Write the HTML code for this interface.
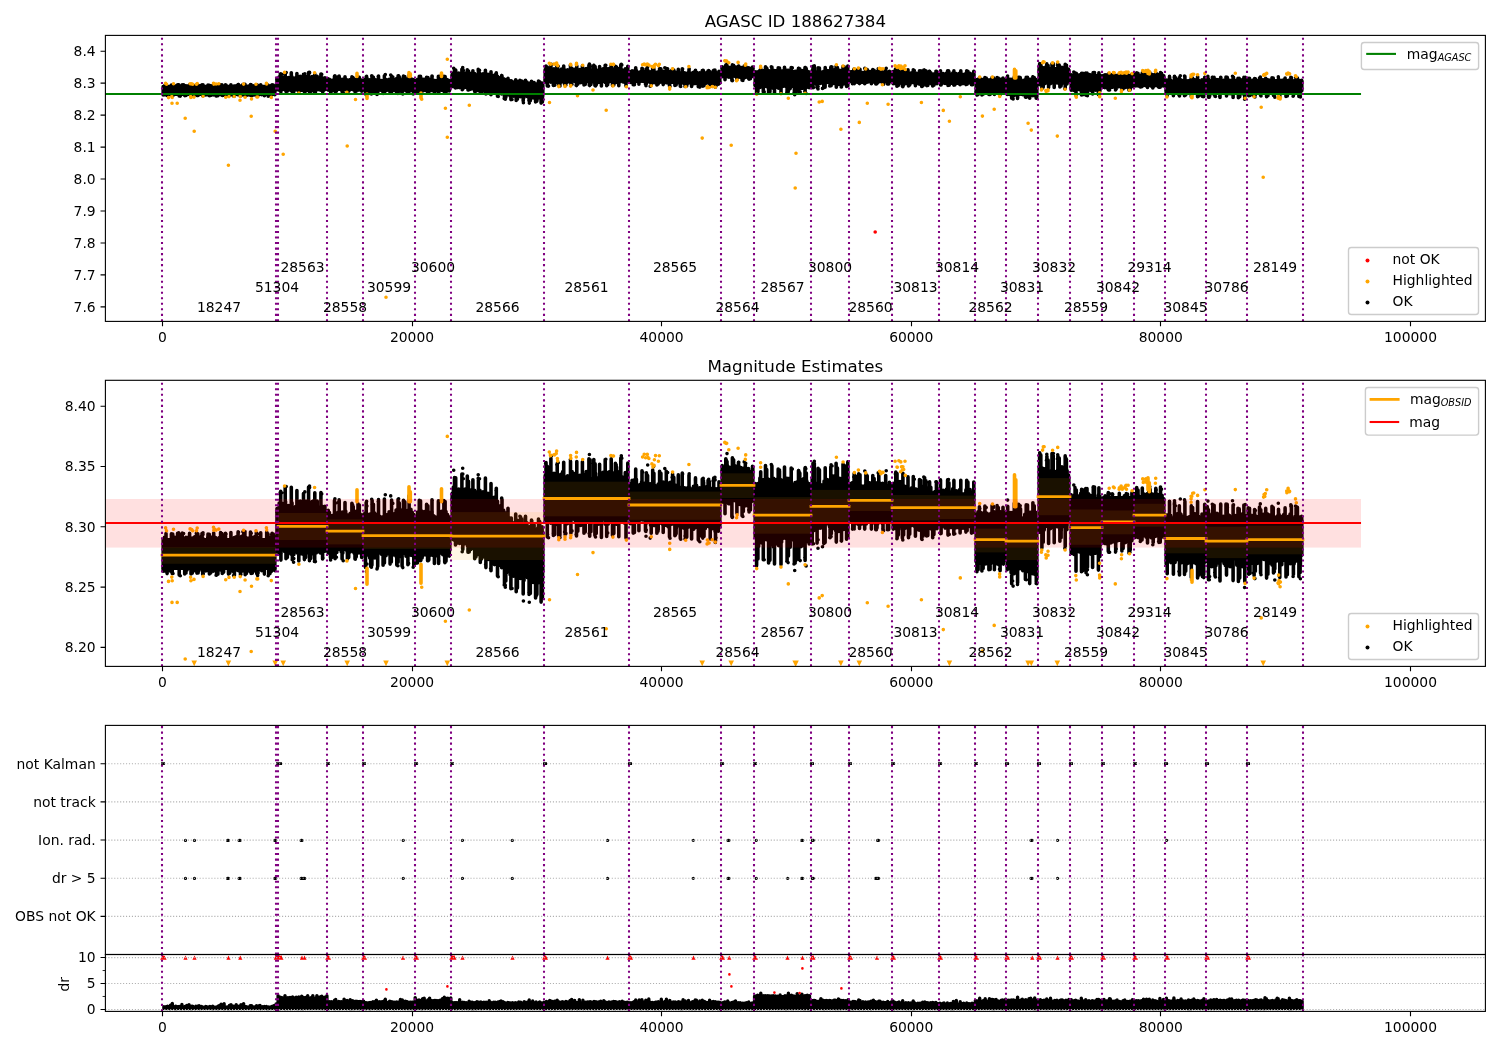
<!DOCTYPE html>
<html><head><meta charset="utf-8"><title>AGASC ID 188627384</title><style>html,body{margin:0;padding:0;background:#fff;overflow:hidden}svg{display:block;will-change:transform}</style></head><body>
<svg width="1500" height="1050" viewBox="0 0 1500 1050" font-family="'DejaVu Sans', 'Liberation Sans', sans-serif">
<defs>
<clipPath id="c0"><rect x="105.4" y="35.4" width="1380" height="286"/></clipPath>
<clipPath id="c1"><rect x="105.4" y="380.3" width="1380" height="286.1"/></clipPath>
<clipPath id="c2"><rect x="105.4" y="725.4" width="1380" height="229.1"/></clipPath>
<clipPath id="c3"><rect x="105.4" y="954.5" width="1380" height="56.9"/></clipPath>
</defs>
<rect width="1500" height="1050" fill="#fff"/>
<g clip-path="url(#c0)">
<path d="M163.2 86.6L274.8 86.6L274.8 94.1L163.2 94.1zM277 79.2L277 79.2L277 89.4L277 89.4zM279.2 79.2L325.8 79.2L325.8 89.1L279.2 89.1zM328.2 80.8L361.8 80.8L361.8 89.1L328.2 89.1zM364.2 81.8L413.8 80.5L413.8 89.4L364.2 89.4zM416.2 81.3L449.8 81.3L449.8 89.4L416.2 89.4zM452.2 75.8L475 76.3L490 76.5L505 80.5L515 82.6L542.8 84.7L542.8 94.6L515 93.6L505 92.8L490 90.4L475 88.3L452.2 85.8zM545.2 71.5L627.8 71.5L627.8 80.1L545.2 80.1zM630.2 72.8L719.8 74.7L719.8 82.4L630.2 80.4zM722.2 68.3L752.8 68.6L752.8 75.6L722.2 75.6zM755.2 73.1L809.8 73.1L809.8 84.9L755.2 84.9zM812.2 72.8L847.8 72.8L847.8 81.7L812.2 81.7zM850.2 73.4L890.8 73.4L890.8 81.4L850.2 81.4zM893.2 72.9L937.8 74.6L937.8 82.2L893.2 82.2zM940.2 74.9L973.8 74.9L973.8 82.2L940.2 82.2zM976.2 80.5L1004.8 80.5L1004.8 92L976.2 92zM1007.2 81.3L1036.8 81.3L1036.8 93.6L1007.2 93.6zM1039.2 70.2L1068.8 70.2L1068.8 81.4L1039.2 81.4zM1071.2 75.7L1100.8 75.7L1100.8 87.8L1071.2 87.8zM1103.2 75.5L1132.8 75.5L1132.8 86.2L1103.2 86.2zM1135.2 75.7L1163.8 75.7L1163.8 85.1L1135.2 85.1zM1166.2 81.8L1204.8 81.8L1204.8 90.4L1166.2 90.4zM1207.2 81.6L1245.8 81.6L1245.8 90.7L1207.2 90.7zM1248.2 81.6L1301.8 81.6L1301.8 90.7L1248.2 90.7z" fill="#000" stroke="#000" stroke-width="3.6" stroke-linejoin="round"/><path d="M164.5 86.6V85.9M165.8 86.6V86M171.7 86.6V86.1M174.9 86.6V85.9M176.9 86.6V86M178.4 86.6V85.7M179.6 86.6V85.8M185.9 86.6V85.9M187.4 86.6V86M190 86.6V85.9M193.2 86.6V86.1M194.7 86.6V85.8M198.1 86.6V86M200 86.6V85.9M201.4 86.6V85.7M202.7 86.6V86.1M207.8 86.6V85.8M209.5 86.6V85.7M210.9 86.6V85.9M212.6 86.6V86M214.2 86.6V85.8M216.1 86.6V86M219.6 86.6V85.9M221.6 86.6V85.8M223.1 86.6V86.1M230.9 86.6V86.1M234.3 86.6V86M236.2 86.6V85.8M239.6 86.6V86.1M241.6 86.6V85.7M245.9 86.6V86M248.8 86.6V86.1M250.4 86.6V85.7M252.2 86.6V86M253.9 86.6V85.9M255.1 86.6V85.7M257 86.6V85.7M258.8 86.6V86.1M270.6 86.6V85.9M273.4 86.6V86.1M274.7 86.6V85.8M166 86.6V85M171.4 86.6V85M172.7 86.6V85.1M177.6 86.6V84.9M178.8 86.6V84.9M182.3 86.6V84.8M189.6 86.6V84.9M196.6 86.6V85M197.8 86.6V85M202 86.6V84.9M208 86.6V85.1M209.3 86.6V85.2M213.7 86.6V84.8M220.6 86.6V84.7M221.9 86.6V84.9M225.5 86.6V84.9M230.9 86.6V84.7M238.1 86.6V84.5M243.7 86.6V84.5M244.9 86.6V84.6M250.5 86.6V84.5M256.3 86.6V84.8M260.7 86.6V84.7M266.7 86.6V84.6M267.9 86.6V85M272.1 86.6V84.9M273.3 86.6V85.1M163.2 94.1V94.9M164.9 94.1V94.8M166.2 94.1V94.9M167.4 94.1V94.9M170.6 94.1V94.9M185.7 94.1V94.7M187.1 94.1V94.6M192.5 94.1V94.9M194 94.1V94.6M195.7 94.1V95M197.2 94.1V94.9M199 94.1V94.7M203 94.1V94.8M205.7 94.1V94.9M207.6 94.1V94.8M210.4 94.1V94.6M213.2 94.1V94.9M215.1 94.1V94.7M216.5 94.1V94.9M220.8 94.1V94.6M222.1 94.1V94.6M228.9 94.1V94.7M230.7 94.1V94.7M232.5 94.1V94.9M237.8 94.1V94.7M239 94.1V94.9M240.9 94.1V94.7M242.7 94.1V94.8M244 94.1V94.7M245.6 94.1V94.9M247.5 94.1V94.9M249.2 94.1V94.9M250.9 94.1V94.8M254.9 94.1V94.9M256.5 94.1V94.7M258.2 94.1V94.8M261.7 94.1V94.8M263.3 94.1V94.7M271.6 94.1V94.9M274.8 94.1V94.8M167.1 94.1V95.5M172.2 94.1V95.5M179.2 94.1V96M184.7 94.1V95.6M185.9 94.1V95.3M191 94.1V95.7M192.2 94.1V95.5M196.9 94.1V95.4M198.1 94.1V95.4M202.7 94.1V95.7M209.4 94.1V95.7M210.7 94.1V95.4M216.6 94.1V96M217.9 94.1V95.8M222.3 94.1V95.5M223.6 94.1V95.2M228.5 94.1V95.7M229.7 94.1V95.5M234.4 94.1V96M240.5 94.1V95.9M245.2 94.1V95.9M246.4 94.1V95.5M251.1 94.1V95.5M252.3 94.1V95.5M256.8 94.1V95.6M258 94.1V95.5M264.4 94.1V95.7M268.8 94.1V95.8M270 94.1V95.6M277 79.2V78.3M277 89.4V89.8M279.2 79.2V76.9M280.6 79.2V78.5M282.2 79.2V77M283.8 79.2V77.9M285.5 79.2V76.4M286.9 79.2V78.4M288.4 79.2V77.5M290.1 79.2V78.1M292 79.2V76.8M293.6 79.2V78M295.5 79.2V77.8M297.4 79.2V78M298.8 79.2V76.8M300.2 79.2V76.3M301.8 79.2V78.1M303.2 79.2V77.6M304.9 79.2V76.3M306.2 79.2V77.6M307.6 79.2V76.3M308.9 79.2V78.4M310.2 79.2V77.6M312.1 79.2V76.5M313.9 79.2V76.2M315.8 79.2V77.8M317.2 79.2V76.4M319 79.2V78.4M320.7 79.2V77.6M322.2 79.2V77.8M323.5 79.2V78.5M324.9 79.2V77.7M280.7 79.2V73.8M285.2 79.2V72.7M291.3 79.2V72.7M296.9 79.2V73.6M303.5 79.2V74.3M308.6 79.2V72.6M314.8 79.2V74.1M320.9 79.2V74.1M279.2 89.1V90.2M281 89.1V90.4M284.6 89.1V89.7M286.3 89.1V89.8M288 89.1V89.6M289.4 89.1V89.7M290.8 89.1V90.4M292.4 89.1V89.8M293.9 89.1V90.5M295.6 89.1V89.7M297.4 89.1V90.1M301 89.1V90.3M302.8 89.1V90.4M304.1 89.1V89.7M305.4 89.1V89.6M307.4 89.1V90.1M309.3 89.1V89.8M311.2 89.1V89.9M312.6 89.1V90.3M316.2 89.1V90.1M317.6 89.1V89.8M318.9 89.1V89.6M320.3 89.1V90.1M322 89.1V89.6M323.3 89.1V89.8M325 89.1V89.6M280.9 89.1V92M286 89.1V91.6M287.3 89.1V91.3M292.4 89.1V91.8M298.8 89.1V92.2M304.4 89.1V91.8M305.6 89.1V91.3M309.5 89.1V92.2M310.7 89.1V91.5M314.7 89.1V92.2M322.6 89.1V91.7M328.2 80.8V78.8M329.4 80.8V79.4M331.2 80.8V80.2M333.1 80.8V80.1M334.8 80.8V79.4M336.5 80.8V79.8M338 80.8V79.3M339.6 80.8V79.2M341.1 80.8V79.6M342.3 80.8V79.3M343.9 80.8V79.9M345.7 80.8V79M347.3 80.8V80M348.9 80.8V80.1M350.2 80.8V79.6M351.5 80.8V79.6M353.1 80.8V80.2M354.8 80.8V80.2M356.6 80.8V79M358.2 80.8V80.2M359.8 80.8V79.7M361.7 80.8V80.1M334.5 80.8V76.2M339.2 80.8V76.2M345 80.8V76.7M351.9 80.8V76.9M353.2 80.8V77.8M358 80.8V77.1M359.3 80.8V77.4M328.2 89.1V90.1M333.4 89.1V89.6M335.1 89.1V90.3M336.8 89.1V90M341.2 89.1V89.8M342.8 89.1V90.2M347 89.1V89.7M348.3 89.1V89.7M349.7 89.1V89.9M353 89.1V89.8M354.3 89.1V90.2M357 89.1V90M358.9 89.1V90.1M360.4 89.1V89.6M361.6 89.1V90M330.5 89.1V91.4M331.8 89.1V91.3M335.1 89.1V91.6M342.1 89.1V91.7M347.4 89.1V91.7M348.7 89.1V91.3M355 89.1V91.7M356.2 89.1V91.2M361.7 89.1V91.3M361.8 89.1V90.7M364.2 81.8V79.7M365.7 81.8V79.4M367.1 81.7V80.7M369.1 81.7V79.8M370.8 81.6V79.7M372.8 81.6V80M374.7 81.5V79.5M376.5 81.5V80M378.3 81.4V79.7M379.8 81.4V80.4M381.5 81.4V80.6M383.4 81.3V80.4M384.6 81.3V80.5M386.6 81.2V79.9M387.9 81.2V80.6M389.1 81.2V79.2M390.8 81.1V79.1M392.6 81.1V80.4M394.3 81V79.7M396.1 81V78.7M398 80.9V80.2M399.9 80.9V78.4M401.9 80.8V80M403.3 80.8V80M404.5 80.8V78.5M406.3 80.7V78.9M408.2 80.7V78.8M409.6 80.6V79.9M410.9 80.6V78.5M412.3 80.6V79.3M413.8 80.5V79.9M366.2 81.8V76.7M372.1 81.6V76.1M373.4 81.6V77.2M378.5 81.4V76.2M384.4 81.3V75.8M391.6 81.1V76.1M398.1 80.9V75.9M399.3 80.9V76.9M403.5 80.8V76.1M404.8 80.8V76.5M409.1 80.7V75M364.2 89.4V90.1M365.5 89.4V90.2M367 89.4V90.7M368.3 89.4V90.4M369.7 89.4V91.4M371.4 89.4V90M373.4 89.4V90M374.9 89.4V91.4M376.8 89.4V91M378.3 89.4V90.1M380 89.4V90M381.4 89.4V90.4M382.6 89.4V90.5M384.4 89.4V90.9M386 89.4V90.8M387.6 89.4V90M389.3 89.4V90.4M391.1 89.4V91.2M392.6 89.4V90.7M394.4 89.4V90.5M395.8 89.4V90.9M397.7 89.4V91M399.5 89.4V91.1M401.2 89.4V90.8M402.8 89.4V90.3M404.5 89.4V89.9M406 89.4V91M407.8 89.4V90.7M409.2 89.4V90.4M410.8 89.4V90.7M412.3 89.4V90.8M365.5 89.4V93.9M370.7 89.4V93.7M371.9 89.4V93.4M377.7 89.4V93.7M383.1 89.4V93.4M384.4 89.4V92.7M390.1 89.4V93M391.3 89.4V92.5M396.8 89.4V93.3M398.1 89.4V92.5M402.1 89.4V93.6M407.9 89.4V93.2M413.8 89.4V93.5M413.8 89.4V92.6M416.2 81.3V80.5M417.6 81.3V79.2M419.1 81.3V80.5M421 81.3V79.2M422.3 81.3V79M424 81.3V79.2M425.7 81.3V79M427.6 81.3V79.1M428.9 81.3V79.4M430.6 81.3V79.3M432.1 81.3V79M433.8 81.3V80.2M435.1 81.3V80.5M436.7 81.3V80.6M438.3 81.3V80.5M439.9 81.3V79.8M441.5 81.3V79.1M442.7 81.3V79.1M444.3 81.3V79.7M446 81.3V79.1M447.5 81.3V79.9M449.5 81.3V80.6M419.3 81.3V76.2M420.5 81.3V76.3M426.6 81.3V77.2M427.9 81.3V77.6M432 81.3V76M438.4 81.3V76.3M443.9 81.3V76.2M445.1 81.3V76.5M419 89.4V90.9M420.7 89.4V90.6M422.5 89.4V90.9M424.2 89.4V90.5M425.9 89.4V90.6M427.6 89.4V90.6M428.9 89.4V90.6M430.5 89.4V90.7M431.8 89.4V90M433 89.4V90.7M435 89.4V90.6M436.5 89.4V90.8M438.3 89.4V90.5M439.7 89.4V90.1M441.2 89.4V90.1M442.8 89.4V90.6M447.7 89.4V90.8M449.3 89.4V90.9M416.2 89.4V92.8M417.4 89.4V92.8M420.9 89.4V92M422.1 89.4V91.4M427.6 89.4V92.1M428.8 89.4V91.9M434.4 89.4V92.9M438.6 89.4V92.9M444.7 89.4V92.6M446 89.4V92.3M452.2 75.8V74.3M453.4 75.8V72.7M455.2 75.8V73.1M456.7 75.9V73.7M458.7 75.9V73.1M460.3 75.9V74.5M461.9 76V73.1M463.4 76V73.6M465.1 76.1V73.2M466.9 76.1V74.7M468.1 76.1V74.8M469.7 76.2V74M471.5 76.2V73.3M472.7 76.2V73.5M474.6 76.3V73.5M476.2 76.3V74.9M478.1 76.3V73.7M479.9 76.4V73.5M481.4 76.4V75.5M483 76.4V73.9M484.4 76.4V74M486.3 76.5V75.3M488 76.5V74.3M489.6 76.5V75.4M491 76.8V74.5M492.8 77.3V75.7M494.1 77.6V75.4M495.9 78.1V77.1M497.5 78.5V76.4M499.5 79V77.7M501 79.5V78.1M502.4 79.8V79.1M503.7 80.2V78.8M505.2 80.6V79.5M506.7 80.9V79.9M510.1 81.6V80.8M511.3 81.9V80.8M514.9 82.6V82M517.7 82.8V81.5M519.6 83V82.2M521.2 83.1V82.5M523.1 83.2V82.5M525 83.4V82.2M526.9 83.5V82.1M529.6 83.7V83.2M532.6 83.9V82.6M534.1 84V82.6M537.7 84.3V83.5M539 84.4V82.9M540.4 84.5V83.5M542.1 84.6V83.1M454.5 75.8V70.1M455.7 75.8V70.1M461.9 76V69.2M467.3 76.1V69.7M468.5 76.1V71.1M472.9 76.2V70.7M478.4 76.3V70.8M485.4 76.5V70.2M491 76.8V71.7M496.3 78.2V72.9M502 79.7V75.9M508 81.2V78.2M515.7 82.7V79.8M520.5 83V80.5M521.8 83V81.1M525.5 83.4V80.3M531.5 83.8V81.4M538.5 84.3V81.1M539.7 84.3V81.8M452.2 85.8V86.4M453.4 85.9V86.6M454.9 86.1V86.8M456.8 86.3V86.9M458 86.4V87.4M459.6 86.6V87.6M462.9 87V87.6M464.2 87.1V87.7M467.5 87.5V88.3M470.9 87.8V89.1M472.8 88.1V88.8M474.5 88.3V89.1M478.2 88.8V90.5M479.8 89V90.1M481.5 89.2V90.4M482.7 89.4V91.3M484.1 89.6V90.3M485.3 89.8V90.6M487.2 90V90.5M488.5 90.2V91.8M489.8 90.4V90.9M491.5 90.7V92.1M493.1 90.9V92.6M494.4 91.1V93.2M496.2 91.4V92M497.5 91.6V93.1M499.1 91.9V92.9M500.4 92.1V93.4M501.7 92.3V94M503.6 92.6V93.4M505.2 92.8V94.9M506.6 92.9V95.3M508.5 93.1V94.6M510.1 93.2V95.9M511.7 93.3V95M513.6 93.5V96.3M515.1 93.6V95M516.6 93.7V95.6M518.6 93.7V96.7M520.5 93.8V96.8M522.4 93.9V94.8M524 93.9V97.4M525.9 94V95.5M527.5 94.1V96.7M528.9 94.1V96.5M530.2 94.2V96.2M531.8 94.2V95.1M533.1 94.3V97.9M534.9 94.3V97.9M536.6 94.4V97.6M538.6 94.5V98M539.8 94.5V97.3M541.2 94.6V97.5M542.6 94.6V97.1M455.5 86.2V87.9M462.8 87V89.1M468 87.5V89.9M469.2 87.5V89.8M474.7 88.3V91.6M475.9 88.3V91.2M480.3 89V92.6M481.5 89V91.7M485.9 89.8V93.8M491 90.6V94.8M497.5 91.6V96.2M504.5 92.7V98.2M505.8 92.7V97.5M510.9 93.3V99.6M516.2 93.6V100.4M517.4 93.6V99.3M523.2 93.9V101M529.1 94.1V101.1M530.3 94.1V100.8M535.6 94.4V102M536.9 94.4V101.1M541.1 94.6V103.1M542.4 94.6V102.1M545.2 71.5V69.5M546.9 71.5V68.8M548.8 71.5V69.7M550.4 71.5V69.4M552.4 71.5V70M554 71.5V68.9M555.3 71.5V70.1M557.3 71.5V68.9M558.9 71.5V70.6M560.8 71.5V69.2M562.7 71.5V68.5M564.6 71.5V69.9M565.9 71.5V70.2M567.6 71.5V69.7M568.9 71.5V70.4M570.6 71.5V69.4M572.1 71.5V68.5M573.8 71.5V70.7M575.3 71.5V69M576.8 71.5V69.2M578 71.5V70.1M579.8 71.5V69.5M581.6 71.5V70.4M583.2 71.5V69.6M584.6 71.5V69.3M586.2 71.5V68.5M587.9 71.5V69.9M589.2 71.5V70.5M591 71.5V70.6M592.3 71.5V70.4M593.9 71.5V68.9M595.6 71.5V69M596.8 71.5V70.8M598.6 71.5V70.1M600.4 71.5V70M601.7 71.5V70.2M603 71.5V68.7M604.7 71.5V70M606.3 71.5V69.9M607.5 71.5V68.8M609.2 71.5V68.6M610.7 71.5V69.4M612.1 71.5V70.7M614.1 71.5V68.9M615.5 71.5V68.8M617.4 71.5V70.1M619 71.5V68.6M620.6 71.5V68.6M622 71.5V69.9M623.8 71.5V70.3M625.3 71.5V68.8M626.8 71.5V69M546 71.5V66.1M547.3 71.5V67.1M550.9 71.5V65.1M557.2 71.5V66.4M563.7 71.5V66M570.5 71.5V65.8M576.8 71.5V65.9M582.4 71.5V65.9M588.9 71.5V65.2M590.1 71.5V65.4M593.8 71.5V65.3M595.1 71.5V66.5M599.6 71.5V66.6M605.2 71.5V65.3M611.2 71.5V65.2M615.4 71.5V66.3M616.6 71.5V67.4M620.8 71.5V64.9M627.8 71.5V66.3M627.8 71.5V67.5M545.2 80.1V81.9M546.6 80.1V80.8M548.1 80.1V81.6M549.4 80.1V81.4M550.8 80.1V82.2M552.5 80.1V81.2M553.9 80.1V81.8M555.4 80.1V82.7M556.9 80.1V81.3M558.8 80.1V81M560.5 80.1V81.4M562.3 80.1V81.9M564.1 80.1V81.1M565.9 80.1V82M567.4 80.1V82.3M569.3 80.1V80.9M570.7 80.1V81.5M572.1 80.1V80.8M573.5 80.1V81.1M575.3 80.1V81.7M576.6 80.1V81.4M578.2 80.1V81.5M579.5 80.1V80.8M580.7 80.1V82.8M582.5 80.1V80.9M584.3 80.1V82.8M585.9 80.1V80.9M587.5 80.1V81.6M588.9 80.1V81.9M590.1 80.1V82.7M591.8 80.1V82M593.7 80.1V82.1M595.1 80.1V81.2M596.5 80.1V80.8M598.3 80.1V82.5M599.7 80.1V81.1M601.4 80.1V82.5M603.4 80.1V81.1M605.2 80.1V82.5M607 80.1V81.4M608.3 80.1V82.5M609.8 80.1V81.5M611.4 80.1V81.5M613.3 80.1V81.2M614.5 80.1V81.9M616.2 80.1V82.4M618 80.1V82.6M619.9 80.1V81.7M621.5 80.1V81M623 80.1V81.9M624.3 80.1V82.2M625.6 80.1V81.6M627.6 80.1V80.9M547.3 80.1V85.9M553.4 80.1V85.5M554.7 80.1V85.2M558.7 80.1V85.5M559.9 80.1V85.4M565.1 80.1V85.2M570.9 80.1V84.8M576.5 80.1V85.6M577.8 80.1V84.3M584 80.1V84.9M585.2 80.1V84.5M589.7 80.1V85.6M590.9 80.1V84.4M594.9 80.1V85.4M596.2 80.1V84.9M601.4 80.1V86M606.7 80.1V85.7M612.5 80.1V85.5M613.8 80.1V84.9M618.8 80.1V85.8M626 80.1V86.1M630.2 72.8V71.9M632.1 72.9V70.8M633.6 72.9V71.3M634.9 72.9V70.6M636.4 73V70.6M638.1 73V72.3M639.6 73V72M641.5 73.1V71.3M642.7 73.1V72.2M644.2 73.1V71.6M645.9 73.2V71.8M647.3 73.2V72.6M649 73.2V72M650.2 73.3V71.8M652.2 73.3V72.6M653.5 73.3V71.4M654.9 73.3V72.3M656.5 73.4V72.3M658.2 73.4V71.8M660.2 73.5V71M661.4 73.5V71.9M663.2 73.5V71.3M665 73.6V71.8M666.7 73.6V72.4M668.2 73.6V71.6M670.1 73.7V71.4M671.8 73.7V72.6M673.6 73.7V71.9M675.2 73.8V72.1M676.7 73.8V72.3M678.2 73.8V73.2M679.7 73.8V72.8M681.7 73.9V72.5M683.2 73.9V73M684.6 73.9V72.8M685.9 74V73.5M687.8 74V72.7M689.3 74V72.6M690.8 74.1V73.3M692 74.1V73.1M693.5 74.1V72.4M695.1 74.2V72.1M696.6 74.2V72.2M698.3 74.2V73.6M699.6 74.2V72.8M701.6 74.3V73.2M703.4 74.3V73.2M705.3 74.4V73.8M706.9 74.4V72.5M708.3 74.4V73.6M709.5 74.4V73.7M710.9 74.5V72.9M712.3 74.5V73.4M713.7 74.5V73.2M715.6 74.6V73.1M716.9 74.6V73.1M718.9 74.6V73.3M635.7 73V67.8M642 73.1V68.3M646.4 73.2V68.9M647.6 73.2V69.6M652.7 73.3V68.1M653.9 73.3V69M659.6 73.4V68.5M660.9 73.4V68.9M666.3 73.6V68.5M672.6 73.7V69.2M673.8 73.7V70.1M678.3 73.8V69.4M682.2 73.9V69.1M689 74V69.4M695.5 74.2V70.2M702.3 74.3V70.5M703.6 74.3V71.3M708.1 74.4V70.8M709.4 74.4V71.2M713.7 74.5V70.3M719 74.6V71.2M719.8 74.6V72M630.2 80.4V82.4M631.4 80.4V81.2M633.3 80.4V82M634.5 80.5V81.7M635.9 80.5V81.6M637.2 80.5V81M639.2 80.6V81.5M641.1 80.6V81.3M642.6 80.7V81.3M644.2 80.7V81.4M645.9 80.7V81.4M647.7 80.8V82.1M649 80.8V81.8M650.6 80.8V82.8M652.1 80.9V81.7M654.1 80.9V82.8M655.9 81V81.9M657.2 81V81.9M658.4 81V81.6M660.1 81.1V82.2M661.7 81.1V82.2M662.9 81.1V82.7M664.6 81.2V82.5M666.3 81.2V82.8M668.3 81.3V83.2M670 81.3V82.4M671.5 81.3V82.5M673.5 81.4V82.5M675 81.4V82.6M676.3 81.4V83.6M677.5 81.5V83M679.4 81.5V82.4M681.1 81.6V82.7M682.5 81.6V82.4M683.8 81.6V83.5M685.6 81.7V83.7M686.9 81.7V83.3M688.3 81.7V83.3M690 81.8V82.8M691.9 81.8V82.3M693.7 81.8V83.8M695.4 81.9V83.4M697.4 81.9V82.8M699.1 82V83.7M700.6 82V83.7M702.1 82V83.4M703.8 82.1V83.7M705.2 82.1V83.7M706.9 82.1V83M708.5 82.2V83.1M710.5 82.2V83.5M712.2 82.3V83.7M713.8 82.3V83.2M715.1 82.3V84.5M716.8 82.4V83.8M718.4 82.4V84.3M719.8 82.4V83.2M633.2 80.4V84.8M634.4 80.4V84.7M638.9 80.6V84.2M645.5 80.7V84.3M651.2 80.9V84.9M656.9 81V84.9M658.2 81V84M663.2 81.1V84.6M669.5 81.3V85.9M674.9 81.4V85.5M676.1 81.4V85M680.3 81.5V86.2M685.4 81.7V86.2M686.7 81.7V85.9M691.6 81.8V86.4M698.3 81.9V86.7M699.5 81.9V85.7M702.8 82.1V86.2M704 82.1V85.7M710.2 82.2V86.4M715.5 82.3V86.9M722.2 68.3V66.9M723.7 68.3V67.5M725.5 68.4V67.5M727.3 68.4V66.8M728.9 68.4V67.3M730.9 68.4V67.4M734.3 68.4V67.3M735.6 68.4V67.1M736.8 68.4V67.4M738.2 68.5V67.1M739.8 68.5V67.3M741.4 68.5V67.5M743.2 68.5V68M744.5 68.5V67.5M745.8 68.5V67.5M748.5 68.5V67.7M725.8 68.4V65.1M727 68.4V65.9M732.4 68.4V64.9M733.6 68.4V65.4M738.5 68.5V66.1M745.3 68.5V66.5M752.5 68.6V67.1M752.8 68.6V67.5M722.2 75.6V76.7M723.8 75.6V76.5M725.6 75.6V76.4M727.4 75.6V76.6M728.6 75.6V77.1M729.9 75.6V77.1M731.7 75.6V77.1M733.3 75.6V76.1M734.9 75.6V76.3M736.6 75.6V76.3M738.3 75.6V76.7M739.8 75.6V77.3M741.1 75.6V76.4M743.1 75.6V76.7M745 75.6V77.6M746.5 75.6V76.3M747.8 75.6V77.6M749.1 75.6V77M750.7 75.6V76.3M752.3 75.6V76.4M725 75.6V79.7M731.9 75.6V80.5M736.9 75.6V79.3M742.1 75.6V80.2M743.3 75.6V79.1M749.1 75.6V79.2M750.4 75.6V78.7M755.2 73.1V71.7M756.5 73.1V72M757.9 73.1V71.7M759.9 73.1V70.2M761.7 73.1V71.4M763.3 73.1V70.7M765.2 73.1V70.8M766.9 73.1V72M768.6 73.1V70.6M770.5 73.1V72.2M772.2 73.1V71.7M773.6 73.1V70.3M775.3 73.1V70.8M776.6 73.1V70.6M778.6 73.1V70.4M780.4 73.1V70.6M782.2 73.1V71.1M783.8 73.1V70.6M785.6 73.1V70.5M787 73.1V70.3M788.6 73.1V70.3M789.9 73.1V70.3M791.8 73.1V71.9M793.6 73.1V71.9M795 73.1V71.4M796.4 73.1V71.4M798.3 73.1V70.9M800.1 73.1V71.6M801.9 73.1V70.7M803.7 73.1V70.4M805.5 73.1V71.5M806.8 73.1V71M808.7 73.1V71.7M760.7 73.1V68.6M765.5 73.1V66.9M766.7 73.1V68M771.9 73.1V67M778.2 73.1V67.9M779.5 73.1V68.4M784.5 73.1V67.3M791.2 73.1V67.6M798.5 73.1V68.2M799.8 73.1V68.9M805 73.1V67.6M806.3 73.1V68.9M755.2 84.9V85.8M756.7 84.9V86.1M758.6 84.9V88.3M759.9 84.9V87.4M761.6 84.9V85.8M763.1 84.9V87.9M764.8 84.9V86.5M766.6 84.9V86.6M768.3 84.9V87M770.3 84.9V87.6M772.1 84.9V87.7M773.6 84.9V88.6M775.4 84.9V87.8M776.8 84.9V86.2M778.5 84.9V88.2M780.3 84.9V86.7M781.6 84.9V87.2M783.5 84.9V86.2M785.3 84.9V86.2M786.7 84.9V85.9M788.2 84.9V86.8M790.2 84.9V88.6M791.5 84.9V86.6M793.5 84.9V86.3M794.9 84.9V87M796.2 84.9V86.5M797.7 84.9V86.8M799.7 84.9V86.5M801.1 84.9V88.4M802.6 84.9V88.2M804.3 84.9V88M805.8 84.9V86.2M807.6 84.9V87.1M809.2 84.9V87.7M756.6 84.9V93.2M757.9 84.9V91.7M763.3 84.9V91.9M768.6 84.9V92.7M769.9 84.9V92M774.5 84.9V93M781 84.9V93.2M787.1 84.9V92.3M788.4 84.9V90.9M794.4 84.9V92.9M795.6 84.9V92.2M798.8 84.9V91.8M805.1 84.9V92.1M812.2 72.8V70.5M813.7 72.8V71.3M815.3 72.8V71.6M817.2 72.8V71.6M819 72.8V70.1M820.7 72.8V72M822.5 72.8V72M824.1 72.8V71M825.3 72.8V70.5M827.1 72.8V70.6M828.6 72.8V70.8M830.3 72.8V71.5M832.2 72.8V69.6M834 72.8V69.7M835.5 72.8V69.6M836.8 72.8V70.9M838.1 72.8V71M839.8 72.8V70.3M841.4 72.8V71.3M842.7 72.8V71.1M844.2 72.8V71.6M846 72.8V70.8M847.5 72.8V71.6M813 72.8V66.3M814.3 72.8V66.3M818.1 72.8V67.7M819.4 72.8V68M825.2 72.8V67.5M830.8 72.8V67.3M836.1 72.8V66.3M837.4 72.8V67.6M843 72.8V66.6M844.2 72.8V66.9M847.8 72.8V66M812.2 81.7V83M813.9 81.7V84.2M815.5 81.7V83.6M816.9 81.7V82.8M818.8 81.7V83.1M820.1 81.7V83.5M821.4 81.7V82.7M822.9 81.7V83.5M824.6 81.7V83.8M826.2 81.7V82.4M828 81.7V82.4M829.5 81.7V83.1M831.3 81.7V83.8M832.7 81.7V83.7M834.4 81.7V83.3M835.7 81.7V84.2M837.4 81.7V82.4M838.8 81.7V84.4M840.2 81.7V83.1M842 81.7V84M843.7 81.7V83.9M845 81.7V82.5M846.9 81.7V84M812.2 81.7V87.7M817.1 81.7V87.5M823.8 81.7V87.6M825.1 81.7V87.3M830.1 81.7V86M831.3 81.7V85M836.3 81.7V87.2M841.5 81.7V86.9M846.6 81.7V86.4M847.8 81.7V86M850.2 73.4V71.7M852 73.4V71.5M853.9 73.4V71.8M855.1 73.4V71.8M857 73.4V72.2M858.9 73.4V72.6M860.9 73.4V72.2M862.6 73.4V72.5M864.1 73.4V72.4M865.5 73.4V72.8M867.1 73.4V71.4M868.8 73.4V71.4M870.6 73.4V71.6M872.6 73.4V71.7M874 73.4V72.5M875.6 73.4V72.9M877 73.4V71.5M878.9 73.4V72.4M880.7 73.4V71.7M882.6 73.4V71.7M884.2 73.4V72.7M886.1 73.4V72.4M887.8 73.4V72.3M889.4 73.4V71.4M890.8 73.4V72.1M854.1 73.4V69.4M855.4 73.4V69.7M858.7 73.4V69.1M860 73.4V69.4M865.9 73.4V69.2M867.2 73.4V69.6M872.8 73.4V69.6M874.1 73.4V70.4M878.8 73.4V69.1M885.7 73.4V69.6M853.5 81.4V82M855.2 81.4V82.2M857.8 81.4V82.5M859.1 81.4V82.6M860.6 81.4V82.3M861.9 81.4V82.4M863.3 81.4V82M866.3 81.4V82.4M867.8 81.4V82M872.4 81.4V82M874.2 81.4V82.1M877.8 81.4V82.5M882.3 81.4V82.3M886.5 81.4V82.1M889.3 81.4V82.1M852.8 81.4V83.6M854.1 81.4V83.4M859.5 81.4V83.6M864.7 81.4V83.8M871.4 81.4V83.8M875.8 81.4V83.9M877 81.4V83.4M883 81.4V84M887.5 81.4V83.9M888.7 81.4V83.9M893.2 72.9V71.6M895.2 72.9V71.7M897.2 73V71.6M898.5 73.1V71.4M899.9 73.1V71.2M901.5 73.2V72.4M903.4 73.3V72.4M904.9 73.3V72.4M908.2 73.5V72.8M911.7 73.6V72.8M913.3 73.7V72.4M915.1 73.7V73.1M916.5 73.8V73.2M918.4 73.9V73.2M919.7 73.9V72.8M921.4 74V72.3M922.6 74V73.3M924 74.1V72.9M925.5 74.1V73.2M927.4 74.2V72.9M929.3 74.3V72.6M930.8 74.4V72.7M934.2 74.5V74M935.4 74.5V73.8M936.9 74.6V73M895.8 73V68.7M897 73V69M902.9 73.3V69M908 73.5V69.9M913.3 73.7V69.8M919.5 73.9V70.7M920.8 73.9V70.8M924.6 74.1V70.2M925.9 74.1V70.9M929.6 74.3V71.2M936.4 74.6V71.3M893.2 82.2V83.8M895.1 82.2V83.6M896.8 82.2V83.7M898.7 82.2V82.9M900.6 82.2V83.1M902 82.2V83.8M903.6 82.2V83.9M905.5 82.2V83.5M908.5 82.2V83.7M910 82.2V82.7M911.2 82.2V82.9M914.3 82.2V83M916.1 82.2V84.1M917.3 82.2V82.8M919.2 82.2V84.1M920.5 82.2V83.1M922.2 82.2V83.1M923.7 82.2V83.3M925.1 82.2V82.7M926.4 82.2V82.9M927.6 82.2V83.6M929.4 82.2V83M931.2 82.2V83.7M932.7 82.2V83.4M934.1 82.2V84M935.7 82.2V82.7M937 82.2V83.7M897.1 82.2V86.3M898.3 82.2V85.4M902.4 82.2V86.2M903.6 82.2V85.3M908.5 82.2V86M909.7 82.2V85.1M915.4 82.2V85.7M921.7 82.2V86.4M923 82.2V85.7M926.6 82.2V85.6M927.8 82.2V85.5M932.7 82.2V86M933.9 82.2V85.2M940.2 74.9V73.5M941.6 74.9V74M943.2 74.9V73.5M945 74.9V74M946.5 74.9V73.1M948.5 74.9V73.6M949.8 74.9V73.8M951.5 74.9V74.1M952.7 74.9V73.1M954.6 74.9V74.3M956.2 74.9V73.6M957.6 74.9V74.4M959.4 74.9V73.4M961 74.9V74.4M962.5 74.9V74.4M964.5 74.9V74.4M965.9 74.9V73.4M967.2 74.9V74.4M968.5 74.9V74.3M970.1 74.9V73.3M971.4 74.9V74.3M973.2 74.9V73.9M940.5 74.9V70.7M947.6 74.9V70.7M948.9 74.9V71.5M953.9 74.9V70.9M960.8 74.9V70.8M966.7 74.9V70.8M967.9 74.9V71.3M973.8 74.9V71.3M973.8 74.9V71.5M940.2 82.2V82.9M941.5 82.2V82.8M943.4 82.2V83M945.1 82.2V83.5M946.9 82.2V82.8M948.9 82.2V83.4M950.9 82.2V83.3M952.7 82.2V83.4M954.1 82.2V83.3M955.6 82.2V83.5M956.9 82.2V83.1M958.3 82.2V83.4M959.8 82.2V83.5M961.7 82.2V83.5M963 82.2V83.6M964.8 82.2V83.3M968.4 82.2V83.1M970 82.2V82.9M971.8 82.2V83.4M973.7 82.2V82.8M941.1 82.2V84.9M948 82.2V85.4M953.8 82.2V85.1M960.1 82.2V84.8M965.9 82.2V84.6M967.1 82.2V84.2M971.5 82.2V84.8M972.7 82.2V84.7M976.2 80.5V79.8M978 80.5V79.2M979.3 80.5V79.9M980.8 80.5V79.4M982.1 80.5V79.6M983.7 80.5V79.4M985.1 80.5V79.1M987.1 80.5V79.6M988.9 80.5V80M990.8 80.5V79.6M992.6 80.5V79.2M994.1 80.5V79.2M997.1 80.5V79.2M999 80.5V79.1M1000.6 80.5V79.2M1002.3 80.5V80M1004 80.5V79.3M979.4 80.5V77.8M984.9 80.5V77.6M992.1 80.5V77.5M997.1 80.5V77.6M998.3 80.5V78M1003 80.5V78M976.2 92V92.5M977.8 92V92.8M979.8 92V92.8M981.7 92V92.8M983.1 92V92.9M985.7 92V93M987.6 92V92.7M989.1 92V92.7M990.6 92V93M994 92V92.9M995.2 92V93.2M997 92V92.7M998.7 92V93.2M1000.2 92V92.7M1001.6 92V92.9M1003.4 92V93.1M976.9 92V94.8M978.1 92V94.6M981.9 92V94.9M983.1 92V94.2M988.9 92V94.5M990.1 92V94.5M994.4 92V94.5M1000.1 92V94.8M1007.2 81.3V79.7M1009.1 81.3V79.4M1010.8 81.3V79.4M1012 81.3V79.4M1013.6 81.3V80.5M1015.4 81.3V79.5M1016.9 81.3V80.7M1018.8 81.3V79.7M1020.5 81.3V79.3M1021.7 81.3V80.8M1023 81.3V80.8M1024.8 81.3V79.9M1026.1 81.3V80.6M1027.4 81.3V79.9M1029.1 81.3V79.3M1030.6 81.3V79.3M1032.2 81.3V80.2M1033.6 81.3V80.5M1035.6 81.3V79.3M1007.7 81.3V77.7M1014.3 81.3V76.9M1015.6 81.3V77.6M1019.2 81.3V77.4M1020.5 81.3V78.4M1026.2 81.3V77.4M1027.5 81.3V77.4M1032.9 81.3V76.8M1034.2 81.3V77.6M1007.2 93.6V94.5M1009.1 93.6V94.2M1011.1 93.6V95.3M1012.4 93.6V95.3M1014.1 93.6V95.6M1015.7 93.6V94.8M1017.7 93.6V94.2M1019.5 93.6V94.2M1020.9 93.6V94.3M1022.8 93.6V94.8M1024.6 93.6V94.5M1026.4 93.6V95.2M1027.7 93.6V94.9M1029.4 93.6V94.4M1031.2 93.6V94.5M1032.7 93.6V95.6M1034.6 93.6V95.7M1036.2 93.6V95M1011.7 93.6V98.3M1017.6 93.6V98M1025.4 93.6V97.1M1029.7 93.6V98.2M1036.3 93.6V97.9M1036.8 93.6V97.1M1039.2 70.2V67.5M1040.8 70.2V69.3M1042.7 70.2V67.6M1044.4 70.2V67.8M1045.8 70.2V68.4M1047.7 70.2V67.3M1049.6 70.2V69.1M1051.4 70.2V68.2M1052.9 70.2V69.1M1054.2 70.2V68.4M1055.8 70.2V68.9M1057.3 70.2V68.2M1059.1 70.2V68.1M1060.4 70.2V67.5M1061.9 70.2V67.3M1063.9 70.2V69.2M1065.6 70.2V67.3M1067.1 70.2V68.2M1068.5 70.2V69.4M1039.6 70.2V64M1040.8 70.2V64.1M1046.9 70.2V64.5M1048.1 70.2V65.5M1052 70.2V63.8M1053.2 70.2V64.3M1057.9 70.2V64.4M1059.2 70.2V65M1065.2 70.2V64.4M1066.4 70.2V65.7M1039.2 81.4V84.6M1041.2 81.4V84.7M1042.9 81.4V83.8M1044.2 81.4V84M1045.9 81.4V83.1M1047.8 81.4V82.8M1049.1 81.4V82.6M1050.4 81.4V83.7M1052.3 81.4V82.6M1053.9 81.4V83.6M1055.5 81.4V83.2M1057.1 81.4V82.2M1058.4 81.4V83.3M1059.8 81.4V84.1M1061.2 81.4V84.3M1062.6 81.4V82.4M1064.1 81.4V83.2M1065.6 81.4V84.1M1067 81.4V83.9M1041.9 81.4V88.7M1043.2 81.4V87.2M1048.6 81.4V87.6M1054.2 81.4V87.4M1059.9 81.4V87M1061.1 81.4V86.1M1065.2 81.4V88.4M1071.2 75.7V74.7M1073.2 75.7V75M1074.6 75.7V74.7M1076 75.7V75M1077.7 75.7V74.9M1080.7 75.7V74.3M1084.2 75.7V74.9M1085.6 75.7V74.7M1087.2 75.7V74.5M1088.6 75.7V74.4M1090.5 75.7V74.9M1091.8 75.7V74.9M1093.1 75.7V74.7M1094.8 75.7V74.8M1098.6 75.7V74.5M1099.9 75.7V75.1M1075.1 75.7V73M1076.3 75.7V73.4M1081.6 75.7V73.2M1082.8 75.7V73.4M1085.7 75.7V73M1087 75.7V73M1093.3 75.7V72.6M1094.5 75.7V72.6M1098.9 75.7V72.8M1071.2 87.8V90.2M1072.5 87.8V89.9M1074 87.8V90.5M1075.7 87.8V90.5M1077.3 87.8V89.2M1079.3 87.8V89.8M1080.8 87.8V89.3M1082.3 87.8V90.4M1084.2 87.8V89.8M1085.9 87.8V89.1M1087.5 87.8V89.4M1089 87.8V89.4M1090.8 87.8V90.4M1092.1 87.8V89.1M1094 87.8V90.2M1095.7 87.8V90.2M1097.4 87.8V89.2M1098.7 87.8V89.4M1099.9 87.8V91M1076 87.8V94.9M1081.5 87.8V95M1082.8 87.8V94.8M1086.2 87.8V95.1M1087.5 87.8V93.9M1092.6 87.8V93.9M1098.4 87.8V94.6M1105.1 75.5V74.9M1124.3 75.5V75M1108.4 75.5V74.3M1112.3 75.5V74.5M1119.3 75.5V74.3M1126.3 75.5V74.3M1127.5 75.5V74.5M1131.9 75.5V74.2M1103.2 86.2V87.1M1104.6 86.2V87.6M1106.2 86.2V87.6M1107.7 86.2V87.5M1108.9 86.2V86.8M1110.8 86.2V87.4M1112.6 86.2V87.2M1114.2 86.2V86.8M1115.5 86.2V87.4M1117.3 86.2V86.9M1119 86.2V86.7M1120.7 86.2V86.8M1122.3 86.2V87M1123.9 86.2V86.7M1125.5 86.2V87.4M1126.8 86.2V87M1128.5 86.2V87.3M1130.2 86.2V87.6M1131.9 86.2V86.8M1108.3 86.2V89.7M1115.7 86.2V89.7M1121.9 86.2V89.5M1123.1 86.2V88.9M1129 86.2V89.8M1130.2 86.2V89.3M1135.2 75.7V74.4M1136.5 75.7V74.6M1138.1 75.7V74.4M1139.7 75.7V75.2M1141.6 75.7V75.1M1143.4 75.7V74.4M1144.8 75.7V74.6M1146.3 75.7V75.1M1147.7 75.7V74.2M1149.2 75.7V74.8M1152.6 75.7V74.5M1154.5 75.7V75M1155.9 75.7V75M1157.7 75.7V74.6M1159.2 75.7V74.8M1160.5 75.7V74.3M1162.1 75.7V74.8M1136.7 75.7V72.8M1138 75.7V73.4M1142.3 75.7V72.9M1148.8 75.7V72.6M1150.1 75.7V73.3M1155.8 75.7V72.9M1160.5 75.7V72.6M1135.2 85.1V86M1136.9 85.1V85.8M1138.2 85.1V86M1139.7 85.1V86M1141.1 85.1V85.8M1142.8 85.1V85.7M1146.1 85.1V85.9M1147.4 85.1V85.8M1151.1 85.1V86.1M1154.8 85.1V85.8M1156.2 85.1V85.6M1157.8 85.1V85.7M1159.6 85.1V86M1162.1 85.1V85.6M1163.4 85.1V85.9M1140.7 85.1V86.9M1142 85.1V86.6M1147.5 85.1V87.4M1153.2 85.1V87.3M1159 85.1V87.3M1160.2 85.1V87.2M1166.2 81.8V80M1167.9 81.8V80M1169.1 81.8V80.4M1170.6 81.8V80.1M1172.1 81.8V81M1173.8 81.8V80.7M1175.6 81.8V80.7M1177.3 81.8V79.7M1178.6 81.8V79.9M1179.8 81.8V79.5M1181 81.8V79.9M1182.5 81.8V80.9M1184.1 81.8V80.3M1185.6 81.8V81M1187.2 81.8V80.7M1189.2 81.8V80.5M1190.7 81.8V80.8M1192.7 81.8V80.7M1194.4 81.8V79.7M1195.9 81.8V79.8M1197.4 81.8V81.1M1198.6 81.8V80.4M1200.5 81.8V80.9M1202 81.8V79.8M1203.5 81.8V81M1169.5 81.8V76.4M1174.5 81.8V76.6M1179.3 81.8V77.6M1184.9 81.8V76.4M1191.3 81.8V77.6M1192.6 81.8V78.1M1197.6 81.8V76.5M1204.7 81.8V77.2M1204.8 81.8V77.3M1166.2 90.4V93M1167.5 90.4V91.6M1169.2 90.4V91.5M1170.8 90.4V92.6M1172.1 90.4V92.5M1173.4 90.4V92.1M1175.1 90.4V92.6M1176.3 90.4V91.5M1178.3 90.4V91.9M1179.8 90.4V91.9M1181.6 90.4V92.7M1183.3 90.4V92M1185 90.4V92.2M1186.3 90.4V93.2M1188.3 90.4V92.8M1190.3 90.4V92.1M1192.1 90.4V91.6M1193.9 90.4V92.6M1195.9 90.4V92.9M1197.8 90.4V91.7M1199.6 90.4V92.1M1201.1 90.4V91.9M1202.9 90.4V92.9M1204.8 90.4V92.5M1167.2 90.4V95.6M1173.4 90.4V95.7M1179.5 90.4V95.9M1184.5 90.4V95.8M1185.7 90.4V94.9M1191.3 90.4V96.6M1197.6 90.4V96.7M1198.9 90.4V96M1202.5 90.4V96.4M1203.7 90.4V95.9M1207.2 81.6V80.6M1208.5 81.6V80.1M1210.3 81.6V80.7M1212.1 81.6V79.7M1213.4 81.6V80.9M1215 81.6V80.6M1216.9 81.6V79.5M1218.5 81.6V79.9M1220.2 81.6V80.8M1222.2 81.6V80.8M1223.4 81.6V80.4M1224.7 81.6V80.4M1226.2 81.6V79.6M1227.7 81.6V79.8M1229.5 81.6V80.2M1230.9 81.6V80.6M1232.5 81.6V80.5M1234.2 81.6V80.3M1235.7 81.6V80.2M1237.7 81.6V80.8M1240.4 81.6V81M1242 81.6V79.8M1243.7 81.6V79.6M1245.6 81.6V80.2M1207.2 81.6V77.8M1208.5 81.6V78.7M1212.8 81.6V77.4M1214.1 81.6V77.4M1220.7 81.6V77.2M1226 81.6V77.1M1227.2 81.6V77.2M1233.1 81.6V77.4M1238 81.6V78.2M1239.2 81.6V78.4M1243.9 81.6V77.4M1207.2 90.7V92.4M1208.7 90.7V93.4M1210 90.7V92.8M1211.8 90.7V93.7M1213.1 90.7V92.1M1214.6 90.7V93.7M1216 90.7V93.5M1217.5 90.7V92.8M1219.4 90.7V91.6M1220.9 90.7V91.8M1222.2 90.7V92.2M1224 90.7V92.9M1225.3 90.7V93.4M1226.9 90.7V91.8M1228.7 90.7V93.5M1230.1 90.7V93.8M1231.9 90.7V92M1233.1 90.7V93.6M1235 90.7V91.6M1236.8 90.7V93.3M1238.5 90.7V93.5M1240.5 90.7V92.2M1242.4 90.7V93.7M1243.8 90.7V93.1M1245.6 90.7V93.5M1208.5 90.7V97.2M1215 90.7V96.2M1220 90.7V97.5M1226.5 90.7V96M1233.1 90.7V97.4M1238.4 90.7V97.7M1239.7 90.7V96.8M1244.8 90.7V97.7M1248.2 81.6V80.6M1250.1 81.6V79.9M1251.6 81.6V81M1253.3 81.6V80.1M1255.2 81.6V80.3M1256.7 81.6V80.5M1258.1 81.6V80.6M1259.7 81.6V79.9M1261.6 81.6V79.9M1263.2 81.6V79.8M1264.5 81.6V79.9M1266.2 81.6V80M1267.7 81.6V79.8M1269 81.6V80M1270.8 81.6V80.7M1272.7 81.6V80.9M1274.5 81.6V80.5M1276 81.6V80.9M1277.8 81.6V80.2M1279.1 81.6V79.8M1280.5 81.6V80.7M1282 81.6V80.4M1283.9 81.6V79.9M1285.6 81.6V80.7M1286.9 81.6V81.1M1288.5 81.6V80.4M1290.1 81.6V79.8M1291.6 81.6V80.7M1293.2 81.6V80.9M1295.1 81.6V80.3M1296.8 81.6V80.6M1298.2 81.6V80.7M1299.7 81.6V80.6M1301.7 81.6V80.4M1248.2 81.6V78.2M1249.5 81.6V78.3M1254.6 81.6V78.6M1259.5 81.6V78M1260.8 81.6V78.7M1265.7 81.6V78.3M1272 81.6V77.7M1273.2 81.6V78.1M1278.5 81.6V78.5M1285.1 81.6V78.2M1291.4 81.6V77.6M1296.1 81.6V77.8M1297.4 81.6V78M1248.2 90.7V92.2M1250 90.7V92.7M1251.4 90.7V92.4M1253 90.7V92.9M1254.4 90.7V92M1255.9 90.7V91.5M1257.3 90.7V92.9M1259 90.7V91.7M1260.8 90.7V91.5M1262.6 90.7V91.6M1263.9 90.7V91.8M1265.5 90.7V91.9M1267.4 90.7V93.3M1268.8 90.7V92.9M1270.6 90.7V92.5M1272 90.7V93.3M1273.9 90.7V91.3M1275.4 90.7V92M1276.8 90.7V92.2M1278.7 90.7V91.3M1280.5 90.7V92M1281.8 90.7V93.2M1283.2 90.7V91.7M1284.5 90.7V92.1M1285.8 90.7V91.7M1287.2 90.7V92.5M1288.7 90.7V91.9M1290.3 90.7V92.9M1292.1 90.7V92M1294.1 90.7V93M1295.7 90.7V92.3M1297.2 90.7V91.6M1299.1 90.7V92.6M1300.4 90.7V93.3M1248.7 90.7V95.7M1250 90.7V95.5M1254.1 90.7V96M1255.3 90.7V95M1260.6 90.7V95.5M1266.6 90.7V96.7M1267.9 90.7V95.5M1273.5 90.7V95.4M1274.8 90.7V94.4M1279.8 90.7V96.6M1286 90.7V96.4M1287.3 90.7V95.9M1293.4 90.7V95.8M1298.9 90.7V96.4M1300.1 90.7V95.1M172.2 85.2h0.01M171.6 85.3h0.01M178.6 84.8h0.01M178.5 85.1h0.01M183.6 84.9h0.01M197.5 85.1h0.01M196.3 84.9h0.01M203 85.2h0.01M203 84.8h0.01M209.3 85.2h0.01M213.6 84.9h0.01M226 85.1h0.01M238.5 84.6h0.01M243.6 84.6h0.01M245 84.4h0.01M242.9 84.5h0.01M251.2 84.9h0.01M257.3 85h0.01M256.5 84.8h0.01M271.6 85.2h0.01M173 95.5h0.01M180.3 96.1h0.01M186 95.4h0.01M203.3 95.6h0.01M203 95.5h0.01M216.1 96h0.01M222.4 95.4h0.01M233.6 96.1h0.01M240.9 95.7h0.01M251.7 95.2h0.01M257.6 95.6h0.01M257.7 95.5h0.01M257.6 96.1h0.01M268.2 96.2h0.01M281.7 74.2h0.01M280.2 74.1h0.01M286.2 72.5h0.01M304.8 73.9h0.01M309.5 72.3h0.01M309.6 72.8h0.01M314.7 75h0.01M321.7 74.4h0.01M293.8 91.6h0.01M292.2 91.9h0.01M293.6 92.5h0.01M315.4 92.4h0.01M314.4 92.3h0.01M323 91.4h0.01M334.9 75.8h0.01M335.8 76.9h0.01M339.1 76h0.01M338.8 76.4h0.01M352.6 77.3h0.01M359 77.5h0.01M330.6 92h0.01M336.4 91.2h0.01M343.2 92.2h0.01M347.7 91.3h0.01M355.3 91.8h0.01M366.6 76.4h0.01M366.9 77.7h0.01M371.7 75.9h0.01M371.9 77.2h0.01M378.2 76.5h0.01M378.5 76h0.01M385.3 74.6h0.01M392.8 77h0.01M390.7 75h0.01M398.6 75.7h0.01M403.3 76.5h0.01M366.9 93h0.01M366.4 95h0.01M371.4 93.9h0.01M377.3 94.1h0.01M377 94.4h0.01M396.9 93.3h0.01M397.9 93.5h0.01M402 93.2h0.01M402 93.3h0.01M402.8 94h0.01M408.6 92.9h0.01M413.8 92.7h0.01M413.2 93.9h0.01M432.2 76.2h0.01M439.7 76.3h0.01M416.4 92.2h0.01M420.5 92.2h0.01M420.5 91.5h0.01M428.4 91.7h0.01M428.2 92.2h0.01M438.9 92.2h0.01M438.7 92.8h0.01M444.9 92.7h0.01M453.7 68.2h0.01M462.8 69.2h0.01M463.3 70.4h0.01M462.7 67.6h0.01M478.2 70.3h0.01M479.5 70.4h0.01M478.2 69.4h0.01M496 73.6h0.01M501.7 75.5h0.01M501.6 75.6h0.01M520.6 80.9h0.01M519.9 80.4h0.01M525.2 80.8h0.01M531.9 81.7h0.01M455.5 87.8h0.01M456.2 87.7h0.01M462.5 88.8h0.01M462.2 89.8h0.01M468.5 89.9h0.01M485.9 94h0.01M485.6 93.1h0.01M490.6 94.2h0.01M498.2 96.4h0.01M505.3 98.7h0.01M504.2 98.6h0.01M505.3 99.2h0.01M512 99.5h0.01M511 99.2h0.01M523.4 102.8h0.01M528.9 100.6h0.01M530.3 99.7h0.01M529.3 103.1h0.01M536.4 101.4h0.01M545.6 66.3h0.01M551.3 64.4h0.01M556.8 66.7h0.01M558.2 66.2h0.01M570.3 65.4h0.01M589.4 64h0.01M593.9 65.4h0.01M593.6 66.3h0.01M605.8 65.3h0.01M605.1 65.8h0.01M616.3 67.2h0.01M616.2 66.8h0.01M621.5 64.8h0.01M621.8 65h0.01M621.3 64.3h0.01M627.8 66.9h0.01M548.5 86.1h0.01M547.6 85.2h0.01M553.2 84.9h0.01M553.7 85.3h0.01M560 86h0.01M559.3 85.7h0.01M564.6 84.5h0.01M565.9 84.9h0.01M571.4 84.1h0.01M572 84.3h0.01M576.1 85.2h0.01M589.2 84.9h0.01M589.8 84.6h0.01M595.5 85.9h0.01M596.1 84.6h0.01M607.7 84.8h0.01M642.7 68.7h0.01M647 69.4h0.01M647.7 66.8h0.01M653.6 67.2h0.01M667.6 68.8h0.01M666.2 68.7h0.01M664.8 67.7h0.01M672.1 70.1h0.01M682.6 69.1h0.01M682.3 68.9h0.01M689.2 69.1h0.01M695.3 70.8h0.01M703.5 71h0.01M703.2 70.3h0.01M708.7 70.6h0.01M715.1 70.7h0.01M713.1 71h0.01M714.9 70h0.01M646.3 84h0.01M645.9 84.4h0.01M646 85.7h0.01M650.2 86.2h0.01M658 84.3h0.01M670 86.2h0.01M675.8 84.8h0.01M675.5 85.3h0.01M680.7 86.5h0.01M685 85.6h0.01M685 86.4h0.01M699.8 87.1h0.01M703 85.4h0.01M715.3 87.3h0.01M716 86.1h0.01M725.8 65.5h0.01M726.3 65.4h0.01M727 63.8h0.01M738.8 66.1h0.01M745.7 66.3h0.01M744.2 66h0.01M752.8 67.3h0.01M732.3 80.7h0.01M732.5 80.5h0.01M736.9 79.5h0.01M742.9 80.4h0.01M748.7 78.7h0.01M771.3 66.7h0.01M778.4 68.1h0.01M779.5 68.1h0.01M792.3 67.9h0.01M798.7 68.2h0.01M799.2 68.7h0.01M805.8 67.8h0.01M805.3 67.5h0.01M756.6 93.5h0.01M764.2 91.9h0.01M769.6 92.1h0.01M788.1 92.6h0.01M786.8 92.3h0.01M794 93h0.01M795.2 92.8h0.01M794.7 94.7h0.01M800.2 92.1h0.01M804.8 91.2h0.01M806.1 93.5h0.01M814.3 65.8h0.01M818 68.1h0.01M831.1 66.7h0.01M832 67h0.01M813.5 87.6h0.01M817.9 86.7h0.01M818.1 86.6h0.01M818 88.9h0.01M824.5 87.5h0.01M822.5 88.4h0.01M831.1 85.8h0.01M829.7 86h0.01M841.2 86.9h0.01M846.9 86.1h0.01M853.7 69.9h0.01M854.1 69.1h0.01M858.6 69.6h0.01M865.9 70h0.01M864.8 68.4h0.01M878.9 68.9h0.01M878.2 68.9h0.01M886.2 68.3h0.01M854.2 83.7h0.01M852.5 83.8h0.01M876.4 83.9h0.01M882.8 83.7h0.01M883.6 84.2h0.01M888.2 83.4h0.01M895.4 69.2h0.01M914.3 70.6h0.01M924.7 70.2h0.01M923.8 70h0.01M929.2 71.3h0.01M935.9 71.3h0.01M896.9 86.3h0.01M902.8 86.7h0.01M908.3 85.6h0.01M915.4 85.1h0.01M922.1 86.5h0.01M926.4 85h0.01M948.5 70.7h0.01M940.9 84.4h0.01M940.6 85h0.01M949.2 85.2h0.01M954.8 85h0.01M966.1 84.2h0.01M979.8 78.3h0.01M986.2 78h0.01M993.4 78.1h0.01M993.4 77.7h0.01M997 78h0.01M976.9 95.1h0.01M989.2 94.3h0.01M999.5 94.4h0.01M1007.3 77.9h0.01M1007.6 76.1h0.01M1015.6 76.6h0.01M1020.2 77.6h0.01M1018.6 77.2h0.01M1026.9 77.8h0.01M1026.4 77.8h0.01M1032.8 76.9h0.01M1012 97.5h0.01M1012.6 97.5h0.01M1013.1 98.9h0.01M1017.5 98.5h0.01M1026.3 97.2h0.01M1036.2 98.2h0.01M1036.8 98.2h0.01M1039.7 63.5h0.01M1046.8 63.9h0.01M1046.4 65.6h0.01M1053.4 63.7h0.01M1052.8 65h0.01M1057.4 65.2h0.01M1057.7 64.1h0.01M1066.5 65.3h0.01M1066.1 65.1h0.01M1064.8 88.8h0.01M1075 72.8h0.01M1073.8 72.1h0.01M1093.1 72.7h0.01M1081.8 94.3h0.01M1087.4 94.6h0.01M1086 95.3h0.01M1087.4 95.8h0.01M1092.7 92.7h0.01M1108 74.4h0.01M1109.3 74.4h0.01M1108.3 74.1h0.01M1112.7 74.6h0.01M1132.8 74.3h0.01M1109.6 89.9h0.01M1108.6 89.9h0.01M1115.5 89.9h0.01M1116.2 89h0.01M1121.9 88.9h0.01M1121.9 88.9h0.01M1128.9 90.1h0.01M1130 89.9h0.01M1148.8 72.4h0.01M1149.8 72.6h0.01M1156.2 73.4h0.01M1161.5 73.2h0.01M1140.9 86.7h0.01M1140.3 87h0.01M1153 87.2h0.01M1152.8 87.9h0.01M1158.6 87.1h0.01M1169.7 77.4h0.01M1174.2 77.2h0.01M1175.4 77.6h0.01M1174.5 76.3h0.01M1180.3 75.8h0.01M1184.5 76h0.01M1191.3 77.8h0.01M1204.8 77.7h0.01M1204.8 77.2h0.01M1179.3 95.2h0.01M1178.9 95h0.01M1185.7 94.9h0.01M1185.6 94.7h0.01M1191.3 96.1h0.01M1203.8 96.6h0.01M1207.4 78h0.01M1207.9 76.3h0.01M1212.3 77.2h0.01M1220.9 77.6h0.01M1227.4 78h0.01M1233.5 77.4h0.01M1232.5 76.3h0.01M1245.2 77.3h0.01M1209.6 96.4h0.01M1209.3 97.2h0.01M1215.4 96.5h0.01M1214.7 95.3h0.01M1219.6 96.6h0.01M1233.1 96.6h0.01M1244.6 99.3h0.01M1255.4 78.9h0.01M1260.3 77.1h0.01M1272.5 78.3h0.01M1278.3 76.9h0.01M1285.1 78.1h0.01M1290.8 77.4h0.01M1290.9 77.7h0.01M1295.6 77.6h0.01M1253.5 95.4h0.01M1254.9 96.9h0.01M1261 95.9h0.01M1267.9 95.7h0.01M1274.3 94.9h0.01M1274.3 95h0.01M1274.8 97.2h0.01M1279.3 96.3h0.01M1293.3 94.8h0.01M1293.1 96.3h0.01M1300.2 95.2h0.01M1300.4 96.9h0.01" stroke="#000" stroke-width="3.6" stroke-linecap="round" fill="none"/><path d="M1014.5 77.9V69.4M1015.8 77.9V70.7M409 76.5V72.6M410.3 76.5V73.9M357 76.5V73.4M441.5 76.5V73.1M1148 73.4V70.2M1149.3 73.9V71.5M367 94.1V98.4M421 93.1V98.1M1192 94.7V97.8M165.6 83.4h0.01M166.5 84.2h0.01M190.1 83.7h0.01M197.2 83.5h0.01M196.5 84.2h0.01M213.5 83.3h0.01M213.8 84.1h0.01M243.6 84.1h0.01M256 84.2h0.01M266.4 83.4h0.01M266.6 84h0.01M172.2 97.5h0.01M171.8 96.5h0.01M190.9 97.4h0.01M190.6 96.5h0.01M203.1 96.3h0.01M229 96.6h0.01M234.2 96.5h0.01M240.2 96.4h0.01M245.1 97.3h0.01M251.5 98.9h0.01M284.6 72.4h0.01M314.6 72.7h0.01M298.9 93.1h0.01M346.9 92.2h0.01M550.5 64.3h0.01M557.4 65.1h0.01M557.7 65.7h0.01M570.6 64.3h0.01M570.8 65h0.01M576.5 63.4h0.01M576.3 64.7h0.01M582.7 65.3h0.01M558.8 86.6h0.01M558.8 86h0.01M565 86.5h0.01M565 85.8h0.01M570.6 86.1h0.01M570.9 85.5h0.01M612.9 85.9h0.01M626.4 86.7h0.01M653 67.3h0.01M672.6 68.7h0.01M688.9 66.6h0.01M651.3 85.8h0.01M669.7 89.1h0.01M669.7 87.5h0.01M685.7 86.7h0.01M738.1 62.4h0.01M745.7 64.1h0.01M745.3 65.3h0.01M736.6 80.7h0.01M737.2 80h0.01M760.6 66.2h0.01M760.6 67.4h0.01M756.7 94.2h0.01M781 93.8h0.01M805.1 93.2h0.01M836.4 64.7h0.01M843.1 66h0.01M854.4 68.8h0.01M858.4 68.1h0.01M865.7 68.9h0.01M882.4 84.7h0.01M979.7 77h0.01M992.5 77.1h0.01M999.7 96.4h0.01M999.6 95.6h0.01M1052.6 62.9h0.01M1057.7 62.1h0.01M1041.4 89.9h0.01M1041.8 89.3h0.01M1065.1 89.3h0.01M1076.3 97.3h0.01M1075.8 96.1h0.01M1126.1 72.1h0.01M1126.5 73.2h0.01M1132.1 73.6h0.01M1121.4 91.6h0.01M1121.6 90.6h0.01M1129.5 90.3h0.01M1155.7 70.3h0.01M1155.4 71.6h0.01M1191.1 75.7h0.01M1191.1 76.7h0.01M1197.6 74.8h0.01M1204.9 73.4h0.01M1166.9 96.9h0.01M1191.4 97.2h0.01M1245.1 98.2h0.01M1295.5 75.8h0.01M1296.3 76.8h0.01M1254.1 96.7h0.01M1280.1 99h0.01M1280.4 97.8h0.01M905.3 69.5h0.01M905 65.8h0.01M901.5 67.2h0.01M900.8 66h0.01M897 67.3h0.01M897.3 67.4h0.01M895.1 65.8h0.01M902.9 67.2h0.01M900.6 68.6h0.01M898.9 65.7h0.01M903.7 68h0.01M902.3 68.1h0.01M883 68.7h0.01M881.9 68.7h0.01M880.9 69.1h0.01M879.5 68.4h0.01M651.9 66.5h0.01M654.4 65.4h0.01M655.5 64.3h0.01M645.6 64.9h0.01M659.3 64.3h0.01M644.2 64h0.01M642.6 64.7h0.01M654.1 66.9h0.01M648.9 65.1h0.01M648 64.8h0.01M658.4 65.8h0.01M647.3 64h0.01M556.2 63.8h0.01M556.6 63.1h0.01M553.9 64.1h0.01M554.4 64.1h0.01M550.4 64.1h0.01M549.3 63.3h0.01M610.9 64.3h0.01M613.1 64.4h0.01M613.5 64.4h0.01M1042.6 62.8h0.01M1043.3 61.9h0.01M1044.1 62h0.01M724.8 60.8h0.01M726.3 61.1h0.01M728.8 62.7h0.01M725 60.9h0.01M726.7 61h0.01M1144.8 71.2h0.01M1142.7 70.5h0.01M1147.5 70.5h0.01M1143.3 71.4h0.01M1146.8 71.4h0.01M1145.9 70.5h0.01M1122.3 73.2h0.01M1121.1 72.4h0.01M1113.4 72.6h0.01M1124.1 72.8h0.01M1119.1 73.2h0.01M1109.2 72.9h0.01M1114.2 72.8h0.01M1125.5 72.4h0.01M1128.1 72.1h0.01M1119.4 72.8h0.01M1264.1 74.6h0.01M1265.3 74.4h0.01M1266.7 73.4h0.01M1264.8 75.1h0.01M1263.6 75.3h0.01M1286.9 74.2h0.01M1286.7 73.7h0.01M1288.1 73h0.01M1289.6 73.8h0.01M1289.5 73.9h0.01M1192.7 74.3h0.01M1191.8 75.1h0.01M1191.1 75h0.01M1193.7 74.2h0.01M715.3 87.2h0.01M712.3 86.6h0.01M707.4 86.7h0.01M707.1 87.7h0.01M707.7 86.7h0.01M709.1 87.5h0.01M216.1 84h0.01M191.7 83.9h0.01M173.5 83.8h0.01M192.7 84.2h0.01M218.8 83.8h0.01M214.4 83.8h0.01M225.7 97.2h0.01M257.7 97h0.01M256.9 97h0.01M271.3 97.4h0.01M168.5 97.6h0.01M194 97.1h0.01M1099.7 96.7h0.01M1099.7 96.2h0.01M1099.6 95.9h0.01M1099.6 92.8h0.01M1048 90.7h0.01M1046.2 91.4h0.01M1048 89.7h0.01M1045.8 90.6h0.01M1278 98.1h0.01M1278.5 97.9h0.01M1278.6 98.3h0.01M1279 97.4h0.01M1278.6 96h0.01" stroke="#ffa500" stroke-width="3.6" stroke-linecap="round" fill="none"/>
<path d="M172 103.2h0.01M177.2 103.2h0.01M185.2 118.2h0.01M194.2 131.2h0.01M228.4 165.2h0.01M251.2 116.2h0.01M275.2 131.2h0.01M283.2 154.2h0.01M347.2 146h0.01M386 297.2h0.01M445.4 108.2h0.01M447.3 59.2h0.01M447.3 137.2h0.01M469.3 105.2h0.01M549.5 102.5h0.01M606.2 110.2h0.01M577.5 95.8h0.01M593 90h0.01M421.7 99.2h0.01M355.5 99.5h0.01M240 100.3h0.01M702.2 138.1h0.01M731.2 145.2h0.01M788.3 98.3h0.01M796 153.2h0.01M795.2 188h0.01M819.2 102h0.01M822.2 101.4h0.01M840.9 129.3h0.01M859.3 122.4h0.01M867.3 103.3h0.01M888.1 104.2h0.01M921.4 102.5h0.01M943.3 110.4h0.01M949.4 121.2h0.01M960.3 96.7h0.01M982.4 116.1h0.01M994.2 109.3h0.01M1028.1 123.3h0.01M1031.3 130.1h0.01M1057.3 136.1h0.01M1115.3 98.3h0.01M1235.3 73.3h0.01M1261.2 107.3h0.01M1263.2 177.2h0.01" stroke="#ffa500" stroke-width="3.6" stroke-linecap="round" fill="none"/>
<path d="M875.2 232h0.01" stroke="#ff0000" stroke-width="3.6" stroke-linecap="round" fill="none"/>
<path d="M105.4 94H1360" stroke="#008000" stroke-width="2.083" stroke-linecap="square" fill="none"/>
<path d="M162 321.4V35.4M276 321.4V35.4M278 321.4V35.4M327 321.4V35.4M363 321.4V35.4M415 321.4V35.4M451 321.4V35.4M544 321.4V35.4M629 321.4V35.4M721 321.4V35.4M754 321.4V35.4M811 321.4V35.4M849 321.4V35.4M892 321.4V35.4M939 321.4V35.4M975 321.4V35.4M1006 321.4V35.4M1038 321.4V35.4M1070 321.4V35.4M1102 321.4V35.4M1134 321.4V35.4M1165 321.4V35.4M1206 321.4V35.4M1247 321.4V35.4M1303 321.4V35.4" stroke="#800080" stroke-width="2.083" stroke-dasharray="2.083 3.438" fill="none"/>
</g>
<text x="219" y="311.8" font-size="13.889" text-anchor="middle">18247</text>
<text x="277" y="292.1" font-size="13.889" text-anchor="middle">51304</text>
<text x="302.5" y="272.4" font-size="13.889" text-anchor="middle">28563</text>
<text x="345" y="311.8" font-size="13.889" text-anchor="middle">28558</text>
<text x="389" y="292.1" font-size="13.889" text-anchor="middle">30599</text>
<text x="433" y="272.4" font-size="13.889" text-anchor="middle">30600</text>
<text x="497.5" y="311.8" font-size="13.889" text-anchor="middle">28566</text>
<text x="586.5" y="292.1" font-size="13.889" text-anchor="middle">28561</text>
<text x="675" y="272.4" font-size="13.889" text-anchor="middle">28565</text>
<text x="737.5" y="311.8" font-size="13.889" text-anchor="middle">28564</text>
<text x="782.5" y="292.1" font-size="13.889" text-anchor="middle">28567</text>
<text x="830" y="272.4" font-size="13.889" text-anchor="middle">30800</text>
<text x="870.5" y="311.8" font-size="13.889" text-anchor="middle">28560</text>
<text x="915.5" y="292.1" font-size="13.889" text-anchor="middle">30813</text>
<text x="957" y="272.4" font-size="13.889" text-anchor="middle">30814</text>
<text x="990.5" y="311.8" font-size="13.889" text-anchor="middle">28562</text>
<text x="1022" y="292.1" font-size="13.889" text-anchor="middle">30831</text>
<text x="1054" y="272.4" font-size="13.889" text-anchor="middle">30832</text>
<text x="1086" y="311.8" font-size="13.889" text-anchor="middle">28559</text>
<text x="1118" y="292.1" font-size="13.889" text-anchor="middle">30842</text>
<text x="1149.5" y="272.4" font-size="13.889" text-anchor="middle">29314</text>
<text x="1185.5" y="311.8" font-size="13.889" text-anchor="middle">30845</text>
<text x="1226.5" y="292.1" font-size="13.889" text-anchor="middle">30786</text>
<text x="1275" y="272.4" font-size="13.889" text-anchor="middle">28149</text>
<rect x="105.4" y="35.4" width="1380" height="286" fill="none" stroke="#000" stroke-width="1.111"/>
<path d="M162.50 321.40v4.86M412.50 321.40v4.86M661.50 321.40v4.86M911.50 321.40v4.86M1160.50 321.40v4.86M1410.50 321.40v4.86" stroke="#000" stroke-width="1.111" fill="none"/><text x="162.4" y="342.1" font-size="13.889" text-anchor="middle">0</text><text x="412" y="342.1" font-size="13.889" text-anchor="middle">20000</text><text x="661.6" y="342.1" font-size="13.889" text-anchor="middle">40000</text><text x="911.2" y="342.1" font-size="13.889" text-anchor="middle">60000</text><text x="1160.8" y="342.1" font-size="13.889" text-anchor="middle">80000</text><text x="1410.5" y="342.1" font-size="13.889" text-anchor="middle">100000</text>
<path d="M100.54 51.20h4.86M100.54 83.16h4.86M100.54 115.12h4.86M100.54 147.08h4.86M100.54 179.04h4.86M100.54 211.00h4.86M100.54 242.96h4.86M100.54 274.92h4.86M100.54 306.88h4.86" stroke="#000" stroke-width="1.111" fill="none"/><text x="95.7" y="56" font-size="13.889" text-anchor="end">8.4</text><text x="95.7" y="88" font-size="13.889" text-anchor="end">8.3</text><text x="95.7" y="119.9" font-size="13.889" text-anchor="end">8.2</text><text x="95.7" y="151.9" font-size="13.889" text-anchor="end">8.1</text><text x="95.7" y="183.8" font-size="13.889" text-anchor="end">8.0</text><text x="95.7" y="215.8" font-size="13.889" text-anchor="end">7.9</text><text x="95.7" y="247.8" font-size="13.889" text-anchor="end">7.8</text><text x="95.7" y="279.7" font-size="13.889" text-anchor="end">7.7</text><text x="95.7" y="311.7" font-size="13.889" text-anchor="end">7.6</text>
<text x="795.4" y="27" font-size="16.667" text-anchor="middle">AGASC ID 188627384</text>
<rect x="1361.4" y="42.5" width="117.2" height="27" rx="2.8" fill="#fff" fill-opacity="0.8" stroke="#cccccc" stroke-width="1.389"/>
<path d="M1366.2 53.9h29.8" stroke="#008000" stroke-width="2.083"/>
<text x="1406.8" y="58.8" font-size="13.889">mag<tspan font-size="9.722" font-style="italic" dy="1.9">AGASC</tspan></text>
<rect x="1348.5" y="247.5" width="130" height="67" rx="2.8" fill="#fff" fill-opacity="0.8" stroke="#cccccc" stroke-width="1.389"/>
<circle cx="1367.5" cy="260.5" r="2" fill="#ff0000"/>
<circle cx="1367.5" cy="281.5" r="2" fill="#ffa500"/>
<circle cx="1367.5" cy="302.5" r="2" fill="#000"/>
<text x="1392.5" y="264.3" font-size="13.889" text-anchor="start">not OK</text>
<text x="1392.5" y="285.3" font-size="13.889" text-anchor="start">Highlighted</text>
<text x="1392.5" y="306.3" font-size="13.889" text-anchor="start">OK</text>
<g clip-path="url(#c1)">
<path d="M163.2 539.8L274.8 539.8L274.8 568.2L163.2 568.2zM277 511.8L277 511.8L277 550.2L277 550.2zM279.2 511.8L325.8 511.8L325.8 549.2L279.2 549.2zM328.2 517.8L361.8 517.8L361.8 549.2L328.2 549.2zM364.2 521.7L413.8 516.9L413.8 550.2L364.2 550.2zM416.2 519.8L449.8 519.8L449.8 550.2L416.2 550.2zM452.2 498.9L475 500.8L490 501.8L505 516.8L515 524.8L542.8 532.5L542.8 570L515 566.2L505 563.2L490 554.2L475 546.2L452.2 536.7zM545.2 482.8L627.8 482.8L627.8 515.2L545.2 515.2zM630.2 487.9L719.8 494.7L719.8 524.1L630.2 516.3zM722.2 470.8L752.8 471.8L752.8 498.2L722.2 498.2zM755.2 488.8L809.8 488.8L809.8 533.2L755.2 533.2zM812.2 487.8L847.8 487.8L847.8 521.2L812.2 521.2zM850.2 489.8L890.8 489.8L890.8 520.2L850.2 520.2zM893.2 488L937.8 494.6L937.8 523.2L893.2 523.2zM940.2 495.8L973.8 495.8L973.8 523.2L940.2 523.2zM976.2 516.8L1004.8 516.8L1004.8 560.2L976.2 560.2zM1007.2 519.8L1036.8 519.8L1036.8 566.2L1007.2 566.2zM1039.2 477.8L1068.8 477.8L1068.8 520.2L1039.2 520.2zM1071.2 498.8L1100.8 498.8L1100.8 544.2L1071.2 544.2zM1103.2 497.8L1132.8 497.8L1132.8 538.2L1103.2 538.2zM1135.2 498.8L1163.8 498.8L1163.8 534.2L1135.2 534.2zM1166.2 521.8L1204.8 521.8L1204.8 554.2L1166.2 554.2zM1207.2 520.8L1245.8 520.8L1245.8 555.2L1207.2 555.2zM1248.2 520.8L1301.8 520.8L1301.8 555.2L1248.2 555.2z" fill="#000" stroke="#000" stroke-width="3.6" stroke-linejoin="round"/><path d="M164.5 539.8V537.2M165.8 539.8V537.5M171.7 539.8V537.8M174.9 539.8V537.2M176.9 539.8V537.4M178.4 539.8V536.3M179.6 539.8V536.6M185.9 539.8V537.2M187.4 539.8V537.5M190 539.8V537.1M193.2 539.8V537.7M194.7 539.8V536.8M198.1 539.8V537.5M200 539.8V537M201.4 539.8V536.3M202.7 539.8V537.8M207.8 539.8V536.9M209.5 539.8V536.5M210.9 539.8V537.1M212.6 539.8V537.4M214.2 539.8V536.6M216.1 539.8V537.7M219.6 539.8V537.2M221.6 539.8V536.7M223.1 539.8V537.9M230.9 539.8V537.9M234.3 539.8V537.5M236.2 539.8V536.7M239.6 539.8V538M241.6 539.8V536.3M245.9 539.8V537.4M248.8 539.8V538M250.4 539.8V536.3M252.2 539.8V537.6M253.9 539.8V537.1M255.1 539.8V536.5M257 539.8V536.6M258.8 539.8V537.9M270.6 539.8V537.3M273.4 539.8V538M274.7 539.8V536.6M166 539.8V533.6M171.4 539.8V533.9M172.7 539.8V534M177.6 539.8V533.2M178.8 539.8V533.2M182.3 539.8V533.1M189.6 539.8V533.2M196.6 539.8V533.7M197.8 539.8V533.8M202 539.8V533.5M208 539.8V534M209.3 539.8V534.5M213.7 539.8V533.1M220.6 539.8V532.6M221.9 539.8V533.5M225.5 539.8V533.4M230.9 539.8V532.5M238.1 539.8V531.9M243.7 539.8V531.9M244.9 539.8V532.1M250.5 539.8V532M256.3 539.8V532.8M260.7 539.8V532.7M266.7 539.8V532.1M267.9 539.8V533.8M272.1 539.8V533.4M273.3 539.8V534.1M163.2 568.2V571.2M164.9 568.2V570.9M166.2 568.2V571M167.4 568.2V571M170.6 568.2V571.2M185.7 568.2V570.3M187.1 568.2V570.1M192.5 568.2V570.9M194 568.2V570.1M195.7 568.2V571.3M197.2 568.2V570.9M199 568.2V570.5M203 568.2V570.7M205.7 568.2V571M207.6 568.2V570.5M210.4 568.2V570M213.2 568.2V571.3M215.1 568.2V570.2M216.5 568.2V571.3M220.8 568.2V570.1M222.1 568.2V570.1M228.9 568.2V570.2M230.7 568.2V570.5M232.5 568.2V571.1M237.8 568.2V570.5M239 568.2V570.9M240.9 568.2V570.4M242.7 568.2V570.9M244 568.2V570.2M245.6 568.2V570.9M247.5 568.2V570.9M249.2 568.2V571.1M250.9 568.2V570.6M254.9 568.2V570.9M256.5 568.2V570.4M258.2 568.2V570.6M261.7 568.2V570.7M263.3 568.2V570.2M271.6 568.2V571.3M274.8 568.2V570.6M167.1 568.2V573.6M172.2 568.2V573.5M179.2 568.2V575.1M184.7 568.2V573.9M185.9 568.2V572.7M191 568.2V574M192.2 568.2V573.2M196.9 568.2V573.1M198.1 568.2V572.9M202.7 568.2V574.3M209.4 568.2V574M210.7 568.2V572.9M216.6 568.2V575.1M217.9 568.2V574.3M222.3 568.2V573.4M223.6 568.2V572.3M228.5 568.2V574.1M229.7 568.2V573.2M234.4 568.2V575.2M240.5 568.2V574.9M245.2 568.2V574.7M246.4 568.2V573.4M251.1 568.2V573.4M252.3 568.2V573.2M256.8 568.2V573.8M258 568.2V573.3M264.4 568.2V574.1M268.8 568.2V574.5M270 568.2V573.6M277 511.8V508.5M277 550.2V552M279.2 511.8V503.1M280.6 511.8V509.1M282.2 511.8V503.4M283.8 511.8V507M285.5 511.8V501.2M286.9 511.8V509M288.4 511.8V505.6M290.1 511.8V507.6M292 511.8V502.8M293.6 511.8V507.5M295.5 511.8V506.6M297.4 511.8V507.3M298.8 511.8V502.6M300.2 511.8V501M301.8 511.8V507.7M303.2 511.8V505.7M304.9 511.8V501M306.2 511.8V505.9M307.6 511.8V500.8M308.9 511.8V508.8M310.2 511.8V505.9M312.1 511.8V501.6M313.9 511.8V500.6M315.8 511.8V506.4M317.2 511.8V501.1M319 511.8V509M320.7 511.8V506M322.2 511.8V506.4M323.5 511.8V509.3M324.9 511.8V506.2M280.7 511.8V491.4M285.2 511.8V487.3M291.3 511.8V487.3M296.9 511.8V490.5M303.5 511.8V493.5M308.6 511.8V487.1M314.8 511.8V492.7M320.9 511.8V492.6M279.2 549.2V553.2M281 549.2V554M284.6 549.2V551.6M286.3 549.2V552M288 549.2V551.2M289.4 549.2V551.4M290.8 549.2V554.1M292.4 549.2V551.8M293.9 549.2V554.6M295.6 549.2V551.4M297.4 549.2V553.1M301 549.2V553.8M302.8 549.2V554.2M304.1 549.2V551.6M305.4 549.2V551.2M307.4 549.2V552.8M309.3 549.2V552M311.2 549.2V552.3M312.6 549.2V553.7M316.2 549.2V553M317.6 549.2V551.9M318.9 549.2V551.3M320.3 549.2V552.9M322 549.2V551.3M323.3 549.2V551.8M325 549.2V551.2M280.9 549.2V560.1M286 549.2V558.8M287.3 549.2V557.4M292.4 549.2V559.5M298.8 549.2V560.9M304.4 549.2V559.6M305.6 549.2V557.4M309.5 549.2V560.8M310.7 549.2V558.4M314.7 549.2V561M322.6 549.2V558.9M328.2 517.8V510.3M329.4 517.8V512.5M331.2 517.8V515.8M333.1 517.8V515.3M334.8 517.8V512.5M336.5 517.8V514.1M338 517.8V512.3M339.6 517.8V511.8M341.1 517.8V513.2M342.3 517.8V512.1M343.9 517.8V514.5M345.7 517.8V511.1M347.3 517.8V514.9M348.9 517.8V515.3M350.2 517.8V513.3M351.5 517.8V513.2M353.1 517.8V515.7M354.8 517.8V515.5M356.6 517.8V511.1M358.2 517.8V515.7M359.8 517.8V513.6M361.7 517.8V515.1M334.5 517.8V500.4M339.2 517.8V500.6M345 517.8V502.5M351.9 517.8V503.3M353.2 517.8V506.5M358 517.8V503.8M359.3 517.8V505.1M328.2 549.2V552.9M333.4 549.2V551.1M335.1 549.2V553.6M336.8 549.2V552.5M341.2 549.2V551.7M342.8 549.2V553.3M347 549.2V551.4M348.3 549.2V551.5M349.7 549.2V552.2M353 549.2V551.9M354.3 549.2V553.5M357 549.2V552.4M358.9 549.2V552.9M360.4 549.2V551.1M361.6 549.2V552.5M330.5 549.2V558M331.8 549.2V557.5M335.1 549.2V558.8M342.1 549.2V558.9M347.4 549.2V558.9M348.7 549.2V557.6M355 549.2V558.9M356.2 549.2V557.1M361.7 549.2V557.4M361.8 549.2V555.4M364.2 521.7V513.7M365.7 521.5V512.6M367.1 521.4V517.4M369.1 521.2V514.2M370.8 521V513.7M372.8 520.9V515M374.7 520.7V513.1M376.5 520.5V514.9M378.3 520.3V513.7M379.8 520.2V516.4M381.5 520V517.2M383.4 519.8V516.5M384.6 519.7V516.7M386.6 519.5V514.7M387.9 519.4V517M389.1 519.3V511.8M390.8 519.1V511.6M392.6 519V516.2M394.3 518.8V513.8M396.1 518.6V510.1M398 518.4V515.7M399.9 518.2V509M401.9 518.1V515M403.3 517.9V514.9M404.5 517.8V509.1M406.3 517.6V510.5M408.2 517.5V510.4M409.6 517.3V514.3M410.9 517.2V509.2M412.3 517.1V512.4M413.8 516.9V514.6M366.2 521.5V502.5M372.1 520.9V500.2M373.4 520.9V504.2M378.5 520.3V500.6M384.4 519.7V499M391.6 519.1V500.1M398.1 518.4V499.3M399.3 518.4V503M403.5 517.9V500.3M404.8 517.9V501.8M409.1 517.4V495.8M364.2 550.2V553M365.5 550.2V553.5M367 550.2V555.2M368.3 550.2V554M369.7 550.2V558M371.4 550.2V552.6M373.4 550.2V552.6M374.9 550.2V558M376.8 550.2V556.4M378.3 550.2V553.1M380 550.2V552.6M381.4 550.2V554.3M382.6 550.2V554.3M384.4 550.2V556.1M386 550.2V555.7M387.6 550.2V552.8M389.3 550.2V554.3M391.1 550.2V557.3M392.6 550.2V555.3M394.4 550.2V554.4M395.8 550.2V556.1M397.7 550.2V556.4M399.5 550.2V556.8M401.2 550.2V555.6M402.8 550.2V553.7M404.5 550.2V552.4M406 550.2V556.3M407.8 550.2V555.4M409.2 550.2V554.2M410.8 550.2V555.3M412.3 550.2V555.6M365.5 550.2V567.4M370.7 550.2V566.4M371.9 550.2V565.3M377.7 550.2V566.6M383.1 550.2V565.3M384.4 550.2V562.9M390.1 550.2V564.1M391.3 550.2V562M396.8 550.2V565.1M398.1 550.2V562.2M402.1 550.2V566.2M407.9 550.2V564.7M413.8 550.2V566M413.8 550.2V562.6M416.2 519.8V516.7M417.6 519.8V512M419.1 519.8V516.6M421 519.8V511.9M422.3 519.8V511.2M424 519.8V512M425.7 519.8V511.1M427.6 519.8V511.5M428.9 519.8V512.6M430.6 519.8V512.2M432.1 519.8V511.2M433.8 519.8V515.8M435.1 519.8V516.7M436.7 519.8V517.3M438.3 519.8V516.6M439.9 519.8V514M441.5 519.8V511.4M442.7 519.8V511.5M444.3 519.8V513.6M446 519.8V511.5M447.5 519.8V514.6M449.5 519.8V517.1M419.3 519.8V500.4M420.5 519.8V500.8M426.6 519.8V504.3M427.9 519.8V505.7M432 519.8V499.7M438.4 519.8V500.9M443.9 519.8V500.5M445.1 519.8V501.6M419 550.2V556.1M420.7 550.2V554.8M422.5 550.2V556.1M424.2 550.2V554.6M425.9 550.2V555M427.6 550.2V554.9M428.9 550.2V554.9M430.5 550.2V555.3M431.8 550.2V552.5M433 550.2V555.4M435 550.2V554.8M436.5 550.2V555.6M438.3 550.2V554.4M439.7 550.2V553.1M441.2 550.2V553.2M442.8 550.2V554.7M447.7 550.2V555.6M449.3 550.2V556.1M416.2 550.2V563.1M417.4 550.2V563M420.9 550.2V560.2M422.1 550.2V558M427.6 550.2V560.7M428.8 550.2V559.9M434.4 550.2V563.4M438.6 550.2V563.5M444.7 550.2V562.3M446 550.2V561.2M452.2 498.9V493.4M453.4 499V487.1M455.2 499.2V488.7M456.7 499.3V490.9M458.7 499.4V489M460.3 499.6V494M461.9 499.7V488.8M463.4 499.8V490.8M465.1 500V489M466.9 500.1V494.9M468.1 500.2V495.2M469.7 500.4V492.3M471.5 500.5V489.8M472.7 500.6V490.4M474.6 500.8V490.3M476.2 500.9V495.8M478.1 501V491.1M479.9 501.1V490.3M481.4 501.2V497.9M483 501.3V491.7M484.4 501.4V492.2M486.3 501.6V497M488 501.7V493.2M489.6 501.8V497.5M491 502.8V493.9M492.8 504.6V498.6M494.1 505.9V497.4M495.9 507.7V503.9M497.5 509.3V501.3M499.5 511.3V506.1M501 512.8V507.7M502.4 514.2V511.5M503.7 515.5V510.4M505.2 517V512.8M506.7 518.2V514.4M510.1 520.8V518M511.3 521.9V518M514.9 524.7V522.2M517.7 525.5V520.5M519.6 526.1V523M521.2 526.5V524.3M523.1 527V524.1M525 527.6V523.3M526.9 528.1V522.9M529.6 528.8V526.9M532.6 529.6V524.7M534.1 530.1V524.8M537.7 531.1V528.1M539 531.4V525.9M540.4 531.8V528M542.1 532.3V526.7M454.5 499.1V477.6M455.7 499.1V477.7M461.9 499.7V474M467.3 500.2V476M468.5 500.2V481.4M472.9 500.6V479.7M478.4 501V480.1M485.4 501.5V478M491 502.8V483.5M496.3 508.1V488.2M502 513.8V499.4M508 519.2V508.2M515.7 525V514.1M520.5 526.3V516.7M521.8 526.3V519.1M525.5 527.7V516.2M531.5 529.3V520.1M538.5 531.3V519.1M539.7 531.3V521.5M452.2 536.7V539M453.4 537.2V539.8M454.9 537.8V540.7M456.8 538.6V540.8M458 539.1V542.6M459.6 539.8V543.4M462.9 541.1V543.4M464.2 541.7V544.1M467.5 543.1V546M470.9 544.5V549.4M472.8 545.3V548.1M474.5 546V549.2M478.2 547.9V554.4M479.8 548.8V553.1M481.5 549.6V554.2M482.7 550.3V557.3M484.1 551V553.7M485.3 551.7V554.9M487.2 552.7V554.6M488.5 553.4V559.4M489.8 554.1V556M491.5 555.1V560.7M493.1 556.1V562.6M494.4 556.8V564.6M496.2 557.9V560.2M497.5 558.7V564.1M499.1 559.6V563.7M500.4 560.4V565.5M501.7 561.2V567.7M503.6 562.3V565.6M505.2 563.3V571.3M506.6 563.7V572.7M508.5 564.3V570M510.1 564.7V574.8M511.7 565.2V571.6M513.6 565.8V576.2M515.1 566.2V571.6M516.6 566.4V573.8M518.6 566.7V577.9M520.5 567V578.4M522.4 567.2V570.8M524 567.4V580.6M525.9 567.7V573.4M527.5 567.9V577.8M528.9 568.1V577M530.2 568.3V576.1M531.8 568.5V571.9M533.1 568.7V582.5M534.9 569V582.5M536.6 569.2V581.4M538.6 569.4V582.7M539.8 569.6V580.1M541.2 569.8V580.8M542.6 570V579.5M455.5 538.1V544.9M462.8 541.1V549.4M468 543.3V552.2M469.2 543.3V551.9M474.7 546.1V558.7M475.9 546.1V557M480.3 549V562.4M481.5 549V559.1M485.9 552V567.1M491 554.8V570.7M497.5 558.7V575.9M504.5 562.9V583.7M505.8 562.9V581M510.9 565V588.8M516.2 566.4V591.8M517.4 566.4V587.9M523.2 567.3V594M529.1 568.1V594.5M530.3 568.1V593.5M535.6 569V597.9M536.9 569V594.4M541.1 569.8V602.1M542.4 569.8V598.3M545.2 482.8V475.4M546.9 482.8V472.6M548.8 482.8V476M550.4 482.8V474.8M552.4 482.8V477.3M554 482.8V473.2M555.3 482.8V477.5M557.3 482.8V473.1M558.9 482.8V479.3M560.8 482.8V474.3M562.7 482.8V471.6M564.6 482.8V476.6M565.9 482.8V477.8M567.6 482.8V475.9M568.9 482.8V478.7M570.6 482.8V475M572.1 482.8V471.6M573.8 482.8V479.9M575.3 482.8V473.4M576.8 482.8V474.3M578 482.8V477.6M579.8 482.8V475.2M581.6 482.8V478.6M583.2 482.8V475.5M584.6 482.8V474.6M586.2 482.8V471.6M587.9 482.8V476.7M589.2 482.8V478.9M591 482.8V479.4M592.3 482.8V478.8M593.9 482.8V473.1M595.6 482.8V473.2M596.8 482.8V480.2M598.6 482.8V477.5M600.4 482.8V477.2M601.7 482.8V478M603 482.8V472.4M604.7 482.8V477.2M606.3 482.8V476.9M607.5 482.8V472.5M609.2 482.8V471.9M610.7 482.8V474.9M612.1 482.8V479.9M614.1 482.8V472.8M615.5 482.8V472.4M617.4 482.8V477.6M619 482.8V471.9M620.6 482.8V472M622 482.8V476.9M623.8 482.8V478.4M625.3 482.8V472.6M626.8 482.8V473.4M546 482.8V462.6M547.3 482.8V466.2M550.9 482.8V458.6M557.2 482.8V463.5M563.7 482.8V462.2M570.5 482.8V461.2M576.8 482.8V461.6M582.4 482.8V461.7M588.9 482.8V458.9M590.1 482.8V459.7M593.8 482.8V459.5M595.1 482.8V463.8M599.6 482.8V464.2M605.2 482.8V459.6M611.2 482.8V458.9M615.4 482.8V463.3M616.6 482.8V467.1M620.8 482.8V458M627.8 482.8V463.1M627.8 482.8V467.8M545.2 515.2V521.9M546.6 515.2V518M548.1 515.2V520.8M549.4 515.2V520M550.8 515.2V523.2M552.5 515.2V519.4M553.9 515.2V521.6M555.4 515.2V525M556.9 515.2V519.9M558.8 515.2V518.6M560.5 515.2V520.2M562.3 515.2V521.9M564.1 515.2V518.9M565.9 515.2V522.3M567.4 515.2V523.7M569.3 515.2V518.4M570.7 515.2V520.4M572.1 515.2V518M573.5 515.2V519.1M575.3 515.2V521.1M576.6 515.2V520.1M578.2 515.2V520.4M579.5 515.2V518.1M580.7 515.2V525.5M582.5 515.2V518.2M584.3 515.2V525.4M585.9 515.2V518.4M587.5 515.2V521M588.9 515.2V521.9M590.1 515.2V524.9M591.8 515.2V522.6M593.7 515.2V522.8M595.1 515.2V519.5M596.5 515.2V517.7M598.3 515.2V524.3M599.7 515.2V519M601.4 515.2V524.3M603.4 515.2V518.9M605.2 515.2V524.2M607 515.2V520.1M608.3 515.2V524.1M609.8 515.2V520.5M611.4 515.2V520.5M613.3 515.2V519.4M614.5 515.2V522.1M616.2 515.2V524.1M618 515.2V524.8M619.9 515.2V521.5M621.5 515.2V518.8M623 515.2V522.2M624.3 515.2V523M625.6 515.2V521.1M627.6 515.2V518.2M547.3 515.2V537M553.4 515.2V535.5M554.7 515.2V534.6M558.7 515.2V535.6M559.9 515.2V535.2M565.1 515.2V534.6M570.9 515.2V533.2M576.5 515.2V535.9M577.8 515.2V531.2M584 515.2V533.2M585.2 515.2V531.9M589.7 515.2V536.2M590.9 515.2V531.7M594.9 515.2V535.4M596.2 515.2V533.5M601.4 515.2V537.5M606.7 515.2V536.4M612.5 515.2V535.6M613.8 515.2V533.4M618.8 515.2V536.8M626 515.2V538M630.2 487.9V484.1M632.1 488V480.3M633.6 488.1V482.1M634.9 488.2V479.3M636.4 488.4V479.3M638.1 488.5V485.7M639.6 488.6V484.7M641.5 488.7V482M642.7 488.8V485.3M644.2 489V483.2M645.9 489.1V484M647.3 489.2V487M649 489.3V484.7M650.2 489.4V483.8M652.2 489.6V487.1M653.5 489.7V482.6M654.9 489.8V485.7M656.5 489.9V485.9M658.2 490V484.1M660.2 490.2V480.9M661.4 490.3V484.2M663.2 490.4V482.1M665 490.5V484M666.7 490.7V486.1M668.2 490.8V483.2M670.1 490.9V482.4M671.8 491.1V487M673.6 491.2V484.2M675.2 491.3V485M676.7 491.4V485.8M678.2 491.5V489.2M679.7 491.7V487.6M681.7 491.8V486.7M683.2 491.9V488.4M684.6 492V487.9M685.9 492.1V490.2M687.8 492.3V487.5M689.3 492.4V486.9M690.8 492.5V489.6M692 492.6V488.9M693.5 492.7V486.3M695.1 492.8V485.1M696.6 492.9V485.4M698.3 493.1V490.8M699.6 493.2V487.8M701.6 493.3V489.4M703.4 493.5V489.1M705.3 493.6V491.5M706.9 493.7V486.6M708.3 493.8V490.6M709.5 493.9V491.3M710.9 494V488.2M712.3 494.1V490.1M713.7 494.2V489.1M715.6 494.4V489M716.9 494.5V488.7M718.9 494.6V489.6M635.7 488.3V469M642 488.8V470.8M646.4 489.1V472.9M647.6 489.1V475.6M652.7 489.6V470M653.9 489.6V473.3M659.6 490.1V471.3M660.9 490.1V473.2M666.3 490.6V471.3M672.6 491.1V474.1M673.8 491.1V477.4M678.3 491.5V474.9M682.2 491.8V473.7M689 492.4V474.9M695.5 492.9V477.9M702.3 493.4V479.1M703.6 493.4V482.1M708.1 493.8V480.2M709.4 493.8V481.6M713.7 494.2V478.1M719 494.7V481.7M719.8 494.7V484.6M630.2 516.3V523.8M631.4 516.4V519.5M633.3 516.6V522.4M634.5 516.7V521.4M635.9 516.8V521.1M637.2 516.9V518.7M639.2 517.1V520.7M641.1 517.2V519.7M642.6 517.4V519.9M644.2 517.5V520.3M645.9 517.7V520.3M647.7 517.8V522.6M649 517.9V521.8M650.6 518.1V525.4M652.1 518.2V521.3M654.1 518.4V525.6M655.9 518.5V522M657.2 518.7V522M658.4 518.8V520.8M660.1 518.9V523.2M661.7 519V523.1M662.9 519.1V525.2M664.6 519.3V524.5M666.3 519.4V525.5M668.3 519.6V526.9M670 519.8V524.1M671.5 519.9V524.3M673.5 520.1V524.3M675 520.2V524.6M676.3 520.3V528.4M677.5 520.4V526.1M679.4 520.6V524M681.1 520.7V524.9M682.5 520.9V523.9M683.8 521V528.2M685.6 521.1V528.7M686.9 521.2V527.5M688.3 521.4V527.3M690 521.5V525.4M691.9 521.7V523.5M693.7 521.8V529.2M695.4 522V527.6M697.4 522.1V525.5M699.1 522.3V529M700.6 522.4V528.9M702.1 522.6V527.8M703.8 522.7V529M705.2 522.8V528.8M706.9 523V526.3M708.5 523.1V526.7M710.5 523.3V528.3M712.2 523.4V528.8M713.8 523.6V526.9M715.1 523.7V531.7M716.8 523.8V529.2M718.4 524V531.3M719.8 524.1V527.1M633.2 516.6V533.1M634.4 516.6V532.6M638.9 517.1V530.8M645.5 517.6V531M651.2 518.1V533.3M656.9 518.6V533.2M658.2 518.6V529.9M663.2 519.2V532.4M669.5 519.7V537M674.9 520.2V535.8M676.1 520.2V533.8M680.3 520.7V538.4M685.4 521.1V538.2M686.7 521.1V537.2M691.6 521.6V539M698.3 522.2V540.1M699.5 522.2V536.3M702.8 522.6V538.1M704 522.6V536.4M710.2 523.3V538.9M715.5 523.7V541M722.2 470.8V465.6M723.7 470.9V467.5M725.5 470.9V467.6M727.3 471V465M728.9 471V467.1M730.9 471.1V467.4M734.3 471.2V466.9M735.6 471.2V466.1M736.8 471.3V467.5M738.2 471.3V466.4M739.8 471.4V467.1M741.4 471.4V467.9M743.2 471.5V469.5M744.5 471.5V467.8M745.8 471.6V467.8M748.5 471.6V468.6M725.8 470.9V458.7M727 470.9V461.6M732.4 471.1V457.8M733.6 471.1V459.8M738.5 471.3V462.3M745.3 471.5V463.8M752.5 471.8V466.4M752.8 471.8V467.7M722.2 498.2V502.3M723.8 498.2V501.7M725.6 498.2V501.3M727.4 498.2V502.1M728.6 498.2V503.8M729.9 498.2V503.8M731.7 498.2V504.1M733.3 498.2V500.3M734.9 498.2V500.7M736.6 498.2V501M738.3 498.2V502.4M739.8 498.2V504.5M741.1 498.2V501.2M743.1 498.2V502.3M745 498.2V505.9M746.5 498.2V501.1M747.8 498.2V505.9M749.1 498.2V503.4M750.7 498.2V500.9M752.3 498.2V501.2M725 498.2V513.7M731.9 498.2V516.8M736.9 498.2V512.2M742.1 498.2V515.7M743.3 498.2V511.5M749.1 498.2V511.9M750.4 498.2V509.9M755.2 488.8V483.5M756.5 488.8V484.7M757.9 488.8V483.6M759.9 488.8V478M761.7 488.8V482.4M763.3 488.8V479.9M765.2 488.8V480.1M766.9 488.8V484.7M768.6 488.8V479.3M770.5 488.8V485.6M772.2 488.8V483.5M773.6 488.8V478.3M775.3 488.8V480.1M776.6 488.8V479.4M778.6 488.8V478.8M780.4 488.8V479.4M782.2 488.8V481.4M783.8 488.8V479.5M785.6 488.8V479.1M787 488.8V478.3M788.6 488.8V478.5M789.9 488.8V478.3M791.8 488.8V484.3M793.6 488.8V484.5M795 488.8V482.6M796.4 488.8V482.3M798.3 488.8V480.6M800.1 488.8V483.1M801.9 488.8V479.7M803.7 488.8V478.5M805.5 488.8V483M806.8 488.8V480.9M808.7 488.8V483.5M760.7 488.8V471.7M765.5 488.8V465.5M766.7 488.8V469.6M771.9 488.8V465.7M778.2 488.8V469.1M779.5 488.8V471M784.5 488.8V467.1M791.2 488.8V468.1M798.5 488.8V470.5M799.8 488.8V473M805 488.8V468.1M806.3 488.8V473M755.2 533.2V536.8M756.7 533.2V537.9M758.6 533.2V546.4M759.9 533.2V543M761.6 533.2V536.9M763.1 533.2V544.8M764.8 533.2V539.5M766.6 533.2V539.7M768.3 533.2V541.1M770.3 533.2V543.7M772.1 533.2V544M773.6 533.2V547.2M775.4 533.2V544.1M776.8 533.2V538.2M778.5 533.2V545.6M780.3 533.2V540.3M781.6 533.2V542.2M783.5 533.2V538.2M785.3 533.2V538.3M786.7 533.2V537M788.2 533.2V540.7M790.2 533.2V547.2M791.5 533.2V539.9M793.5 533.2V538.6M794.9 533.2V541.3M796.2 533.2V539.3M797.7 533.2V540.7M799.7 533.2V539.4M801.1 533.2V546.6M802.6 533.2V545.8M804.3 533.2V545.1M805.8 533.2V538.1M807.6 533.2V541.7M809.2 533.2V543.9M756.6 533.2V564.7M757.9 533.2V559.1M763.3 533.2V559.7M768.6 533.2V563M769.9 533.2V560.3M774.5 533.2V564M781 533.2V564.6M787.1 533.2V561.2M788.4 533.2V556.1M794.4 533.2V563.6M795.6 533.2V561M798.8 533.2V559.5M805.1 533.2V560.5M812.2 487.8V479.2M813.7 487.8V482M815.3 487.8V483M817.2 487.8V483.1M819 487.8V477.5M820.7 487.8V484.8M822.5 487.8V484.8M824.1 487.8V481.1M825.3 487.8V479.1M827.1 487.8V479.6M828.6 487.8V480.3M830.3 487.8V483M832.2 487.8V475.7M834 487.8V476M835.5 487.8V475.8M836.8 487.8V480.6M838.1 487.8V480.8M839.8 487.8V478.4M841.4 487.8V481.9M842.7 487.8V481.3M844.2 487.8V483.3M846 487.8V480.2M847.5 487.8V483.2M813 487.8V463.2M814.3 487.8V463.3M818.1 487.8V468.3M819.4 487.8V469.7M825.2 487.8V467.7M830.8 487.8V466.8M836.1 487.8V463.2M837.4 487.8V468M843 487.8V464.3M844.2 487.8V465.3M847.8 487.8V461.9M812.2 521.2V526.1M813.9 521.2V530.6M815.5 521.2V528.6M816.9 521.2V525.5M818.8 521.2V526.6M820.1 521.2V528.3M821.4 521.2V525.1M822.9 521.2V528.2M824.6 521.2V529.2M826.2 521.2V524M828 521.2V523.9M829.5 521.2V526.7M831.3 521.2V529.2M832.7 521.2V528.7M834.4 521.2V527.3M835.7 521.2V530.8M837.4 521.2V524M838.8 521.2V531.4M840.2 521.2V526.7M842 521.2V530.1M843.7 521.2V529.5M845 521.2V524.3M846.9 521.2V530M812.2 521.2V543.9M817.1 521.2V543.1M823.8 521.2V543.6M825.1 521.2V542.6M830.1 521.2V537.7M831.3 521.2V533.7M836.3 521.2V542.1M841.5 521.2V541.1M846.6 521.2V539.2M847.8 521.2V537.4M850.2 489.8V483.7M852 489.8V482.7M853.9 489.8V483.8M855.1 489.8V484M857 489.8V485.5M858.9 489.8V487M860.9 489.8V485.5M862.6 489.8V486.6M864.1 489.8V486M865.5 489.8V487.5M867.1 489.8V482.3M868.8 489.8V482.6M870.6 489.8V483.1M872.6 489.8V483.6M874 489.8V486.6M875.6 489.8V488M877 489.8V482.8M878.9 489.8V486.1M880.7 489.8V483.5M882.6 489.8V483.4M884.2 489.8V487.5M886.1 489.8V486.2M887.8 489.8V485.9M889.4 489.8V482.4M890.8 489.8V484.9M854.1 489.8V474.9M855.4 489.8V476.1M858.7 489.8V473.8M860 489.8V474.8M865.9 489.8V474.2M867.2 489.8V475.8M872.8 489.8V475.6M874.1 489.8V478.5M878.8 489.8V473.7M885.7 489.8V475.5M853.5 520.2V522.5M855.2 520.2V523.2M857.8 520.2V524.2M859.1 520.2V524.6M860.6 520.2V523.7M861.9 520.2V524M863.3 520.2V522.5M866.3 520.2V524M867.8 520.2V522.5M872.4 520.2V522.5M874.2 520.2V522.9M877.8 520.2V524.1M882.3 520.2V523.7M886.5 520.2V522.7M889.3 520.2V522.8M852.8 520.2V528.4M854.1 520.2V527.5M859.5 520.2V528.4M864.7 520.2V529.1M871.4 520.2V529.1M875.8 520.2V529.7M877 520.2V527.9M883 520.2V529.9M887.5 520.2V529.7M888.7 520.2V529.6M893.2 488V483.3M895.2 488.3V483.7M897.2 488.6V483.3M898.5 488.8V482.3M899.9 489V481.6M901.5 489.2V486.3M903.4 489.5V486M904.9 489.7V486.2M908.2 490.2V487.7M911.7 490.7V487.7M913.3 491V486.3M915.1 491.2V488.9M916.5 491.4V489.2M918.4 491.7V489.4M919.7 491.9V487.6M921.4 492.2V486M922.6 492.4V489.6M924 492.6V488M925.5 492.8V489.2M927.4 493.1V488.2M929.3 493.4V487M930.8 493.6V487.3M934.2 494.1V492.1M935.4 494.3V491.4M936.9 494.5V488.3M895.8 488.4V472.1M897 488.4V473.5M902.9 489.4V473.2M908 490.2V476.9M913.3 491V476.5M919.5 491.9V479.6M920.8 491.9V480.3M924.6 492.7V477.8M925.9 492.7V480.7M929.6 493.4V481.9M936.4 494.4V481.9M893.2 523.2V529.1M895.1 523.2V528.4M896.8 523.2V528.7M898.7 523.2V525.9M900.6 523.2V526.5M902 523.2V529.4M903.6 523.2V529.6M905.5 523.2V528.1M908.5 523.2V528.9M910 523.2V525.2M911.2 523.2V525.8M914.3 523.2V526.3M916.1 523.2V530.3M917.3 523.2V525.4M919.2 523.2V530.2M920.5 523.2V526.7M922.2 523.2V526.6M923.7 523.2V527.5M925.1 523.2V525.1M926.4 523.2V525.7M927.6 523.2V528.3M929.4 523.2V526.3M931.2 523.2V528.9M932.7 523.2V527.6M934.1 523.2V530M935.7 523.2V525.1M937 523.2V528.7M897.1 523.2V538.6M898.3 523.2V535.1M902.4 523.2V538.2M903.6 523.2V534.9M908.5 523.2V537.7M909.7 523.2V534.2M915.4 523.2V536.3M921.7 523.2V539.1M923 523.2V536.3M926.6 523.2V535.9M927.8 523.2V535.6M932.7 523.2V537.7M933.9 523.2V534.4M940.2 495.8V490.5M941.6 495.8V492.4M943.2 495.8V490.2M945 495.8V492.1M946.5 495.8V489M948.5 495.8V490.7M949.8 495.8V491.6M951.5 495.8V492.6M952.7 495.8V488.7M954.6 495.8V493.5M956.2 495.8V490.7M957.6 495.8V493.8M959.4 495.8V489.9M961 495.8V493.7M962.5 495.8V493.7M964.5 495.8V493.9M965.9 495.8V489.9M967.2 495.8V493.6M968.5 495.8V493.3M970.1 495.8V489.5M971.4 495.8V493.2M973.2 495.8V491.8M940.5 495.8V479.9M947.6 495.8V479.9M948.9 495.8V482.7M953.9 495.8V480.4M960.8 495.8V480.2M966.7 495.8V480.3M967.9 495.8V482M973.8 495.8V482.1M973.8 495.8V482.8M940.2 523.2V526M941.5 523.2V525.4M943.4 523.2V526.1M945.1 523.2V528.1M946.9 523.2V525.4M948.9 523.2V527.8M950.9 523.2V527.5M952.7 523.2V527.8M954.1 523.2V527.2M955.6 523.2V527.9M956.9 523.2V526.7M958.3 523.2V527.8M959.8 523.2V527.9M961.7 523.2V528.1M963 523.2V528.3M964.8 523.2V527.2M968.4 523.2V526.7M970 523.2V525.8M971.8 523.2V527.7M973.7 523.2V525.3M941.1 523.2V533.4M948 523.2V535.1M953.8 523.2V534.2M960.1 523.2V533M965.9 523.2V532.1M967.1 523.2V530.8M971.5 523.2V533.1M972.7 523.2V532.6M976.2 516.8V514M978 516.8V511.7M979.3 516.8V514.3M980.8 516.8V512.5M982.1 516.8V513.3M983.7 516.8V512.8M985.1 516.8V511.6M987.1 516.8V513.2M988.9 516.8V514.8M990.8 516.8V513.3M992.6 516.8V512M994.1 516.8V511.7M997.1 516.8V511.8M999 516.8V511.6M1000.6 516.8V511.7M1002.3 516.8V515M1004 516.8V512.2M979.4 516.8V506.7M984.9 516.8V506M992.1 516.8V505.5M997.1 516.8V505.6M998.3 516.8V507.5M1003 516.8V507.2M976.2 560.2V562M977.8 560.2V563M979.8 560.2V563.2M981.7 560.2V563.1M983.1 560.2V563.6M985.7 560.2V564M987.6 560.2V562.9M989.1 560.2V562.9M990.6 560.2V564M994 560.2V563.5M995.2 560.2V564.6M997 560.2V562.7M998.7 560.2V564.8M1000.2 560.2V563M1001.6 560.2V563.4M1003.4 560.2V564.1M976.9 560.2V570.9M978.1 560.2V569.8M981.9 560.2V571M983.1 560.2V568.4M988.9 560.2V569.7M990.1 560.2V569.5M994.4 560.2V569.7M1000.1 560.2V570.8M1007.2 519.8V513.8M1009.1 519.8V512.5M1010.8 519.8V512.6M1012 519.8V512.6M1013.6 519.8V517M1015.4 519.8V513M1016.9 519.8V517.5M1018.8 519.8V513.6M1020.5 519.8V512.3M1021.7 519.8V517.8M1023 519.8V518M1024.8 519.8V514.4M1026.1 519.8V517.1M1027.4 519.8V514.5M1029.1 519.8V512.3M1030.6 519.8V512.3M1032.2 519.8V515.8M1033.6 519.8V516.7M1035.6 519.8V512.2M1007.7 519.8V506.3M1014.3 519.8V503.2M1015.6 519.8V505.9M1019.2 519.8V505M1020.5 519.8V508.7M1026.2 519.8V504.9M1027.5 519.8V505.1M1032.9 519.8V502.8M1034.2 519.8V505.7M1007.2 566.2V569.7M1009.1 566.2V568.5M1011.1 566.2V572.8M1012.4 566.2V572.8M1014.1 566.2V573.7M1015.7 566.2V570.7M1017.7 566.2V568.5M1019.5 566.2V568.6M1020.9 566.2V568.7M1022.8 566.2V570.8M1024.6 566.2V569.6M1026.4 566.2V572.1M1027.7 566.2V571.1M1029.4 566.2V569.4M1031.2 566.2V569.8M1032.7 566.2V573.8M1034.6 566.2V574.3M1036.2 566.2V571.6M1011.7 566.2V583.7M1017.6 566.2V582.9M1025.4 566.2V579.5M1029.7 566.2V583.6M1036.3 566.2V582.2M1036.8 566.2V579.2M1039.2 477.8V467.8M1040.8 477.8V474.4M1042.7 477.8V468.3M1044.4 477.8V468.8M1045.8 477.8V471.2M1047.7 477.8V466.9M1049.6 477.8V473.9M1051.4 477.8V470.5M1052.9 477.8V473.8M1054.2 477.8V471.2M1055.8 477.8V473M1057.3 477.8V470.5M1059.1 477.8V470.1M1060.4 477.8V467.5M1061.9 477.8V466.9M1063.9 477.8V474.1M1065.6 477.8V466.8M1067.1 477.8V470.5M1068.5 477.8V475M1039.6 477.8V454.6M1040.8 477.8V454.9M1046.9 477.8V456.2M1048.1 477.8V460M1052 477.8V453.6M1053.2 477.8V455.5M1057.9 477.8V455.9M1059.2 477.8V458.1M1065.2 477.8V455.9M1066.4 477.8V461M1039.2 520.2V532.3M1041.2 520.2V532.7M1042.9 520.2V529.4M1044.2 520.2V530.1M1045.9 520.2V526.5M1047.8 520.2V525.5M1049.1 520.2V524.6M1050.4 520.2V528.8M1052.3 520.2V524.6M1053.9 520.2V528.6M1055.5 520.2V527M1057.1 520.2V523.1M1058.4 520.2V527.1M1059.8 520.2V530.4M1061.2 520.2V531.1M1062.6 520.2V523.9M1064.1 520.2V526.8M1065.6 520.2V530.5M1067 520.2V529.6M1041.9 520.2V547.8M1043.2 520.2V542.2M1048.6 520.2V543.4M1054.2 520.2V542.7M1059.9 520.2V541.3M1061.1 520.2V537.8M1065.2 520.2V546.4M1071.2 498.8V494.7M1073.2 498.8V496.2M1074.6 498.8V494.8M1076 498.8V495.9M1077.7 498.8V495.8M1080.7 498.8V493.4M1084.2 498.8V495.5M1085.6 498.8V494.8M1087.2 498.8V494.2M1088.6 498.8V493.7M1090.5 498.8V495.6M1091.8 498.8V495.6M1093.1 498.8V494.7M1094.8 498.8V495.2M1098.6 498.8V494.2M1099.9 498.8V496.2M1075.1 498.8V488.5M1076.3 498.8V490.1M1081.6 498.8V489.2M1082.8 498.8V489.9M1085.7 498.8V488.5M1087 498.8V488.5M1093.3 498.8V486.9M1094.5 498.8V487M1098.9 498.8V487.8M1071.2 544.2V553.5M1072.5 544.2V552.2M1074 544.2V554.5M1075.7 544.2V554.7M1077.3 544.2V549.4M1079.3 544.2V552M1080.8 544.2V549.8M1082.3 544.2V553.9M1084.2 544.2V551.7M1085.9 544.2V549.1M1087.5 544.2V550.5M1089 544.2V550.5M1090.8 544.2V554.2M1092.1 544.2V549.3M1094 544.2V553.4M1095.7 544.2V553.2M1097.4 544.2V549.7M1098.7 544.2V550.5M1099.9 544.2V556.4M1076 544.2V571.2M1081.5 544.2V571.7M1082.8 544.2V570.8M1086.2 544.2V571.8M1087.5 544.2V567.2M1092.6 544.2V567.5M1098.4 544.2V570.1M1105.1 497.8V495.7M1124.3 497.8V495.9M1108.4 497.8V493.3M1112.3 497.8V493.9M1119.3 497.8V493.3M1126.3 497.8V493.5M1127.5 497.8V494M1131.9 497.8V492.9M1103.2 538.2V541.6M1104.6 538.2V543.5M1106.2 538.2V543.7M1107.7 538.2V543.2M1108.9 538.2V540.7M1110.8 538.2V542.9M1112.6 538.2V542M1114.2 538.2V540.6M1115.5 538.2V542.8M1117.3 538.2V540.9M1119 538.2V540.3M1120.7 538.2V540.4M1122.3 538.2V541.1M1123.9 538.2V540.3M1125.5 538.2V542.6M1126.8 538.2V541.1M1128.5 538.2V542.3M1130.2 538.2V543.4M1131.9 538.2V540.7M1108.3 538.2V551.5M1115.7 538.2V551.5M1121.9 538.2V550.9M1123.1 538.2V548.4M1129 538.2V551.9M1130.2 538.2V550M1135.2 498.8V493.6M1136.5 498.8V494.3M1138.1 498.8V493.9M1139.7 498.8V496.6M1141.6 498.8V496.2M1143.4 498.8V493.7M1144.8 498.8V494.3M1146.3 498.8V496.5M1147.7 498.8V493.2M1149.2 498.8V495.2M1152.6 498.8V494.1M1154.5 498.8V495.9M1155.9 498.8V495.9M1157.7 498.8V494.5M1159.2 498.8V495.1M1160.5 498.8V493.3M1162.1 498.8V495.2M1136.7 498.8V487.6M1138 498.8V490.1M1142.3 498.8V488.1M1148.8 498.8V486.8M1150.1 498.8V489.4M1155.8 498.8V488.3M1160.5 498.8V487M1135.2 534.2V537.5M1136.9 534.2V536.8M1138.2 534.2V537.6M1139.7 534.2V537.4M1141.1 534.2V536.9M1142.8 534.2V536.3M1146.1 534.2V537.3M1147.4 534.2V536.8M1151.1 534.2V537.8M1154.8 534.2V536.6M1156.2 534.2V536M1157.8 534.2V536.3M1159.6 534.2V537.4M1162.1 534.2V536.1M1163.4 534.2V537.3M1140.7 534.2V540.9M1142 534.2V539.9M1147.5 534.2V542.9M1153.2 534.2V542.4M1159 534.2V542.5M1160.2 534.2V542.2M1166.2 521.8V515M1167.9 521.8V514.9M1169.1 521.8V516.5M1170.6 521.8V515.3M1172.1 521.8V518.8M1173.8 521.8V517.6M1175.6 521.8V517.5M1177.3 521.8V513.8M1178.6 521.8V514.3M1179.8 521.8V512.8M1181 521.8V514.4M1182.5 521.8V518.4M1184.1 521.8V516M1185.6 521.8V518.8M1187.2 521.8V517.5M1189.2 521.8V516.9M1190.7 521.8V518M1192.7 521.8V517.3M1194.4 521.8V513.6M1195.9 521.8V514.1M1197.4 521.8V518.9M1198.6 521.8V516.4M1200.5 521.8V518.2M1202 521.8V514.1M1203.5 521.8V518.6M1169.5 521.8V501.2M1174.5 521.8V502M1179.3 521.8V505.7M1184.9 521.8V501.4M1191.3 521.8V505.9M1192.6 521.8V507.5M1197.6 521.8V501.6M1204.7 521.8V504.2M1204.8 521.8V504.7M1166.2 554.2V563.9M1167.5 554.2V558.8M1169.2 554.2V558.2M1170.8 554.2V562.6M1172.1 554.2V562.1M1173.4 554.2V560.6M1175.1 554.2V562.4M1176.3 554.2V558.2M1178.3 554.2V559.9M1179.8 554.2V559.7M1181.6 554.2V562.8M1183.3 554.2V560M1185 554.2V560.9M1186.3 554.2V564.6M1188.3 554.2V563.1M1190.3 554.2V560.5M1192.1 554.2V558.6M1193.9 554.2V562.6M1195.9 554.2V563.6M1197.8 554.2V558.8M1199.6 554.2V560.6M1201.1 554.2V559.7M1202.9 554.2V563.7M1204.8 554.2V562.2M1167.2 554.2V573.8M1173.4 554.2V574.3M1179.5 554.2V575M1184.5 554.2V574.4M1185.7 554.2V571.2M1191.3 554.2V577.4M1197.6 554.2V577.9M1198.9 554.2V575.3M1202.5 554.2V576.8M1203.7 554.2V574.8M1207.2 520.8V517.2M1208.5 520.8V515.4M1210.3 520.8V517.6M1212.1 520.8V513.8M1213.4 520.8V518.3M1215 520.8V517.1M1216.9 520.8V513.2M1218.5 520.8V514.4M1220.2 520.8V518.1M1222.2 520.8V518.1M1223.4 520.8V516.4M1224.7 520.8V516.2M1226.2 520.8V513.4M1227.7 520.8V514M1229.5 520.8V515.6M1230.9 520.8V517.3M1232.5 520.8V516.7M1234.2 520.8V516.1M1235.7 520.8V515.5M1237.7 520.8V517.9M1240.4 520.8V518.8M1242 520.8V514.1M1243.7 520.8V513.4M1245.6 520.8V515.6M1207.2 520.8V506.6M1208.5 520.8V509.9M1212.8 520.8V505.1M1214.1 520.8V505.2M1220.7 520.8V504.1M1226 520.8V504M1227.2 520.8V504.4M1233.1 520.8V505.1M1238 520.8V508.3M1239.2 520.8V508.9M1243.9 520.8V505.1M1207.2 555.2V561.5M1208.7 555.2V565.5M1210 555.2V563.2M1211.8 555.2V566.7M1213.1 555.2V560.5M1214.6 555.2V566.7M1216 555.2V565.8M1217.5 555.2V563.1M1219.4 555.2V558.5M1220.9 555.2V559.4M1222.2 555.2V560.8M1224 555.2V563.4M1225.3 555.2V565.5M1226.9 555.2V559.3M1228.7 555.2V565.7M1230.1 555.2V566.8M1231.9 555.2V560.1M1233.1 555.2V566.1M1235 555.2V558.8M1236.8 555.2V565.2M1238.5 555.2V565.8M1240.5 555.2V561M1242.4 555.2V566.6M1243.8 555.2V564.4M1245.6 555.2V565.9M1208.5 555.2V579.7M1215 555.2V576.1M1220 555.2V580.9M1226.5 555.2V575.1M1233.1 555.2V580.6M1238.4 555.2V581.5M1239.7 555.2V578.1M1244.8 555.2V581.5M1248.2 520.8V517.3M1250.1 520.8V514.6M1251.6 520.8V518.7M1253.3 520.8V515.4M1255.2 520.8V515.8M1256.7 520.8V516.6M1258.1 520.8V517M1259.7 520.8V514.5M1261.6 520.8V514.4M1263.2 520.8V514.2M1264.5 520.8V514.5M1266.2 520.8V514.7M1267.7 520.8V514.1M1269 520.8V514.8M1270.8 520.8V517.3M1272.7 520.8V518.2M1274.5 520.8V516.8M1276 520.8V518.3M1277.8 520.8V515.5M1279.1 520.8V514.2M1280.5 520.8V517.3M1282 520.8V516.3M1283.9 520.8V514.3M1285.6 520.8V517.4M1286.9 520.8V518.9M1288.5 520.8V516.2M1290.1 520.8V514.1M1291.6 520.8V517.5M1293.2 520.8V518.4M1295.1 520.8V516.2M1296.8 520.8V517.1M1298.2 520.8V517.6M1299.7 520.8V517M1301.7 520.8V516.3M1248.2 520.8V507.9M1249.5 520.8V508.3M1254.6 520.8V509.6M1259.5 520.8V507.1M1260.8 520.8V509.8M1265.7 520.8V508.4M1272 520.8V506.3M1273.2 520.8V507.6M1278.5 520.8V509.2M1285.1 520.8V508.1M1291.4 520.8V505.8M1296.1 520.8V506.4M1297.4 520.8V507.3M1248.2 555.2V561.1M1250 555.2V562.9M1251.4 555.2V561.8M1253 555.2V563.4M1254.4 555.2V560M1255.9 555.2V558.3M1257.3 555.2V563.4M1259 555.2V558.9M1260.8 555.2V558.4M1262.6 555.2V558.7M1263.9 555.2V559.5M1265.5 555.2V559.7M1267.4 555.2V565.1M1268.8 555.2V563.5M1270.6 555.2V562M1272 555.2V565.1M1273.9 555.2V557.6M1275.4 555.2V560.1M1276.8 555.2V561M1278.7 555.2V557.7M1280.5 555.2V560M1281.8 555.2V564.7M1283.2 555.2V559.2M1284.5 555.2V560.5M1285.8 555.2V558.9M1287.2 555.2V562.2M1288.7 555.2V560M1290.3 555.2V563.7M1292.1 555.2V560.3M1294.1 555.2V563.9M1295.7 555.2V561.3M1297.2 555.2V558.6M1299.1 555.2V562.4M1300.4 555.2V565M1248.7 555.2V574.2M1250 555.2V573.4M1254.1 555.2V575.4M1255.3 555.2V571.3M1260.6 555.2V573.3M1266.6 555.2V578.1M1267.9 555.2V573.5M1273.5 555.2V573M1274.8 555.2V569M1279.8 555.2V577.4M1286 555.2V576.9M1287.3 555.2V574.8M1293.4 555.2V574.5M1298.9 555.2V576.7M1300.1 555.2V572M172.2 534.6h0.01M171.6 534.8h0.01M178.6 532.9h0.01M178.5 534.1h0.01M183.6 533.5h0.01M197.5 534h0.01M196.3 533.4h0.01M203 534.5h0.01M203 532.9h0.01M209.3 534.4h0.01M213.6 533.6h0.01M226 534h0.01M238.5 532.3h0.01M243.6 532.1h0.01M245 531.5h0.01M242.9 531.7h0.01M251.2 533.2h0.01M257.3 533.9h0.01M256.5 533.1h0.01M271.6 534.6h0.01M173 573.5h0.01M180.3 575.7h0.01M186 573h0.01M203.3 573.7h0.01M203 573.5h0.01M216.1 575.2h0.01M222.4 572.9h0.01M233.6 575.6h0.01M240.9 574.3h0.01M251.7 572.3h0.01M257.6 573.8h0.01M257.7 573.4h0.01M257.6 575.5h0.01M268.2 575.8h0.01M281.7 492.8h0.01M280.2 492.6h0.01M286.2 486.5h0.01M304.8 491.9h0.01M309.5 486h0.01M309.6 487.6h0.01M314.7 496.1h0.01M321.7 493.9h0.01M293.8 558.6h0.01M292.2 559.7h0.01M293.6 562.2h0.01M315.4 561.6h0.01M314.4 561.5h0.01M323 558.1h0.01M334.9 498.9h0.01M335.8 503h0.01M339.1 499.9h0.01M338.8 501.5h0.01M352.6 504.7h0.01M359 505.5h0.01M330.6 560h0.01M336.4 557.3h0.01M343.2 560.8h0.01M347.7 557.6h0.01M355.3 559.3h0.01M366.6 501.4h0.01M366.9 506.1h0.01M371.7 499.2h0.01M371.9 504.3h0.01M378.2 501.6h0.01M378.5 499.6h0.01M385.3 494.7h0.01M392.8 503.4h0.01M390.7 495.9h0.01M398.6 498.8h0.01M403.3 501.5h0.01M366.9 564.1h0.01M366.4 571.5h0.01M371.4 567.2h0.01M377.3 568.1h0.01M377 569h0.01M396.9 564.9h0.01M397.9 565.7h0.01M402 564.8h0.01M402 565h0.01M402.8 567.6h0.01M408.6 563.4h0.01M413.8 562.9h0.01M413.2 567.3h0.01M432.2 500.4h0.01M439.7 501h0.01M416.4 560.9h0.01M420.5 560.8h0.01M420.5 558.2h0.01M428.4 558.9h0.01M428.2 560.8h0.01M438.9 561.1h0.01M438.7 563.1h0.01M444.9 562.7h0.01M453.7 470.3h0.01M462.8 474.1h0.01M463.3 478.7h0.01M462.7 468.2h0.01M478.2 478.4h0.01M479.5 478.7h0.01M478.2 474.8h0.01M496 490.6h0.01M501.7 498h0.01M501.6 498.4h0.01M520.6 518.2h0.01M519.9 516.2h0.01M525.2 517.8h0.01M531.9 521.1h0.01M455.5 544.1h0.01M456.2 543.8h0.01M462.5 548.1h0.01M462.2 551.8h0.01M468.5 552.2h0.01M485.9 567.6h0.01M485.6 564.4h0.01M490.6 568.6h0.01M498.2 576.8h0.01M505.3 585.3h0.01M504.2 585h0.01M505.3 587.3h0.01M512 588.4h0.01M511 587.3h0.01M523.4 601h0.01M528.9 592.6h0.01M530.3 589.3h0.01M529.3 602.2h0.01M536.4 595.5h0.01M545.6 463.4h0.01M551.3 456.1h0.01M556.8 464.8h0.01M558.2 462.7h0.01M570.3 459.8h0.01M589.4 454.5h0.01M593.9 459.7h0.01M593.6 463.3h0.01M605.8 459.2h0.01M605.1 461.2h0.01M616.3 466.7h0.01M616.2 464.9h0.01M621.5 457.5h0.01M621.8 458.3h0.01M621.3 455.7h0.01M627.8 465.5h0.01M548.5 537.8h0.01M547.6 534.5h0.01M553.2 533.2h0.01M553.7 534.9h0.01M560 537.4h0.01M559.3 536.5h0.01M564.6 531.9h0.01M565.9 533.4h0.01M571.4 530.2h0.01M572 530.9h0.01M576.1 534.5h0.01M589.2 533.5h0.01M589.8 532.1h0.01M595.5 537h0.01M596.1 532.4h0.01M607.7 532.9h0.01M642.7 472.2h0.01M647 474.9h0.01M647.7 465h0.01M653.6 466.6h0.01M667.6 472.6h0.01M666.2 472.2h0.01M664.8 468.6h0.01M672.1 477.4h0.01M682.6 473.9h0.01M682.3 473h0.01M689.2 473.8h0.01M695.3 480h0.01M703.5 480.8h0.01M703.2 478.4h0.01M708.7 479.3h0.01M715.1 479.9h0.01M713.1 480.8h0.01M714.9 477.2h0.01M646.3 530.1h0.01M645.9 531.5h0.01M646 536.3h0.01M650.2 538.1h0.01M658 531.2h0.01M670 538.3h0.01M675.8 532.8h0.01M675.5 534.9h0.01M680.7 539.2h0.01M685 535.9h0.01M685 539h0.01M699.8 541.7h0.01M703 535.2h0.01M715.3 542.4h0.01M716 537.8h0.01M725.8 460.3h0.01M726.3 460h0.01M727 453.6h0.01M738.8 462.3h0.01M745.7 463.2h0.01M744.2 461.9h0.01M752.8 466.9h0.01M732.3 517.5h0.01M732.5 516.9h0.01M736.9 513.1h0.01M742.9 516.5h0.01M748.7 510.1h0.01M771.3 464.6h0.01M778.4 470.1h0.01M779.5 470h0.01M792.3 469.1h0.01M798.7 470.5h0.01M799.2 472.1h0.01M805.8 468.8h0.01M805.3 467.6h0.01M756.6 565.7h0.01M764.2 559.8h0.01M769.6 560.5h0.01M788.1 562.6h0.01M786.8 561.2h0.01M794 564h0.01M795.2 563.1h0.01M794.7 570.5h0.01M800.2 560.6h0.01M804.8 557.3h0.01M806.1 565.9h0.01M814.3 461.3h0.01M818 470.1h0.01M831.1 464.7h0.01M832 466h0.01M813.5 543.7h0.01M817.9 540h0.01M818.1 539.8h0.01M818 548.3h0.01M824.5 543.1h0.01M822.5 546.7h0.01M831.1 536.6h0.01M829.7 537.6h0.01M841.2 540.7h0.01M846.9 537.8h0.01M853.7 477h0.01M854.1 473.9h0.01M858.6 475.8h0.01M865.9 477h0.01M864.8 471.1h0.01M878.9 472.9h0.01M878.2 472.9h0.01M886.2 470.8h0.01M854.2 528.9h0.01M852.5 529.1h0.01M876.4 529.7h0.01M882.8 528.7h0.01M883.6 530.6h0.01M888.2 527.9h0.01M895.4 474.1h0.01M914.3 479.3h0.01M924.7 477.9h0.01M923.8 477.1h0.01M929.2 482.2h0.01M935.9 481.9h0.01M896.9 538.8h0.01M902.8 540h0.01M908.3 536.1h0.01M915.4 534.3h0.01M922.1 539.5h0.01M926.4 533.9h0.01M948.5 479.6h0.01M940.9 531.6h0.01M940.6 533.7h0.01M949.2 534.4h0.01M954.8 533.7h0.01M966.1 530.6h0.01M979.8 508.5h0.01M986.2 507.5h0.01M993.4 507.6h0.01M993.4 506.2h0.01M997 507.2h0.01M976.9 571.8h0.01M989.2 568.7h0.01M999.5 569.3h0.01M1007.3 506.8h0.01M1007.6 500.1h0.01M1015.6 502.2h0.01M1020.2 505.7h0.01M1018.6 504.4h0.01M1026.9 506.5h0.01M1026.4 506.7h0.01M1032.8 503.1h0.01M1012 580.9h0.01M1012.6 581h0.01M1013.1 586.1h0.01M1017.5 584.5h0.01M1026.3 579.8h0.01M1036.2 583.4h0.01M1036.8 583.7h0.01M1039.7 452.7h0.01M1046.8 454.3h0.01M1046.4 460.5h0.01M1053.4 453.5h0.01M1052.8 458.4h0.01M1057.4 458.9h0.01M1057.7 454.8h0.01M1066.5 459.6h0.01M1066.1 458.5h0.01M1064.8 548.3h0.01M1075 487.5h0.01M1073.8 485.1h0.01M1093.1 487.4h0.01M1081.8 568.8h0.01M1087.4 569.8h0.01M1086 572.7h0.01M1087.4 574.7h0.01M1092.7 562.9h0.01M1108 493.8h0.01M1109.3 493.6h0.01M1108.3 492.6h0.01M1112.7 494.4h0.01M1132.8 493.4h0.01M1109.6 552.2h0.01M1108.6 552.3h0.01M1115.5 552.1h0.01M1116.2 548.9h0.01M1121.9 548.4h0.01M1121.9 548.6h0.01M1128.9 552.9h0.01M1130 552.1h0.01M1148.8 486.1h0.01M1149.8 486.8h0.01M1156.2 489.9h0.01M1161.5 489.3h0.01M1140.9 540.2h0.01M1140.3 541.4h0.01M1153 542.1h0.01M1152.8 544.8h0.01M1158.6 541.6h0.01M1169.7 505.1h0.01M1174.2 504.1h0.01M1175.4 505.8h0.01M1174.5 500.7h0.01M1180.3 499h0.01M1184.5 499.7h0.01M1191.3 506.7h0.01M1204.8 506.4h0.01M1204.8 504.5h0.01M1179.3 572.4h0.01M1178.9 571.5h0.01M1185.7 571.1h0.01M1185.6 570.5h0.01M1191.3 575.5h0.01M1203.8 577.6h0.01M1207.4 507.4h0.01M1207.9 501.1h0.01M1212.3 504.2h0.01M1220.9 506h0.01M1227.4 507.2h0.01M1233.5 504.9h0.01M1232.5 500.8h0.01M1245.2 504.6h0.01M1209.6 576.6h0.01M1209.3 579.8h0.01M1215.4 577h0.01M1214.7 572.6h0.01M1219.6 577.7h0.01M1233.1 577.7h0.01M1244.6 587.5h0.01M1255.4 510.6h0.01M1260.3 503.9h0.01M1272.5 508.4h0.01M1278.3 503.2h0.01M1285.1 507.9h0.01M1290.8 504.9h0.01M1290.9 506.4h0.01M1295.6 506h0.01M1253.5 573h0.01M1254.9 578.6h0.01M1261 574.7h0.01M1267.9 574.3h0.01M1274.3 571.2h0.01M1274.3 571.7h0.01M1274.8 580h0.01M1279.3 576.2h0.01M1293.3 570.9h0.01M1293.1 576.4h0.01M1300.2 572.4h0.01M1300.4 578.7h0.01" stroke="#000" stroke-width="3.6" stroke-linecap="round" fill="none"/><path d="M1014.5 506.8V474.8M1015.8 506.8V479.8M409 501.8V486.8M410.3 501.8V491.8M357 501.8V489.8M441.5 501.8V488.8M1148 489.8V477.8M1149.3 491.8V482.8M367 568.2V584.2M421 564.2V583.2M1192 570.2V582.2M165.6 527.9h0.01M166.5 530.8h0.01M190.1 528.9h0.01M197.2 528h0.01M196.5 530.8h0.01M213.5 527.3h0.01M213.8 530.2h0.01M243.6 530.3h0.01M256 530.8h0.01M266.4 527.8h0.01M266.6 530h0.01M172.2 580.7h0.01M171.8 577.1h0.01M190.9 580.7h0.01M190.6 577.3h0.01M203.1 576.4h0.01M229 577.4h0.01M234.2 577.2h0.01M240.2 576.6h0.01M245.1 580h0.01M251.5 586.2h0.01M284.6 486h0.01M314.6 487.5h0.01M298.9 564.3h0.01M346.9 560.9h0.01M550.5 455.8h0.01M557.4 458.6h0.01M557.7 461.1h0.01M570.6 455.6h0.01M570.8 458.4h0.01M576.5 452.4h0.01M576.3 457h0.01M582.7 459.5h0.01M558.8 539.7h0.01M558.8 537.7h0.01M565 539.2h0.01M565 536.9h0.01M570.6 537.8h0.01M570.9 535.5h0.01M612.9 537.1h0.01M626.4 540.1h0.01M653 467h0.01M672.6 472.1h0.01M688.9 464.5h0.01M651.3 536.8h0.01M669.7 549.4h0.01M669.7 543.2h0.01M685.7 540.2h0.01M738.1 448.3h0.01M745.7 454.9h0.01M745.3 459.4h0.01M736.6 517.7h0.01M737.2 514.9h0.01M760.6 462.8h0.01M760.6 467.3h0.01M756.7 568.6h0.01M781 567.1h0.01M805.1 564.8h0.01M836.4 457.3h0.01M843.1 462h0.01M854.4 472.6h0.01M858.4 470.1h0.01M865.7 472.9h0.01M882.4 532.5h0.01M979.7 503.5h0.01M992.5 504h0.01M999.7 576.9h0.01M999.6 573.9h0.01M1052.6 450.2h0.01M1057.7 447.4h0.01M1041.4 552.3h0.01M1041.8 550.1h0.01M1065.1 550h0.01M1076.3 580h0.01M1075.8 575.6h0.01M1126.1 485.2h0.01M1126.5 489.3h0.01M1132.1 490.8h0.01M1121.4 558.7h0.01M1121.6 554.8h0.01M1129.5 553.8h0.01M1155.7 478.3h0.01M1155.4 483.3h0.01M1191.1 498.7h0.01M1191.1 502.3h0.01M1197.6 495.4h0.01M1204.9 489.8h0.01M1166.9 578.6h0.01M1191.4 579.7h0.01M1245.1 583.4h0.01M1295.5 498.9h0.01M1296.3 502.7h0.01M1254.1 578.1h0.01M1280.1 586.7h0.01M1280.4 582.1h0.01M905.3 475.4h0.01M905 461.2h0.01M901.5 466.7h0.01M900.8 461.9h0.01M897 467.1h0.01M897.3 467.3h0.01M895.1 461.2h0.01M902.9 466.7h0.01M900.6 471.8h0.01M898.9 460.7h0.01M903.7 469.5h0.01M902.3 470h0.01M883 472.4h0.01M881.9 472.4h0.01M880.9 473.7h0.01M879.5 471.2h0.01M651.9 463.9h0.01M654.4 459.7h0.01M655.5 455.6h0.01M645.6 457.8h0.01M659.3 455.8h0.01M644.2 454.3h0.01M642.6 457h0.01M654.1 465.4h0.01M648.9 458.5h0.01M648 457.5h0.01M658.4 461.3h0.01M647.3 454.4h0.01M556.2 453.6h0.01M556.6 451.1h0.01M553.9 454.8h0.01M554.4 454.9h0.01M550.4 455.1h0.01M549.3 452h0.01M610.9 455.6h0.01M613.1 456.1h0.01M613.5 456h0.01M1042.6 450.1h0.01M1043.3 446.7h0.01M1044.1 446.8h0.01M724.8 442.4h0.01M726.3 443.5h0.01M728.8 449.8h0.01M725 442.7h0.01M726.7 443.2h0.01M1144.8 481.8h0.01M1142.7 478.9h0.01M1147.5 479.1h0.01M1143.3 482.4h0.01M1146.8 482.4h0.01M1145.9 478.9h0.01M1122.3 489.3h0.01M1121.1 486.1h0.01M1113.4 487h0.01M1124.1 487.8h0.01M1119.1 489.3h0.01M1109.2 488.2h0.01M1114.2 487.8h0.01M1125.5 486.1h0.01M1128.1 485.2h0.01M1119.4 487.7h0.01M1264.1 494.5h0.01M1265.3 493.6h0.01M1266.7 489.8h0.01M1264.8 496.4h0.01M1263.6 497.1h0.01M1286.9 492.8h0.01M1286.7 491.1h0.01M1288.1 488.4h0.01M1289.6 491.4h0.01M1289.5 491.8h0.01M1192.7 493.2h0.01M1191.8 496.3h0.01M1191.1 496.2h0.01M1193.7 493h0.01M715.3 542.1h0.01M712.3 539.7h0.01M707.4 540h0.01M707.1 543.9h0.01M707.7 540.3h0.01M709.1 543h0.01M216.1 530.1h0.01M191.7 529.5h0.01M173.5 529.3h0.01M192.7 530.8h0.01M218.8 529.1h0.01M214.4 529.1h0.01M225.7 579.7h0.01M257.7 578.9h0.01M256.9 578.9h0.01M271.3 580.6h0.01M168.5 581.4h0.01M194 579.4h0.01M1099.7 578h0.01M1099.7 576.1h0.01M1099.6 575h0.01M1099.6 563.3h0.01M1048 555.3h0.01M1046.2 558h0.01M1048 551.3h0.01M1045.8 554.9h0.01M1278 583h0.01M1278.5 582.6h0.01M1278.6 583.8h0.01M1279 580.5h0.01M1278.6 575.1h0.01" stroke="#ffa500" stroke-width="3.6" stroke-linecap="round" fill="none"/>
<path d="M172 602.4h0.01M177.2 602.4h0.01M185.2 659h0.01M251.2 651.5h0.01M445.4 621.3h0.01M447.3 436.4h0.01M469.3 610h0.01M549.5 599.8h0.01M606.2 628.8h0.01M577.5 574.5h0.01M593 552.6h0.01M421.7 587.3h0.01M355.5 588.5h0.01M240 591.5h0.01M788.3 583.9h0.01M819.2 597.9h0.01M822.2 595.6h0.01M867.3 602.8h0.01M888.1 606.2h0.01M921.4 599.8h0.01M943.3 629.6h0.01M960.3 577.9h0.01M982.4 651.1h0.01M994.2 625.4h0.01M1115.3 583.9h0.01M1235.3 489.6h0.01M1261.2 617.9h0.01" stroke="#ffa500" stroke-width="3.6" stroke-linecap="round" fill="none"/>
<path d="M194.2 666.2l-2.8 -5.8h5.6zM228.4 666.2l-2.8 -5.8h5.6zM275.2 666.2l-2.8 -5.8h5.6zM283.2 666.2l-2.8 -5.8h5.6zM347.2 666.2l-2.8 -5.8h5.6zM386 666.2l-2.8 -5.8h5.6zM447.3 666.2l-2.8 -5.8h5.6zM702.2 666.2l-2.8 -5.8h5.6zM731.2 666.2l-2.8 -5.8h5.6zM796 666.2l-2.8 -5.8h5.6zM795.2 666.2l-2.8 -5.8h5.6zM840.9 666.2l-2.8 -5.8h5.6zM859.3 666.2l-2.8 -5.8h5.6zM949.4 666.2l-2.8 -5.8h5.6zM1028.1 666.2l-2.8 -5.8h5.6zM1031.3 666.2l-2.8 -5.8h5.6zM1057.3 666.2l-2.8 -5.8h5.6zM1263.2 666.2l-2.8 -5.8h5.6z" fill="#ffa500"/>
<rect x="105.4" y="499.0" width="1255.6" height="48.6" fill="#ff0000" fill-opacity="0.12"/>
<rect x="162" y="547.1" width="114" height="16.7" fill="#ffa500" fill-opacity="0.1"/>
<rect x="278" y="513" width="49" height="27" fill="#ffa500" fill-opacity="0.1"/>
<rect x="327" y="519.4" width="36" height="25" fill="#ffa500" fill-opacity="0.1"/>
<rect x="363" y="524" width="52" height="25" fill="#ffa500" fill-opacity="0.1"/>
<rect x="415" y="524" width="36" height="25" fill="#ffa500" fill-opacity="0.1"/>
<rect x="451" y="512.1" width="93" height="47.9" fill="#ffa500" fill-opacity="0.1"/>
<rect x="544" y="481.7" width="85" height="34.6" fill="#ffa500" fill-opacity="0.1"/>
<rect x="629" y="491.6" width="92" height="28.2" fill="#ffa500" fill-opacity="0.1"/>
<rect x="721" y="473.3" width="33" height="24.7" fill="#ffa500" fill-opacity="0.1"/>
<rect x="754" y="497.1" width="57" height="36.6" fill="#ffa500" fill-opacity="0.1"/>
<rect x="811" y="489.9" width="38" height="32" fill="#ffa500" fill-opacity="0.1"/>
<rect x="849" y="490" width="43" height="21" fill="#ffa500" fill-opacity="0.1"/>
<rect x="892" y="495" width="47" height="25.4" fill="#ffa500" fill-opacity="0.1"/>
<rect x="939" y="495.6" width="36" height="23.4" fill="#ffa500" fill-opacity="0.1"/>
<rect x="975" y="528.6" width="31" height="23.8" fill="#ffa500" fill-opacity="0.1"/>
<rect x="1006" y="523.8" width="32" height="36.2" fill="#ffa500" fill-opacity="0.1"/>
<rect x="1038" y="478.1" width="32" height="37.1" fill="#ffa500" fill-opacity="0.1"/>
<rect x="1070" y="509.5" width="32" height="35.3" fill="#ffa500" fill-opacity="0.1"/>
<rect x="1102" y="510.5" width="32" height="23.8" fill="#ffa500" fill-opacity="0.1"/>
<rect x="1134" y="503.8" width="31" height="22.9" fill="#ffa500" fill-opacity="0.1"/>
<rect x="1165" y="523.8" width="41" height="29.5" fill="#ffa500" fill-opacity="0.1"/>
<rect x="1206" y="526.7" width="41" height="31.4" fill="#ffa500" fill-opacity="0.1"/>
<rect x="1247" y="525.7" width="56" height="28.6" fill="#ffa500" fill-opacity="0.1"/>
<path d="M162 555.2H276M278 526.4H327M327 531.2H363M363 535.6H415M415 535.6H451M451 536.2H544M544 498.5H629M629 505H721M721 485.3H754M754 515.2H811M811 506.3H849M849 500.4H892M892 507.6H939M939 507.6H975M975 539.6H1006M1006 541.1H1038M1038 496.6H1070M1070 527.6H1102M1102 521.9H1134M1134 515.2H1165M1165 538.5H1206M1206 541.1H1247M1247 539.6H1303" stroke="#ffa500" stroke-width="2.778" stroke-linecap="square" fill="none"/>
<path d="M105.4 523.0H1360" stroke="#ff0000" stroke-width="2.083" stroke-linecap="square" fill="none"/>
<path d="M162 666.4V380.3M276 666.4V380.3M278 666.4V380.3M327 666.4V380.3M363 666.4V380.3M415 666.4V380.3M451 666.4V380.3M544 666.4V380.3M629 666.4V380.3M721 666.4V380.3M754 666.4V380.3M811 666.4V380.3M849 666.4V380.3M892 666.4V380.3M939 666.4V380.3M975 666.4V380.3M1006 666.4V380.3M1038 666.4V380.3M1070 666.4V380.3M1102 666.4V380.3M1134 666.4V380.3M1165 666.4V380.3M1206 666.4V380.3M1247 666.4V380.3M1303 666.4V380.3" stroke="#800080" stroke-width="2.083" stroke-dasharray="2.083 3.438" fill="none"/>
</g>
<text x="219" y="657" font-size="13.889" text-anchor="middle">18247</text>
<text x="277" y="636.9" font-size="13.889" text-anchor="middle">51304</text>
<text x="302.5" y="616.9" font-size="13.889" text-anchor="middle">28563</text>
<text x="345" y="657" font-size="13.889" text-anchor="middle">28558</text>
<text x="389" y="636.9" font-size="13.889" text-anchor="middle">30599</text>
<text x="433" y="616.9" font-size="13.889" text-anchor="middle">30600</text>
<text x="497.5" y="657" font-size="13.889" text-anchor="middle">28566</text>
<text x="586.5" y="636.9" font-size="13.889" text-anchor="middle">28561</text>
<text x="675" y="616.9" font-size="13.889" text-anchor="middle">28565</text>
<text x="737.5" y="657" font-size="13.889" text-anchor="middle">28564</text>
<text x="782.5" y="636.9" font-size="13.889" text-anchor="middle">28567</text>
<text x="830" y="616.9" font-size="13.889" text-anchor="middle">30800</text>
<text x="870.5" y="657" font-size="13.889" text-anchor="middle">28560</text>
<text x="915.5" y="636.9" font-size="13.889" text-anchor="middle">30813</text>
<text x="957" y="616.9" font-size="13.889" text-anchor="middle">30814</text>
<text x="990.5" y="657" font-size="13.889" text-anchor="middle">28562</text>
<text x="1022" y="636.9" font-size="13.889" text-anchor="middle">30831</text>
<text x="1054" y="616.9" font-size="13.889" text-anchor="middle">30832</text>
<text x="1086" y="657" font-size="13.889" text-anchor="middle">28559</text>
<text x="1118" y="636.9" font-size="13.889" text-anchor="middle">30842</text>
<text x="1149.5" y="616.9" font-size="13.889" text-anchor="middle">29314</text>
<text x="1185.5" y="657" font-size="13.889" text-anchor="middle">30845</text>
<text x="1226.5" y="636.9" font-size="13.889" text-anchor="middle">30786</text>
<text x="1275" y="616.9" font-size="13.889" text-anchor="middle">28149</text>
<rect x="105.4" y="380.3" width="1380" height="286.1" fill="none" stroke="#000" stroke-width="1.111"/>
<path d="M162.50 666.40v4.86M412.50 666.40v4.86M661.50 666.40v4.86M911.50 666.40v4.86M1160.50 666.40v4.86M1410.50 666.40v4.86" stroke="#000" stroke-width="1.111" fill="none"/><text x="162.4" y="687.1" font-size="13.889" text-anchor="middle">0</text><text x="412" y="687.1" font-size="13.889" text-anchor="middle">20000</text><text x="661.6" y="687.1" font-size="13.889" text-anchor="middle">40000</text><text x="911.2" y="687.1" font-size="13.889" text-anchor="middle">60000</text><text x="1160.8" y="687.1" font-size="13.889" text-anchor="middle">80000</text><text x="1410.5" y="687.1" font-size="13.889" text-anchor="middle">100000</text>
<path d="M100.54 406.20h4.86M100.54 466.50h4.86M100.54 526.80h4.86M100.54 587.10h4.86M100.54 647.40h4.86" stroke="#000" stroke-width="1.111" fill="none"/><text x="95.7" y="411" font-size="13.889" text-anchor="end">8.40</text><text x="95.7" y="471.3" font-size="13.889" text-anchor="end">8.35</text><text x="95.7" y="531.6" font-size="13.889" text-anchor="end">8.30</text><text x="95.7" y="591.9" font-size="13.889" text-anchor="end">8.25</text><text x="95.7" y="652.2" font-size="13.889" text-anchor="end">8.20</text>
<text x="795.4" y="371.9" font-size="16.667" text-anchor="middle">Magnitude Estimates</text>
<rect x="1365.4" y="387.5" width="113.2" height="47.6" rx="2.8" fill="#fff" fill-opacity="0.8" stroke="#cccccc" stroke-width="1.389"/>
<path d="M1369.6 399.4h30" stroke="#ffa500" stroke-width="2.778"/>
<path d="M1369.6 422h29.6" stroke="#ff0000" stroke-width="2.083"/>
<text x="1409.9" y="403.8" font-size="13.889">mag<tspan font-size="9.722" font-style="italic" dy="1.9">OBSID</tspan></text>
<text x="1409.2" y="427" font-size="13.889" text-anchor="start">mag</text>
<rect x="1348.5" y="613.5" width="130" height="46" rx="2.8" fill="#fff" fill-opacity="0.8" stroke="#cccccc" stroke-width="1.389"/>
<circle cx="1367.5" cy="626.5" r="2" fill="#ffa500"/>
<circle cx="1367.5" cy="647.5" r="2" fill="#000"/>
<text x="1392.5" y="630.3" font-size="13.889" text-anchor="start">Highlighted</text>
<text x="1392.5" y="651.3" font-size="13.889" text-anchor="start">OK</text>
<g clip-path="url(#c2)">
<path d="M184.4 840.4a1.05 1.05 0 1 0 2.1 0a1.05 1.05 0 1 0 -2.1 0M193.4 840.4a1.05 1.05 0 1 0 2.1 0a1.05 1.05 0 1 0 -2.1 0M227.4 840.4a1.05 1.05 0 1 0 2.1 0a1.05 1.05 0 1 0 -2.1 0M226.5 840.4a1.05 1.05 0 1 0 2.1 0a1.05 1.05 0 1 0 -2.1 0M239 840.4a1.05 1.05 0 1 0 2.1 0a1.05 1.05 0 1 0 -2.1 0M238.1 840.4a1.05 1.05 0 1 0 2.1 0a1.05 1.05 0 1 0 -2.1 0M274.6 840.4a1.05 1.05 0 1 0 2.1 0a1.05 1.05 0 1 0 -2.1 0M273.8 840.4a1.05 1.05 0 1 0 2.1 0a1.05 1.05 0 1 0 -2.1 0M300.9 840.4a1.05 1.05 0 1 0 2.1 0a1.05 1.05 0 1 0 -2.1 0M300.1 840.4a1.05 1.05 0 1 0 2.1 0a1.05 1.05 0 1 0 -2.1 0M402.2 840.4a1.05 1.05 0 1 0 2.1 0a1.05 1.05 0 1 0 -2.1 0M461.4 840.4a1.05 1.05 0 1 0 2.1 0a1.05 1.05 0 1 0 -2.1 0M511.2 840.4a1.05 1.05 0 1 0 2.1 0a1.05 1.05 0 1 0 -2.1 0M606.5 840.4a1.05 1.05 0 1 0 2.1 0a1.05 1.05 0 1 0 -2.1 0M692.2 840.4a1.05 1.05 0 1 0 2.1 0a1.05 1.05 0 1 0 -2.1 0M727.9 840.4a1.05 1.05 0 1 0 2.1 0a1.05 1.05 0 1 0 -2.1 0M727 840.4a1.05 1.05 0 1 0 2.1 0a1.05 1.05 0 1 0 -2.1 0M755.2 840.4a1.05 1.05 0 1 0 2.1 0a1.05 1.05 0 1 0 -2.1 0M801.6 840.4a1.05 1.05 0 1 0 2.1 0a1.05 1.05 0 1 0 -2.1 0M800.7 840.4a1.05 1.05 0 1 0 2.1 0a1.05 1.05 0 1 0 -2.1 0M812.2 840.4a1.05 1.05 0 1 0 2.1 0a1.05 1.05 0 1 0 -2.1 0M811.3 840.4a1.05 1.05 0 1 0 2.1 0a1.05 1.05 0 1 0 -2.1 0M877.5 840.4a1.05 1.05 0 1 0 2.1 0a1.05 1.05 0 1 0 -2.1 0M876.6 840.4a1.05 1.05 0 1 0 2.1 0a1.05 1.05 0 1 0 -2.1 0M1031 840.4a1.05 1.05 0 1 0 2.1 0a1.05 1.05 0 1 0 -2.1 0M1030 840.4a1.05 1.05 0 1 0 2.1 0a1.05 1.05 0 1 0 -2.1 0M1056.5 840.4a1.05 1.05 0 1 0 2.1 0a1.05 1.05 0 1 0 -2.1 0M1165.5 840.4a1.05 1.05 0 1 0 2.1 0a1.05 1.05 0 1 0 -2.1 0" stroke="#000" stroke-width="1.15" fill="none"/>
<path d="M184.4 878.4a1.05 1.05 0 1 0 2.1 0a1.05 1.05 0 1 0 -2.1 0M193.4 878.4a1.05 1.05 0 1 0 2.1 0a1.05 1.05 0 1 0 -2.1 0M227.4 878.4a1.05 1.05 0 1 0 2.1 0a1.05 1.05 0 1 0 -2.1 0M226.5 878.4a1.05 1.05 0 1 0 2.1 0a1.05 1.05 0 1 0 -2.1 0M239 878.4a1.05 1.05 0 1 0 2.1 0a1.05 1.05 0 1 0 -2.1 0M238.1 878.4a1.05 1.05 0 1 0 2.1 0a1.05 1.05 0 1 0 -2.1 0M274.6 878.4a1.05 1.05 0 1 0 2.1 0a1.05 1.05 0 1 0 -2.1 0M273.8 878.4a1.05 1.05 0 1 0 2.1 0a1.05 1.05 0 1 0 -2.1 0M300.9 878.4a1.05 1.05 0 1 0 2.1 0a1.05 1.05 0 1 0 -2.1 0M300.1 878.4a1.05 1.05 0 1 0 2.1 0a1.05 1.05 0 1 0 -2.1 0M303.6 878.4a1.05 1.05 0 1 0 2.1 0a1.05 1.05 0 1 0 -2.1 0M302.8 878.4a1.05 1.05 0 1 0 2.1 0a1.05 1.05 0 1 0 -2.1 0M402.2 878.4a1.05 1.05 0 1 0 2.1 0a1.05 1.05 0 1 0 -2.1 0M461.4 878.4a1.05 1.05 0 1 0 2.1 0a1.05 1.05 0 1 0 -2.1 0M511.2 878.4a1.05 1.05 0 1 0 2.1 0a1.05 1.05 0 1 0 -2.1 0M606.5 878.4a1.05 1.05 0 1 0 2.1 0a1.05 1.05 0 1 0 -2.1 0M692.2 878.4a1.05 1.05 0 1 0 2.1 0a1.05 1.05 0 1 0 -2.1 0M727.9 878.4a1.05 1.05 0 1 0 2.1 0a1.05 1.05 0 1 0 -2.1 0M727 878.4a1.05 1.05 0 1 0 2.1 0a1.05 1.05 0 1 0 -2.1 0M755.2 878.4a1.05 1.05 0 1 0 2.1 0a1.05 1.05 0 1 0 -2.1 0M786.7 878.4a1.05 1.05 0 1 0 2.1 0a1.05 1.05 0 1 0 -2.1 0M801.6 878.4a1.05 1.05 0 1 0 2.1 0a1.05 1.05 0 1 0 -2.1 0M800.7 878.4a1.05 1.05 0 1 0 2.1 0a1.05 1.05 0 1 0 -2.1 0M812.2 878.4a1.05 1.05 0 1 0 2.1 0a1.05 1.05 0 1 0 -2.1 0M811.3 878.4a1.05 1.05 0 1 0 2.1 0a1.05 1.05 0 1 0 -2.1 0M875.6 878.4a1.05 1.05 0 1 0 2.1 0a1.05 1.05 0 1 0 -2.1 0M874.7 878.4a1.05 1.05 0 1 0 2.1 0a1.05 1.05 0 1 0 -2.1 0M877.5 878.4a1.05 1.05 0 1 0 2.1 0a1.05 1.05 0 1 0 -2.1 0M876.6 878.4a1.05 1.05 0 1 0 2.1 0a1.05 1.05 0 1 0 -2.1 0M1031 878.4a1.05 1.05 0 1 0 2.1 0a1.05 1.05 0 1 0 -2.1 0M1030 878.4a1.05 1.05 0 1 0 2.1 0a1.05 1.05 0 1 0 -2.1 0M1056.5 878.4a1.05 1.05 0 1 0 2.1 0a1.05 1.05 0 1 0 -2.1 0" stroke="#000" stroke-width="1.15" fill="none"/>
<path d="M161 762.2h4v2.7h-4zM276 762.2h6v2.7h-6zM326 762.2h4v2.7h-4zM362 762.2h4v2.7h-4zM414 762.2h4v2.7h-4zM450 762.2h4v2.7h-4zM543 762.2h4v2.7h-4zM628 762.2h4v2.7h-4zM720 762.2h4v2.7h-4zM753 762.2h4v2.7h-4zM810 762.2h4v2.7h-4zM848 762.2h4v2.7h-4zM891 762.2h4v2.7h-4zM938 762.2h4v2.7h-4zM974 762.2h4v2.7h-4zM1005 762.2h4v2.7h-4zM1037 762.2h4v2.7h-4zM1069 762.2h4v2.7h-4zM1101 762.2h4v2.7h-4zM1133 762.2h4v2.7h-4zM1164 762.2h4v2.7h-4zM1205 762.2h4v2.7h-4zM1246 762.2h4v2.7h-4z" fill="#000"/>
<path d="M105.4 916.4H1485.4M105.4 878.2H1485.4M105.4 840.1H1485.4M105.4 801.9H1485.4M105.4 763.7H1485.4" stroke="#b0b0b0" stroke-width="1.111" stroke-dasharray="1.111 1.833" fill="none"/>
<path d="M162 954.5V725.4M276 954.5V725.4M278 954.5V725.4M327 954.5V725.4M363 954.5V725.4M415 954.5V725.4M451 954.5V725.4M544 954.5V725.4M629 954.5V725.4M721 954.5V725.4M754 954.5V725.4M811 954.5V725.4M849 954.5V725.4M892 954.5V725.4M939 954.5V725.4M975 954.5V725.4M1006 954.5V725.4M1038 954.5V725.4M1070 954.5V725.4M1102 954.5V725.4M1134 954.5V725.4M1165 954.5V725.4M1206 954.5V725.4M1247 954.5V725.4M1303 954.5V725.4" stroke="#800080" stroke-width="2.083" stroke-dasharray="2.083 3.438" fill="none"/>
</g>
<rect x="105.4" y="725.4" width="1380" height="229.1" fill="none" stroke="#000" stroke-width="1.111"/>
<path d="M100.54 916.42h4.86M100.54 878.24h4.86M100.54 840.06h4.86M100.54 801.88h4.86M100.54 763.70h4.86" stroke="#000" stroke-width="1.111" fill="none"/><text x="95.7" y="921.2" font-size="13.889" text-anchor="end">OBS not OK</text><text x="95.7" y="883" font-size="13.889" text-anchor="end">dr &gt; 5</text><text x="95.7" y="844.9" font-size="13.889" text-anchor="end">Ion. rad.</text><text x="95.7" y="806.7" font-size="13.889" text-anchor="end">not track</text><text x="95.7" y="768.5" font-size="13.889" text-anchor="end">not Kalman</text>
<g clip-path="url(#c3)">
<path d="M163.9 1006.6V1008.6M166 1006.7V1008.6M167.6 1006.3V1008.6M169.3 1007.2V1008.6M170.5 1005.3V1008.6M172.3 1003.5V1008.6M174.4 1006.7V1008.6M175.5 1006.1V1008.6M176.3 1006.4V1008.6M177.2 1006.7V1008.6M179.2 1006.5V1008.6M180.7 1006.9V1008.6M181.9 1004.5V1008.6M183.8 1007V1008.6M185 1006.5V1008.6M186.8 1005.4V1008.6M188.2 1006V1008.6M189 1004.6V1008.6M190.4 1007.3V1008.6M191.3 1006.1V1008.6M192.5 1006.3V1008.6M194.7 1007.1V1008.6M195.8 1006.3V1008.6M197.7 1006.2V1008.6M199.1 1005.8V1008.6M200.1 1007V1008.6M201.5 1006.5V1008.6M203.7 1007.2V1008.6M205.7 1006.4V1008.6M207.7 1007V1008.6M209.9 1006.5V1008.6M211.8 1006.6V1008.6M212.7 1006.1V1008.6M213.8 1006.9V1008.6M215.3 1007.3V1008.6M216.9 1007.2V1008.6M217.9 1006.2V1008.6M219 1005.8V1008.6M221.1 1004.1V1008.6M223.2 1006.9V1008.6M224.1 1003.8V1008.6M225.3 1007V1008.6M227.2 1006.9V1008.6M228.3 1007.1V1008.6M229.4 1005.5V1008.6M231 1004.6V1008.6M232.1 1006.2V1008.6M233.5 1006.3V1008.6M234.9 1006.9V1008.6M236.2 1004.6V1008.6M237.9 1006.8V1008.6M238.9 1006.2V1008.6M241 1004.6V1008.6M241.8 1006.9V1008.6M243.6 1003.6V1008.6M244.5 1006.2V1008.6M246.6 1006.6V1008.6M248.5 1007.3V1008.6M250.2 1005.8V1008.6M251.6 1005.7V1008.6M253.2 1006.9V1008.6M254.8 1006.9V1008.6M256.5 1005.8V1008.6M258.4 1006V1008.6M260 1005.5V1008.6M260.9 1007.1V1008.6M262.5 1006.8V1008.6M264.3 1006.5V1008.6M266.4 1006.5V1008.6M267.6 1007V1008.6M268.7 1006.9V1008.6M270.1 1007.3V1008.6M271.8 1006.4V1008.6M273.7 1005.7V1008.6M275.1 1006.9V1008.6M276.1 1004V1008.6M278.1 995.6V1008.6M279.2 997.2V1008.6M280.4 997.3V1008.6M282.1 997.7V1008.6M284.1 998.2V1008.6M285 995.6V1008.6M285.8 997.8V1008.6M287.1 998V1008.6M288.1 997.6V1008.6M290 997.4V1008.6M290.9 997.8V1008.6M292.6 996.9V1008.6M294.7 997.9V1008.6M296.2 997.3V1008.6M297.6 998V1008.6M298.8 997V1008.6M300.4 997.1V1008.6M301.7 996.2V1008.6M302.6 997.6V1008.6M303.6 997.4V1008.6M305.7 997.4V1008.6M307.7 995.8V1008.6M309.2 997.9V1008.6M311 997.8V1008.6M312.8 995.6V1008.6M315 998.1V1008.6M316.9 995.6V1008.6M318.9 997.5V1008.6M320.3 997V1008.6M321.8 996.1V1008.6M322.6 998.1V1008.6M323.9 998V1008.6M324.9 997.1V1008.6M326.9 995.7V1008.6M328.4 1002.1V1008.6M329.5 1001.6V1008.6M331.3 1001.6V1008.6M333.3 1001.7V1008.6M334.6 1000.2V1008.6M335.7 999.5V1008.6M337.3 1001.7V1008.6M338.8 1001.4V1008.6M339.6 1002.1V1008.6M341 1001.8V1008.6M342.5 1001.8V1008.6M344.1 999.1V1008.6M346.1 1001.3V1008.6M347.1 1000.4V1008.6M349.2 1001.6V1008.6M350.2 999.7V1008.6M351.2 1001.9V1008.6M352.3 1000.8V1008.6M353.6 1001.2V1008.6M354.5 1001.9V1008.6M356 1001.3V1008.6M357.6 1001.5V1008.6M358.9 1001.6V1008.6M360 1001.4V1008.6M361.6 1001.8V1008.6M363.6 1001.2V1008.6M365.5 1002.7V1008.6M366.7 1002.7V1008.6M368.9 1002.7V1008.6M370.1 1002.5V1008.6M371 1002.6V1008.6M372.9 1001.7V1008.6M374.7 1001.6V1008.6M376.4 1000.1V1008.6M377.4 1001.5V1008.6M378.9 1002.4V1008.6M379.8 1001.7V1008.6M381.4 1002V1008.6M382.4 1001.8V1008.6M384.3 1000.7V1008.6M385.3 999.3V1008.6M386.7 1002.5V1008.6M388.2 1002.2V1008.6M389.8 1001.1V1008.6M391.8 1001.8V1008.6M393.6 1002.1V1008.6M394.7 1002.2V1008.6M396.7 1002V1008.6M398.7 1002.3V1008.6M400.4 999.5V1008.6M402.3 1000V1008.6M404.1 1001.5V1008.6M405.5 1001.1V1008.6M407.3 1001.7V1008.6M408.6 1002.5V1008.6M409.9 1002.2V1008.6M411.2 1002.1V1008.6M412.3 1002.3V1008.6M413.6 1002.2V1008.6M415.2 997.6V1008.6M416.9 1000.2V1008.6M419 999.9V1008.6M420.9 1000.4V1008.6M421.7 1000.3V1008.6M422.7 998.6V1008.6M424.2 998.2V1008.6M425.8 1001V1008.6M427.8 1000V1008.6M429.6 998.1V1008.6M430.7 1000.7V1008.6M432.2 1000.8V1008.6M434.3 1000.5V1008.6M435.9 1000.5V1008.6M437.6 1000.8V1008.6M439.4 1000.5V1008.6M440.6 1000.2V1008.6M442.4 998.8V1008.6M444.3 997.3V1008.6M446.4 998.4V1008.6M447.8 998.1V1008.6M448.9 998.6V1008.6M450.8 998V1008.6M452.7 1002.8V1008.6M454.4 1002.6V1008.6M455.3 1002.7V1008.6M456.7 1002.8V1008.6M457.8 1002.8V1008.6M459.7 999.8V1008.6M461.9 1003V1008.6M462.8 1002.3V1008.6M464.5 1002.5V1008.6M466.3 1002.6V1008.6M467.9 1003V1008.6M469.1 1001.3V1008.6M471.1 1002.1V1008.6M472.3 1002.3V1008.6M473.2 1002.7V1008.6M474.2 1002.8V1008.6M475.8 1002.5V1008.6M476.9 1001.8V1008.6M478.9 1002.2V1008.6M480.8 1002V1008.6M481.9 1002.6V1008.6M483.9 1002.2V1008.6M486.1 1002.3V1008.6M487.9 1003.2V1008.6M489.2 1000.7V1008.6M490.1 1002V1008.6M491.6 1002.9V1008.6M493.5 1002.2V1008.6M495.2 1002.2V1008.6M497 1002.9V1008.6M498 1001.9V1008.6M499.4 1001.7V1008.6M501 1001V1008.6M503 1001.6V1008.6M504.3 1002.5V1008.6M506.4 1003.2V1008.6M507.7 1002.5V1008.6M509 1002.6V1008.6M510.6 1002.9V1008.6M512.6 1002.8V1008.6M514.5 1003.2V1008.6M515.3 1002.6V1008.6M516.9 1002.9V1008.6M518.8 1002V1008.6M520.7 1002.2V1008.6M522.5 1003.2V1008.6M524.2 1001.6V1008.6M525.9 1002.4V1008.6M527.8 1001.9V1008.6M529.2 1000V1008.6M530.9 1002.6V1008.6M532.7 1001V1008.6M534.1 1002.7V1008.6M536.1 1001.9V1008.6M538.1 1002.9V1008.6M539.7 1002V1008.6M541 1002.6V1008.6M542.9 1003.3V1008.6M543.9 1002.3V1008.6M545.1 1002.8V1008.6M546.4 1001.4V1008.6M548.2 1001.8V1008.6M549.7 1000.4V1008.6M550.5 1001.7V1008.6M551.6 1001.3V1008.6M553.3 1001.9V1008.6M554.5 1001.1V1008.6M555.7 1001.2V1008.6M557.2 1000.3V1008.6M559.3 1001.9V1008.6M561.4 1002.2V1008.6M562.3 1001.7V1008.6M563.6 1002.1V1008.6M564.8 1002.4V1008.6M565.9 1001.5V1008.6M567.2 1002V1008.6M568.9 1001.8V1008.6M570.1 1000.4V1008.6M571.7 999.5V1008.6M572.8 1002.2V1008.6M574.7 1000.5V1008.6M576.7 1002.6V1008.6M577.9 1002.5V1008.6M579.3 999.8V1008.6M581 1002.6V1008.6M582.9 1000.2V1008.6M583.8 1002.6V1008.6M585.4 1002.2V1008.6M587.3 1002V1008.6M588.2 1001.9V1008.6M590 1001.6V1008.6M591 1002V1008.6M593.1 1002.2V1008.6M594 1001.5V1008.6M595.1 1002.2V1008.6M595.9 1001.8V1008.6M597 1002.3V1008.6M598.3 1002.2V1008.6M599.6 1001.7V1008.6M600.7 1001.2V1008.6M602 1002.6V1008.6M603.8 1000.8V1008.6M604.8 1001.8V1008.6M606.5 1002.4V1008.6M607.9 1002.4V1008.6M608.8 1001.9V1008.6M609.8 1002.1V1008.6M611.9 1002V1008.6M613.6 1001.4V1008.6M614.9 1002V1008.6M615.7 1001.6V1008.6M617.9 1002.2V1008.6M619.5 1001.6V1008.6M620.8 1002.4V1008.6M622.2 1001.3V1008.6M624.1 1002.3V1008.6M626 1002.5V1008.6M627.3 1002.2V1008.6M629.1 1002.7V1008.6M630.9 1002.6V1008.6M633 1002.4V1008.6M633.9 1001.7V1008.6M635.7 999.9V1008.6M637 1002.2V1008.6M639.2 1000V1008.6M640.7 1002.1V1008.6M641.9 999.8V1008.6M643.8 1002.3V1008.6M645.8 1000.2V1008.6M646.9 1001.1V1008.6M648 1002.3V1008.6M648.8 999V1008.6M650.9 1002.4V1008.6M652.7 1002.5V1008.6M654.3 1002.6V1008.6M655.4 1002.2V1008.6M656.7 1002.3V1008.6M658.3 1001.7V1008.6M659.5 1002.4V1008.6M661.3 999.3V1008.6M662.9 1002.1V1008.6M664.6 1001.7V1008.6M666.4 999.3V1008.6M668.4 1002.6V1008.6M669.8 1000.5V1008.6M671.4 1002.2V1008.6M673.4 1002V1008.6M675.2 1002V1008.6M676.9 1002.5V1008.6M678.5 1001.7V1008.6M679.9 1002.2V1008.6M680.8 1002.3V1008.6M681.9 1001.9V1008.6M683.1 999.8V1008.6M685.2 1000.9V1008.6M686.6 1002.6V1008.6M688.5 1000.5V1008.6M689.4 1002.6V1008.6M690.9 1002.7V1008.6M692.1 1001.9V1008.6M693 1001.6V1008.6M694.3 1001.8V1008.6M695.2 999.9V1008.6M696.4 1000.1V1008.6M698.6 1002.2V1008.6M699.8 1001V1008.6M700.9 1002.6V1008.6M702.3 1000.2V1008.6M704.5 1001.5V1008.6M705.6 1002.7V1008.6M706.6 1002.5V1008.6M708.6 1002.1V1008.6M709.6 1000.3V1008.6M711 1001.7V1008.6M712.3 1002.5V1008.6M713.3 1001.5V1008.6M715.2 1001.7V1008.6M717.3 1002.3V1008.6M718.5 1002.3V1008.6M719.7 1002.4V1008.6M721.8 1003V1008.6M723.4 1002.4V1008.6M724.6 1001.9V1008.6M725.5 1002.2V1008.6M726.6 1002.8V1008.6M727.7 1000.9V1008.6M728.6 1002.4V1008.6M729.9 1003.6V1008.6M730.9 1002.9V1008.6M732.2 1002.5V1008.6M733.8 1001.9V1008.6M735.5 1000.9V1008.6M736.6 1003.5V1008.6M738.2 1002.8V1008.6M740.1 1002.6V1008.6M741.2 1003.2V1008.6M742.8 1003.2V1008.6M744.5 1003.3V1008.6M746.5 1002.8V1008.6M747.3 1003.1V1008.6M748.8 1001.9V1008.6M749.7 1003.5V1008.6M751.2 1003.5V1008.6M752.2 1003V1008.6M753.5 1003.2V1008.6M754.6 996.3V1008.6M756.6 995.8V1008.6M757.6 995.2V1008.6M759.5 995.6V1008.6M760.8 993.3V1008.6M761.7 995.4V1008.6M763.9 995.7V1008.6M765.7 995.6V1008.6M767.7 995.7V1008.6M769 996.1V1008.6M769.8 996V1008.6M771.6 995.9V1008.6M773.2 995.8V1008.6M775.3 996V1008.6M777.5 996.3V1008.6M778.8 996.4V1008.6M780.1 995V1008.6M781.8 996.6V1008.6M783.1 996.6V1008.6M785 995.8V1008.6M786.1 996.3V1008.6M787.1 995.8V1008.6M788.4 993.2V1008.6M790.1 996.6V1008.6M791.5 995.2V1008.6M792.8 995.9V1008.6M793.8 995.9V1008.6M795.9 996.5V1008.6M797.2 993.6V1008.6M798.5 995.9V1008.6M800.6 995.6V1008.6M801.9 994.1V1008.6M803.2 996.4V1008.6M804.1 996.1V1008.6M804.9 995.6V1008.6M805.8 995.9V1008.6M807.3 995.2V1008.6M808.5 996.1V1008.6M809.5 995.8V1008.6M811.3 1000.7V1008.6M813.3 1000.5V1008.6M814.6 1000.5V1008.6M815.4 1000.8V1008.6M817.4 1001.4V1008.6M819.1 1001.3V1008.6M820.9 998.6V1008.6M822.9 1000.2V1008.6M823.8 1000.7V1008.6M824.7 1000.6V1008.6M826.2 1000.5V1008.6M827.5 1000.8V1008.6M829.3 1000.5V1008.6M830.6 1000.7V1008.6M832.2 1000.9V1008.6M834 1000.2V1008.6M835.3 1000.2V1008.6M836.1 1000.6V1008.6M837.6 1000.6V1008.6M838.4 998.9V1008.6M840 1000.1V1008.6M841.1 1000.5V1008.6M843.2 1000.4V1008.6M845.3 1000.8V1008.6M847 1000.7V1008.6M848.2 999.6V1008.6M849.5 1002.7V1008.6M850.5 1002.2V1008.6M851.8 1002.8V1008.6M852.9 1001.4V1008.6M854 1001.5V1008.6M855.4 1001.8V1008.6M857.1 1002V1008.6M858.7 1000V1008.6M859.9 1000.4V1008.6M861.2 1002V1008.6M862.9 1001.6V1008.6M864 1002.3V1008.6M865.5 1002V1008.6M867.4 1002.2V1008.6M868.5 1002V1008.6M870.1 1001.8V1008.6M871 1001.2V1008.6M871.9 1001.3V1008.6M873.4 1000.3V1008.6M875.4 1001.7V1008.6M876.9 1002.5V1008.6M878.7 1001.3V1008.6M880 1001.2V1008.6M882 1002.4V1008.6M883.3 1002.2V1008.6M885.3 1002.6V1008.6M886.6 1002.4V1008.6M887.7 1001.4V1008.6M889.8 1002.8V1008.6M891.6 1001.8V1008.6M892.9 1000.9V1008.6M893.8 1003.5V1008.6M894.7 1002.3V1008.6M896.9 1002.7V1008.6M897.7 1003.2V1008.6M899 1002V1008.6M901 1002.9V1008.6M902.7 1000.8V1008.6M904 1003.3V1008.6M905.9 1002.8V1008.6M906.9 1003.7V1008.6M908.4 1002.7V1008.6M909.2 1003.3V1008.6M910.9 1002.9V1008.6M912.3 1003V1008.6M913.2 1001V1008.6M914.4 1002.7V1008.6M915.9 1003.8V1008.6M917.9 1003.1V1008.6M919.9 1003.1V1008.6M921.4 1003.1V1008.6M922.6 1002.3V1008.6M924.8 1001.9V1008.6M926.6 1002.8V1008.6M927.7 1002.7V1008.6M929 1003.5V1008.6M930.5 1002.6V1008.6M932.6 1002.5V1008.6M934.6 1002.9V1008.6M935.9 1002.4V1008.6M937.8 1003.8V1008.6M939.9 1003.2V1008.6M941.1 1004.3V1008.6M942.7 1003.4V1008.6M944 1002.9V1008.6M945.3 1003.9V1008.6M946.5 1004.3V1008.6M947.4 1002.9V1008.6M948.5 1003.9V1008.6M950.3 1003.4V1008.6M951.3 1003.6V1008.6M952.1 1003.8V1008.6M953.3 1001.5V1008.6M954.4 1004.2V1008.6M956.3 1000.5V1008.6M957.7 1004.4V1008.6M959.1 1004V1008.6M960.2 1001.7V1008.6M961.5 1003.4V1008.6M963.7 1003.1V1008.6M965 1004V1008.6M966.7 1002.9V1008.6M968.3 1003.6V1008.6M969.3 1003.7V1008.6M970.7 1004V1008.6M972.1 1003.2V1008.6M973.7 1003.8V1008.6M975.4 1000.5V1008.6M977 1001.3V1008.6M978.4 1000.7V1008.6M979.7 998.2V1008.6M981.1 1001.2V1008.6M983.2 1000.8V1008.6M985.2 998.8V1008.6M987.2 1001.1V1008.6M989.4 998.8V1008.6M991.2 999.5V1008.6M992.6 999.4V1008.6M993.7 1000.2V1008.6M994.6 1000V1008.6M996.1 999.5V1008.6M998.1 1001V1008.6M1000.1 1001.2V1008.6M1001.4 1000.3V1008.6M1002.7 1000V1008.6M1003.7 1000.4V1008.6M1005.7 999.2V1008.6M1006.6 1001V1008.6M1008.3 1000.2V1008.6M1009.3 1000.6V1008.6M1010.2 1000.2V1008.6M1011.8 999.9V1008.6M1013.6 1000V1008.6M1015.4 1000.4V1008.6M1016.3 1000.7V1008.6M1017.6 997.1V1008.6M1019.4 1000.7V1008.6M1020.6 1000.3V1008.6M1022.3 999.2V1008.6M1023.7 1000.2V1008.6M1025.8 999.7V1008.6M1026.9 1000.5V1008.6M1029 998.8V1008.6M1030.7 998.2V1008.6M1032.1 1000.5V1008.6M1033.5 999.8V1008.6M1034.7 998V1008.6M1035.9 1000.2V1008.6M1037 1000.3V1008.6M1039.1 1000.4V1008.6M1040.4 999.8V1008.6M1042 1000.8V1008.6M1044 1000.2V1008.6M1045.4 1000.6V1008.6M1046.7 998.9V1008.6M1047.5 1000.8V1008.6M1048.8 1000.6V1008.6M1050.5 998.2V1008.6M1052.7 1001.3V1008.6M1054.7 1000.4V1008.6M1056.9 1000.1V1008.6M1058.2 1000.9V1008.6M1060.4 1000.3V1008.6M1061.4 999.9V1008.6M1062.3 1000V1008.6M1064 1001V1008.6M1065.9 1000.1V1008.6M1066.9 1000.7V1008.6M1068.9 999.5V1008.6M1069.7 1000.4V1008.6M1071.3 999.8V1008.6M1072.5 1001.2V1008.6M1074.1 1000.8V1008.6M1075.6 1000.1V1008.6M1076.8 1001.1V1008.6M1077.9 1001V1008.6M1079.3 1001.6V1008.6M1081.3 998.2V1008.6M1082.8 1000.8V1008.6M1084.8 1001.7V1008.6M1085.7 999.7V1008.6M1087.5 1001.5V1008.6M1089 1000.6V1008.6M1090.3 1001.4V1008.6M1092.2 1000.6V1008.6M1093.1 1000.9V1008.6M1095.2 1000.9V1008.6M1097 999.4V1008.6M1098.5 999.4V1008.6M1099.9 1000.3V1008.6M1101.1 1001V1008.6M1102.5 1001V1008.6M1104 999.4V1008.6M1104.8 1001.1V1008.6M1106.2 1000.9V1008.6M1107.5 1000.9V1008.6M1108.6 1001.4V1008.6M1109.5 998.6V1008.6M1110.3 998.9V1008.6M1111.6 1001.3V1008.6M1112.8 1001.1V1008.6M1114 1001.1V1008.6M1115.9 1000.7V1008.6M1117.1 1000V1008.6M1118.4 1001.6V1008.6M1119.6 1001.4V1008.6M1121.8 1001.6V1008.6M1123.1 1000.7V1008.6M1124.8 999.9V1008.6M1125.6 1001.2V1008.6M1127.7 1001.4V1008.6M1129.8 1001.3V1008.6M1130.7 1001.4V1008.6M1132.4 999.8V1008.6M1133.3 1001.5V1008.6M1135.2 1001V1008.6M1136.6 1000.7V1008.6M1138.4 1000.7V1008.6M1140.4 1001.3V1008.6M1141.3 1000.7V1008.6M1143.5 999.3V1008.6M1144.6 1001V1008.6M1146.5 999.2V1008.6M1148 1000.6V1008.6M1149.3 999.3V1008.6M1150.8 1001.4V1008.6M1152.7 1000V1008.6M1153.7 1001.3V1008.6M1155 1000.8V1008.6M1156.6 1001.2V1008.6M1158.3 1001.6V1008.6M1159.9 998.5V1008.6M1161.1 1001.4V1008.6M1162.3 1001.3V1008.6M1163.5 999.5V1008.6M1164.8 1001.4V1008.6M1166.4 998.1V1008.6M1168.5 1000.6V1008.6M1169.6 1001V1008.6M1170.9 1001.1V1008.6M1172.7 1000.6V1008.6M1173.9 998V1008.6M1175.8 1001.1V1008.6M1177.7 1000.4V1008.6M1179.2 1000.8V1008.6M1181.1 999V1008.6M1183.2 1000.9V1008.6M1185.3 1001V1008.6M1187.3 1001V1008.6M1188.5 1000V1008.6M1189.6 1000.4V1008.6M1190.6 1000.7V1008.6M1191.8 1000.3V1008.6M1193.8 998.9V1008.6M1195.8 1000.7V1008.6M1197.7 1000.4V1008.6M1199.8 1001V1008.6M1200.6 1001.2V1008.6M1202.5 1000.3V1008.6M1203.9 998.7V1008.6M1205.4 1000.8V1008.6M1206.5 1001.2V1008.6M1208.6 1000.9V1008.6M1210.7 1000V1008.6M1211.6 1001.3V1008.6M1213.7 999.8V1008.6M1214.5 1000V1008.6M1216.7 999.5V1008.6M1218.6 1000.7V1008.6M1220.2 1000.2V1008.6M1221.5 1000.7V1008.6M1223.2 1000.5V1008.6M1224.2 1000.5V1008.6M1226.3 1000.8V1008.6M1227.5 1000V1008.6M1229.6 999V1008.6M1231.7 999V1008.6M1232.6 1000.5V1008.6M1234.3 1000.6V1008.6M1236.4 1000.1V1008.6M1238.6 1000.1V1008.6M1240.6 1001.2V1008.6M1241.4 1000.6V1008.6M1243 1000V1008.6M1244.9 1000.1V1008.6M1246.8 1000.1V1008.6M1248.2 1000.5V1008.6M1249 1001V1008.6M1250.6 1000.7V1008.6M1252.4 1000.6V1008.6M1254.4 1000.3V1008.6M1255.6 999.8V1008.6M1256.8 1000V1008.6M1258 1000.7V1008.6M1260 1000.3V1008.6M1261.2 999.9V1008.6M1263 1000.9V1008.6M1263.9 1001V1008.6M1265 997.7V1008.6M1266.3 998.6V1008.6M1268.5 1000.6V1008.6M1270.4 1001V1008.6M1272.3 1000.5V1008.6M1273.9 1000.9V1008.6M1275.9 1000V1008.6M1277.2 998.3V1008.6M1278.2 998.8V1008.6M1280.4 1001.2V1008.6M1282.5 999.7V1008.6M1284.6 1000.3V1008.6M1286.3 1000.6V1008.6M1288.5 1000.6V1008.6M1289.4 998.2V1008.6M1290.3 1000.3V1008.6M1291.2 1000.5V1008.6M1292.2 1000.6V1008.6M1293.8 1000.9V1008.6M1295.9 1000.2V1008.6M1296.8 999.7V1008.6M1298.9 1000.7V1008.6M1300.2 1000.8V1008.6M1302.1 1001.2V1008.6" stroke="#000" stroke-width="3.4" stroke-linecap="round" fill="none"/>
<path d="M162.5 955.1l-2.3 4.7h4.6zM163.7 955.1l-2.3 4.7h4.6zM164.5 955.4l-2.1 4.3h4.2zM185.5 955.4l-2.1 4.3h4.2zM194.5 955.4l-2.1 4.3h4.2zM228.5 955.4l-2.1 4.3h4.2zM240.3 955.4l-2.1 4.3h4.2zM276 955.1l-2.3 4.7h4.6zM277.2 955.1l-2.3 4.7h4.6zM278 955.1l-2.3 4.7h4.6zM279.2 955.1l-2.3 4.7h4.6zM280 955.1l-2.3 4.7h4.6zM281.2 955.1l-2.3 4.7h4.6zM302 955.4l-2.1 4.3h4.2zM304.5 955.4l-2.1 4.3h4.2zM327.5 955.1l-2.3 4.7h4.6zM328.7 955.1l-2.3 4.7h4.6zM363.5 955.1l-2.3 4.7h4.6zM364.7 955.1l-2.3 4.7h4.6zM403 955.4l-2.1 4.3h4.2zM415.5 955.1l-2.3 4.7h4.6zM416.7 955.1l-2.3 4.7h4.6zM451.5 955.1l-2.3 4.7h4.6zM452.7 955.1l-2.3 4.7h4.6zM453 955.1l-2.3 4.7h4.6zM454.2 955.1l-2.3 4.7h4.6zM462.5 955.4l-2.1 4.3h4.2zM512.5 955.4l-2.1 4.3h4.2zM544.5 955.1l-2.3 4.7h4.6zM545.7 955.1l-2.3 4.7h4.6zM607.5 955.4l-2.1 4.3h4.2zM629.5 955.1l-2.3 4.7h4.6zM630.7 955.1l-2.3 4.7h4.6zM693.5 955.4l-2.1 4.3h4.2zM721.5 955.1l-2.3 4.7h4.6zM722.7 955.1l-2.3 4.7h4.6zM729.3 955.4l-2.1 4.3h4.2zM754.5 955.1l-2.3 4.7h4.6zM755.7 955.1l-2.3 4.7h4.6zM787.5 955.4l-2.1 4.3h4.2zM802.5 955.4l-2.1 4.3h4.2zM812 955.1l-2.3 4.7h4.6zM813.2 955.1l-2.3 4.7h4.6zM849.5 955.1l-2.3 4.7h4.6zM850.7 955.1l-2.3 4.7h4.6zM877 955.4l-2.1 4.3h4.2zM892.5 955.1l-2.3 4.7h4.6zM893.7 955.1l-2.3 4.7h4.6zM939.5 955.1l-2.3 4.7h4.6zM940.7 955.1l-2.3 4.7h4.6zM975.5 955.1l-2.3 4.7h4.6zM976.7 955.1l-2.3 4.7h4.6zM1006.5 955.1l-2.3 4.7h4.6zM1007.7 955.1l-2.3 4.7h4.6zM1032.3 955.4l-2.1 4.3h4.2zM1038.5 955.1l-2.3 4.7h4.6zM1039.7 955.1l-2.3 4.7h4.6zM1057.5 955.4l-2.1 4.3h4.2zM1070.5 955.1l-2.3 4.7h4.6zM1071.7 955.1l-2.3 4.7h4.6zM1102.5 955.1l-2.3 4.7h4.6zM1103.7 955.1l-2.3 4.7h4.6zM1134.5 955.1l-2.3 4.7h4.6zM1135.7 955.1l-2.3 4.7h4.6zM1166.5 955.1l-2.3 4.7h4.6zM1167.7 955.1l-2.3 4.7h4.6zM1206.5 955.1l-2.3 4.7h4.6zM1207.7 955.1l-2.3 4.7h4.6zM1247.5 955.1l-2.3 4.7h4.6zM1248.7 955.1l-2.3 4.7h4.6z" fill="#ff0000"/>
<path d="M386.4 989.4h0.01M447.4 986.4h0.01M729.4 974.4h0.01M731.4 986.4h0.01M802.4 968.4h0.01M841.4 988.4h0.01M774.4 992.6h0.01M799.6 993h0.01" stroke="#ff0000" stroke-width="2.6" stroke-linecap="round" fill="none"/>
<path d="M105.4 1009.5H1485.4M105.4 983.5H1485.4M105.4 957.6H1485.4" stroke="#b0b0b0" stroke-width="1.111" stroke-dasharray="1.111 1.833" fill="none"/>
<path d="M162 1011.4V954.5M276 1011.4V954.5M278 1011.4V954.5M327 1011.4V954.5M363 1011.4V954.5M415 1011.4V954.5M451 1011.4V954.5M544 1011.4V954.5M629 1011.4V954.5M721 1011.4V954.5M754 1011.4V954.5M811 1011.4V954.5M849 1011.4V954.5M892 1011.4V954.5M939 1011.4V954.5M975 1011.4V954.5M1006 1011.4V954.5M1038 1011.4V954.5M1070 1011.4V954.5M1102 1011.4V954.5M1134 1011.4V954.5M1165 1011.4V954.5M1206 1011.4V954.5M1247 1011.4V954.5M1303 1011.4V954.5" stroke="#800080" stroke-width="2.083" stroke-dasharray="2.083 3.438" fill="none"/>
</g>
<rect x="105.4" y="954.5" width="1380" height="56.9" fill="none" stroke="#000" stroke-width="1.111"/>
<path d="M162.50 1011.40v4.86M412.50 1011.40v4.86M661.50 1011.40v4.86M911.50 1011.40v4.86M1160.50 1011.40v4.86M1410.50 1011.40v4.86" stroke="#000" stroke-width="1.111" fill="none"/><text x="162.4" y="1032.1" font-size="13.889" text-anchor="middle">0</text><text x="412" y="1032.1" font-size="13.889" text-anchor="middle">20000</text><text x="661.6" y="1032.1" font-size="13.889" text-anchor="middle">40000</text><text x="911.2" y="1032.1" font-size="13.889" text-anchor="middle">60000</text><text x="1160.8" y="1032.1" font-size="13.889" text-anchor="middle">80000</text><text x="1410.5" y="1032.1" font-size="13.889" text-anchor="middle">100000</text>
<path d="M100.54 1009.45h4.86M100.54 983.50h4.86M100.54 957.55h4.86" stroke="#000" stroke-width="1.111" fill="none"/><path d="M102.62 996.48h2.78M102.62 970.53h2.78" stroke="#000" stroke-width="0.833" fill="none"/><text x="95.7" y="1014.2" font-size="13.889" text-anchor="end">0</text><text x="95.7" y="988.3" font-size="13.889" text-anchor="end">5</text><text x="95.7" y="962.4" font-size="13.889" text-anchor="end">10</text>
<text transform="translate(69.2 984.2) rotate(-90)" font-size="13.889" text-anchor="middle">dr</text>
</svg>
</body></html>
